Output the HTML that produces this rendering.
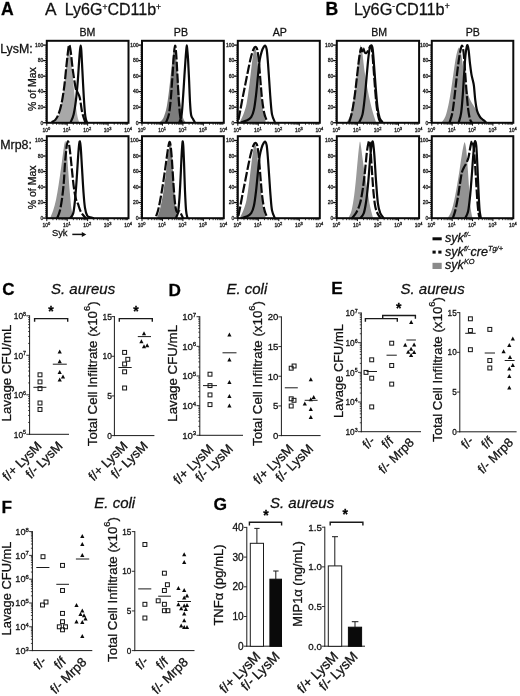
<!DOCTYPE html>
<html><head><meta charset="utf-8"><title>Figure</title>
<style>
html,body{margin:0;padding:0;background:#fff;}
body{width:520px;height:696px;overflow:hidden;font-family:"Liberation Sans",sans-serif;}
svg{display:block;font-family:"Liberation Sans",sans-serif;filter:blur(0.35px);}
svg text{font-family:"Liberation Sans",sans-serif;stroke:#111;stroke-width:0.28px;paint-order:stroke fill;}
</style></head><body>
<svg width="520" height="696" viewBox="0 0 520 696">
<rect x="0" y="0" width="520" height="696" fill="#ffffff"/>
<text x="0.90" y="15.20" font-size="17.6" text-anchor="start" font-weight="bold" fill="#000" >A</text>
<text x="45.00" y="15.20" font-size="17.3" text-anchor="start" fill="#111" >A</text>
<text x="64.70" y="15.20" font-size="16.05" text-anchor="start" fill="#111" >Ly6G<tspan font-size="8.5" dy="-5.6">+</tspan><tspan dy="5.6">CD11b</tspan><tspan font-size="8.5" dy="-5.6">+</tspan></text>
<text x="325.60" y="15.00" font-size="17.6" text-anchor="start" font-weight="bold" fill="#000" >B</text>
<text x="354.00" y="15.00" font-size="16.3" text-anchor="start" fill="#111" >Ly6G<tspan font-size="8.5" dy="-5.6">-</tspan><tspan dy="5.6">CD11b</tspan><tspan font-size="8.5" dy="-5.6">+</tspan></text>
<text x="87.40" y="35.60" font-size="10.6" text-anchor="middle" fill="#111" >BM</text>
<text x="180.90" y="35.60" font-size="10.6" text-anchor="middle" fill="#111" >PB</text>
<text x="279.80" y="35.60" font-size="10.6" text-anchor="middle" fill="#111" >AP</text>
<text x="379.20" y="35.60" font-size="10.6" text-anchor="middle" fill="#111" >BM</text>
<text x="472.70" y="35.60" font-size="10.6" text-anchor="middle" fill="#111" >PB</text>
<text x="0.20" y="52.60" font-size="12.4" text-anchor="start" fill="#111" >LysM:</text>
<text x="0.20" y="149.40" font-size="12.4" text-anchor="start" fill="#111" >Mrp8:</text>
<text x="36.00" y="89.00" font-size="10.5" text-anchor="middle" transform="rotate(-90 36.00 89.00)" fill="#111" >% of Max</text>
<text x="36.00" y="187.40" font-size="10.5" text-anchor="middle" transform="rotate(-90 36.00 187.40)" fill="#111" >% of Max</text>
<text x="51.90" y="236.10" font-size="9.4" text-anchor="start" fill="#111" >Syk</text>
<path d="M72.3,234.4 L83,234.4" stroke="#111" stroke-width="1.5" fill="none"/><path d="M81.8,231.9 L86.3,234.4 L81.8,236.9 Z" fill="#111"/>
<path d="M53.15,122.24 C53.76,121.72 55.59,121.36 56.81,119.13 C58.03,116.91 59.37,113.50 60.46,108.90 C61.56,104.31 62.47,98.25 63.38,91.55 C64.30,84.85 65.27,75.26 65.94,68.71 C66.61,62.17 66.95,56.04 67.40,52.27 C67.86,48.49 68.23,46.06 68.68,46.06 C69.14,46.06 69.50,47.58 70.14,52.27 C70.78,56.96 71.70,66.28 72.52,74.19 C73.34,82.11 74.25,92.77 75.08,99.77 C75.90,106.77 76.75,112.47 77.45,116.21 C78.15,119.96 78.97,121.24 79.28,122.24 L79.28,123.20 L53.15,123.20 Z" fill="#a8a8a8" stroke="none"/>
<path d="M51.69,122.24 C52.30,121.84 54.25,121.11 55.35,119.87 C56.44,118.62 57.26,117.34 58.27,114.75 C59.27,112.16 60.37,109.12 61.38,104.34 C62.38,99.56 63.45,92.61 64.30,86.07 C65.15,79.52 65.85,71.00 66.49,65.06 C67.13,59.12 67.68,53.79 68.13,50.44 C68.59,47.09 68.80,44.81 69.23,44.96 C69.66,45.11 70.08,47.09 70.69,51.36 C71.30,55.62 72.03,64.30 72.88,70.54 C73.74,76.78 74.99,85.09 75.81,88.81 C76.63,92.52 77.15,91.30 77.82,92.83 C78.49,94.35 79.10,94.65 79.83,97.94 C80.56,101.23 81.29,108.51 82.20,112.56 C83.12,116.61 84.79,120.63 85.31,122.24" fill="none" stroke="#0a0a0a" stroke-width="2.2" stroke-dasharray="9.5 2.2" stroke-linejoin="round"/>
<path d="M70.69,122.24 C71.18,120.93 72.73,118.13 73.62,114.38 C74.50,110.64 75.29,105.40 75.99,99.77 C76.69,94.14 77.30,86.98 77.82,80.59 C78.33,74.19 78.73,66.49 79.10,61.40 C79.46,56.32 79.75,52.70 80.01,50.08 C80.27,47.46 80.44,45.69 80.65,45.69 C80.86,45.69 81.00,45.94 81.29,50.08 C81.58,54.22 81.96,62.56 82.38,70.54 C82.81,78.52 83.36,90.33 83.85,97.94 C84.33,105.55 84.79,112.16 85.31,116.21 C85.83,120.26 86.68,121.24 86.95,122.24" fill="none" stroke="#0a0a0a" stroke-width="2.2" stroke-linejoin="round"/>
<rect x="46.80" y="40.80" width="81.70" height="82.00" fill="none" stroke="#0a0a0a" stroke-width="2.0"/>
<line x1="46.80" y1="122.70" x2="43.10" y2="122.70" stroke="#0a0a0a" stroke-width="1.3"/>
<line x1="46.80" y1="120.76" x2="45.05" y2="120.76" stroke="#0a0a0a" stroke-width="0.8"/>
<line x1="46.80" y1="118.82" x2="45.05" y2="118.82" stroke="#0a0a0a" stroke-width="0.8"/>
<line x1="46.80" y1="116.88" x2="45.05" y2="116.88" stroke="#0a0a0a" stroke-width="0.8"/>
<line x1="46.80" y1="114.94" x2="45.05" y2="114.94" stroke="#0a0a0a" stroke-width="0.8"/>
<line x1="46.80" y1="113.00" x2="45.05" y2="113.00" stroke="#0a0a0a" stroke-width="0.8"/>
<line x1="46.80" y1="111.06" x2="45.05" y2="111.06" stroke="#0a0a0a" stroke-width="0.8"/>
<line x1="46.80" y1="109.12" x2="45.05" y2="109.12" stroke="#0a0a0a" stroke-width="0.8"/>
<line x1="46.80" y1="107.18" x2="43.10" y2="107.18" stroke="#0a0a0a" stroke-width="1.3"/>
<line x1="46.80" y1="105.24" x2="45.05" y2="105.24" stroke="#0a0a0a" stroke-width="0.8"/>
<line x1="46.80" y1="103.30" x2="45.05" y2="103.30" stroke="#0a0a0a" stroke-width="0.8"/>
<line x1="46.80" y1="101.36" x2="45.05" y2="101.36" stroke="#0a0a0a" stroke-width="0.8"/>
<line x1="46.80" y1="99.42" x2="45.05" y2="99.42" stroke="#0a0a0a" stroke-width="0.8"/>
<line x1="46.80" y1="97.48" x2="45.05" y2="97.48" stroke="#0a0a0a" stroke-width="0.8"/>
<line x1="46.80" y1="95.54" x2="45.05" y2="95.54" stroke="#0a0a0a" stroke-width="0.8"/>
<line x1="46.80" y1="93.60" x2="45.05" y2="93.60" stroke="#0a0a0a" stroke-width="0.8"/>
<line x1="46.80" y1="91.66" x2="43.10" y2="91.66" stroke="#0a0a0a" stroke-width="1.3"/>
<line x1="46.80" y1="89.72" x2="45.05" y2="89.72" stroke="#0a0a0a" stroke-width="0.8"/>
<line x1="46.80" y1="87.78" x2="45.05" y2="87.78" stroke="#0a0a0a" stroke-width="0.8"/>
<line x1="46.80" y1="85.84" x2="45.05" y2="85.84" stroke="#0a0a0a" stroke-width="0.8"/>
<line x1="46.80" y1="83.90" x2="45.05" y2="83.90" stroke="#0a0a0a" stroke-width="0.8"/>
<line x1="46.80" y1="81.96" x2="45.05" y2="81.96" stroke="#0a0a0a" stroke-width="0.8"/>
<line x1="46.80" y1="80.02" x2="45.05" y2="80.02" stroke="#0a0a0a" stroke-width="0.8"/>
<line x1="46.80" y1="78.08" x2="45.05" y2="78.08" stroke="#0a0a0a" stroke-width="0.8"/>
<line x1="46.80" y1="76.14" x2="43.10" y2="76.14" stroke="#0a0a0a" stroke-width="1.3"/>
<line x1="46.80" y1="74.20" x2="45.05" y2="74.20" stroke="#0a0a0a" stroke-width="0.8"/>
<line x1="46.80" y1="72.26" x2="45.05" y2="72.26" stroke="#0a0a0a" stroke-width="0.8"/>
<line x1="46.80" y1="70.32" x2="45.05" y2="70.32" stroke="#0a0a0a" stroke-width="0.8"/>
<line x1="46.80" y1="68.38" x2="45.05" y2="68.38" stroke="#0a0a0a" stroke-width="0.8"/>
<line x1="46.80" y1="66.44" x2="45.05" y2="66.44" stroke="#0a0a0a" stroke-width="0.8"/>
<line x1="46.80" y1="64.50" x2="45.05" y2="64.50" stroke="#0a0a0a" stroke-width="0.8"/>
<line x1="46.80" y1="62.56" x2="45.05" y2="62.56" stroke="#0a0a0a" stroke-width="0.8"/>
<line x1="46.80" y1="60.62" x2="43.10" y2="60.62" stroke="#0a0a0a" stroke-width="1.3"/>
<line x1="46.80" y1="58.68" x2="45.05" y2="58.68" stroke="#0a0a0a" stroke-width="0.8"/>
<line x1="46.80" y1="56.74" x2="45.05" y2="56.74" stroke="#0a0a0a" stroke-width="0.8"/>
<line x1="46.80" y1="54.80" x2="45.05" y2="54.80" stroke="#0a0a0a" stroke-width="0.8"/>
<line x1="46.80" y1="52.86" x2="45.05" y2="52.86" stroke="#0a0a0a" stroke-width="0.8"/>
<line x1="46.80" y1="50.92" x2="45.05" y2="50.92" stroke="#0a0a0a" stroke-width="0.8"/>
<line x1="46.80" y1="48.98" x2="45.05" y2="48.98" stroke="#0a0a0a" stroke-width="0.8"/>
<line x1="46.80" y1="47.04" x2="45.05" y2="47.04" stroke="#0a0a0a" stroke-width="0.8"/>
<line x1="46.80" y1="45.10" x2="43.10" y2="45.10" stroke="#0a0a0a" stroke-width="1.3"/>
<text x="43.40" y="124.50" font-size="5" text-anchor="end" fill="#222" >0</text>
<text x="43.40" y="108.98" font-size="5" text-anchor="end" fill="#222" >20</text>
<text x="43.40" y="93.46" font-size="5" text-anchor="end" fill="#222" >40</text>
<text x="43.40" y="77.94" font-size="5" text-anchor="end" fill="#222" >60</text>
<text x="43.40" y="62.42" font-size="5" text-anchor="end" fill="#222" >80</text>
<text x="43.40" y="46.90" font-size="5" text-anchor="end" fill="#222" >100</text>
<line x1="46.80" y1="122.80" x2="46.80" y2="125.70" stroke="#0a0a0a" stroke-width="1.0"/>
<line x1="52.95" y1="122.80" x2="52.95" y2="124.80" stroke="#0a0a0a" stroke-width="0.8"/>
<line x1="56.55" y1="122.80" x2="56.55" y2="124.80" stroke="#0a0a0a" stroke-width="0.8"/>
<line x1="59.10" y1="122.80" x2="59.10" y2="124.80" stroke="#0a0a0a" stroke-width="0.8"/>
<line x1="61.08" y1="122.80" x2="61.08" y2="124.80" stroke="#0a0a0a" stroke-width="0.8"/>
<line x1="62.69" y1="122.80" x2="62.69" y2="124.80" stroke="#0a0a0a" stroke-width="0.8"/>
<line x1="64.06" y1="122.80" x2="64.06" y2="124.80" stroke="#0a0a0a" stroke-width="0.8"/>
<line x1="65.25" y1="122.80" x2="65.25" y2="124.80" stroke="#0a0a0a" stroke-width="0.8"/>
<line x1="66.29" y1="122.80" x2="66.29" y2="124.80" stroke="#0a0a0a" stroke-width="0.8"/>
<line x1="67.22" y1="122.80" x2="67.22" y2="125.70" stroke="#0a0a0a" stroke-width="1.0"/>
<line x1="73.37" y1="122.80" x2="73.37" y2="124.80" stroke="#0a0a0a" stroke-width="0.8"/>
<line x1="76.97" y1="122.80" x2="76.97" y2="124.80" stroke="#0a0a0a" stroke-width="0.8"/>
<line x1="79.52" y1="122.80" x2="79.52" y2="124.80" stroke="#0a0a0a" stroke-width="0.8"/>
<line x1="81.50" y1="122.80" x2="81.50" y2="124.80" stroke="#0a0a0a" stroke-width="0.8"/>
<line x1="83.12" y1="122.80" x2="83.12" y2="124.80" stroke="#0a0a0a" stroke-width="0.8"/>
<line x1="84.49" y1="122.80" x2="84.49" y2="124.80" stroke="#0a0a0a" stroke-width="0.8"/>
<line x1="85.67" y1="122.80" x2="85.67" y2="124.80" stroke="#0a0a0a" stroke-width="0.8"/>
<line x1="86.72" y1="122.80" x2="86.72" y2="124.80" stroke="#0a0a0a" stroke-width="0.8"/>
<line x1="87.65" y1="122.80" x2="87.65" y2="125.70" stroke="#0a0a0a" stroke-width="1.0"/>
<line x1="93.80" y1="122.80" x2="93.80" y2="124.80" stroke="#0a0a0a" stroke-width="0.8"/>
<line x1="97.40" y1="122.80" x2="97.40" y2="124.80" stroke="#0a0a0a" stroke-width="0.8"/>
<line x1="99.95" y1="122.80" x2="99.95" y2="124.80" stroke="#0a0a0a" stroke-width="0.8"/>
<line x1="101.93" y1="122.80" x2="101.93" y2="124.80" stroke="#0a0a0a" stroke-width="0.8"/>
<line x1="103.54" y1="122.80" x2="103.54" y2="124.80" stroke="#0a0a0a" stroke-width="0.8"/>
<line x1="104.91" y1="122.80" x2="104.91" y2="124.80" stroke="#0a0a0a" stroke-width="0.8"/>
<line x1="106.10" y1="122.80" x2="106.10" y2="124.80" stroke="#0a0a0a" stroke-width="0.8"/>
<line x1="107.14" y1="122.80" x2="107.14" y2="124.80" stroke="#0a0a0a" stroke-width="0.8"/>
<line x1="108.08" y1="122.80" x2="108.08" y2="125.70" stroke="#0a0a0a" stroke-width="1.0"/>
<line x1="114.22" y1="122.80" x2="114.22" y2="124.80" stroke="#0a0a0a" stroke-width="0.8"/>
<line x1="117.82" y1="122.80" x2="117.82" y2="124.80" stroke="#0a0a0a" stroke-width="0.8"/>
<line x1="120.37" y1="122.80" x2="120.37" y2="124.80" stroke="#0a0a0a" stroke-width="0.8"/>
<line x1="122.35" y1="122.80" x2="122.35" y2="124.80" stroke="#0a0a0a" stroke-width="0.8"/>
<line x1="123.97" y1="122.80" x2="123.97" y2="124.80" stroke="#0a0a0a" stroke-width="0.8"/>
<line x1="125.34" y1="122.80" x2="125.34" y2="124.80" stroke="#0a0a0a" stroke-width="0.8"/>
<line x1="126.52" y1="122.80" x2="126.52" y2="124.80" stroke="#0a0a0a" stroke-width="0.8"/>
<line x1="127.57" y1="122.80" x2="127.57" y2="124.80" stroke="#0a0a0a" stroke-width="0.8"/>
<text x="42.50" y="132.00" font-size="5" text-anchor="start" fill="#222" >10<tspan font-size="4" dy="-2.3">0</tspan></text>
<text x="62.92" y="132.00" font-size="5" text-anchor="start" fill="#222" >10<tspan font-size="4" dy="-2.3">1</tspan></text>
<text x="83.35" y="132.00" font-size="5" text-anchor="start" fill="#222" >10<tspan font-size="4" dy="-2.3">2</tspan></text>
<text x="103.78" y="132.00" font-size="5" text-anchor="start" fill="#222" >10<tspan font-size="4" dy="-2.3">3</tspan></text>
<text x="124.20" y="132.00" font-size="5" text-anchor="start" fill="#222" >10<tspan font-size="4" dy="-2.3">4</tspan></text>
<path d="M159.75,122.24 C160.36,121.54 162.25,120.57 163.40,118.04 C164.56,115.51 165.72,111.95 166.69,107.08 C167.67,102.21 168.43,95.51 169.25,88.81 C170.07,82.11 170.92,73.13 171.62,66.88 C172.33,60.64 172.96,54.64 173.45,51.36 C173.94,48.07 174.09,46.09 174.55,47.15 C175.00,48.22 175.55,52.03 176.19,57.75 C176.83,63.47 177.62,73.58 178.38,81.50 C179.15,89.42 179.97,99.16 180.76,105.25 C181.55,111.34 182.31,115.21 183.13,118.04 C183.96,120.87 185.27,121.54 185.69,122.24 L185.69,123.20 L159.75,123.20 Z" fill="#7c7c7c" stroke="none"/>
<path d="M166.14,122.24 C166.60,120.93 168.12,118.13 168.88,114.38 C169.65,110.64 170.13,105.86 170.71,99.77 C171.29,93.68 171.84,85.15 172.36,77.85 C172.87,70.54 173.36,61.28 173.82,55.92 C174.27,50.56 174.70,46.00 175.10,45.69 C175.49,45.39 175.80,49.04 176.19,54.10 C176.59,59.15 177.04,68.41 177.47,76.02 C177.90,83.63 178.29,93.07 178.75,99.77 C179.21,106.47 179.72,112.47 180.21,116.21 C180.70,119.96 181.43,121.24 181.67,122.24" fill="none" stroke="#0a0a0a" stroke-width="2.2" stroke-dasharray="9.5 2.2" stroke-linejoin="round"/>
<path d="M179.48,122.24 C179.85,120.93 181.06,118.74 181.67,114.38 C182.28,110.03 182.68,102.51 183.13,96.12 C183.59,89.72 184.02,82.11 184.41,76.02 C184.81,69.93 185.21,63.84 185.51,59.58 C185.81,55.31 186.03,52.82 186.24,50.44 C186.45,48.07 186.61,45.33 186.79,45.33 C186.97,45.33 187.12,48.07 187.34,50.44 C187.55,52.82 187.79,55.01 188.07,59.58 C188.34,64.14 188.65,70.54 188.98,77.85 C189.32,85.15 189.71,97.18 190.08,103.42 C190.44,109.67 190.69,112.71 191.17,115.30 C191.66,117.89 192.39,117.79 193.00,118.95 C193.61,120.11 194.52,121.69 194.83,122.24" fill="none" stroke="#0a0a0a" stroke-width="2.2" stroke-linejoin="round"/>
<rect x="142.00" y="40.80" width="81.80" height="82.00" fill="none" stroke="#0a0a0a" stroke-width="2.0"/>
<line x1="142.00" y1="122.70" x2="138.30" y2="122.70" stroke="#0a0a0a" stroke-width="1.3"/>
<line x1="142.00" y1="120.76" x2="140.25" y2="120.76" stroke="#0a0a0a" stroke-width="0.8"/>
<line x1="142.00" y1="118.82" x2="140.25" y2="118.82" stroke="#0a0a0a" stroke-width="0.8"/>
<line x1="142.00" y1="116.88" x2="140.25" y2="116.88" stroke="#0a0a0a" stroke-width="0.8"/>
<line x1="142.00" y1="114.94" x2="140.25" y2="114.94" stroke="#0a0a0a" stroke-width="0.8"/>
<line x1="142.00" y1="113.00" x2="140.25" y2="113.00" stroke="#0a0a0a" stroke-width="0.8"/>
<line x1="142.00" y1="111.06" x2="140.25" y2="111.06" stroke="#0a0a0a" stroke-width="0.8"/>
<line x1="142.00" y1="109.12" x2="140.25" y2="109.12" stroke="#0a0a0a" stroke-width="0.8"/>
<line x1="142.00" y1="107.18" x2="138.30" y2="107.18" stroke="#0a0a0a" stroke-width="1.3"/>
<line x1="142.00" y1="105.24" x2="140.25" y2="105.24" stroke="#0a0a0a" stroke-width="0.8"/>
<line x1="142.00" y1="103.30" x2="140.25" y2="103.30" stroke="#0a0a0a" stroke-width="0.8"/>
<line x1="142.00" y1="101.36" x2="140.25" y2="101.36" stroke="#0a0a0a" stroke-width="0.8"/>
<line x1="142.00" y1="99.42" x2="140.25" y2="99.42" stroke="#0a0a0a" stroke-width="0.8"/>
<line x1="142.00" y1="97.48" x2="140.25" y2="97.48" stroke="#0a0a0a" stroke-width="0.8"/>
<line x1="142.00" y1="95.54" x2="140.25" y2="95.54" stroke="#0a0a0a" stroke-width="0.8"/>
<line x1="142.00" y1="93.60" x2="140.25" y2="93.60" stroke="#0a0a0a" stroke-width="0.8"/>
<line x1="142.00" y1="91.66" x2="138.30" y2="91.66" stroke="#0a0a0a" stroke-width="1.3"/>
<line x1="142.00" y1="89.72" x2="140.25" y2="89.72" stroke="#0a0a0a" stroke-width="0.8"/>
<line x1="142.00" y1="87.78" x2="140.25" y2="87.78" stroke="#0a0a0a" stroke-width="0.8"/>
<line x1="142.00" y1="85.84" x2="140.25" y2="85.84" stroke="#0a0a0a" stroke-width="0.8"/>
<line x1="142.00" y1="83.90" x2="140.25" y2="83.90" stroke="#0a0a0a" stroke-width="0.8"/>
<line x1="142.00" y1="81.96" x2="140.25" y2="81.96" stroke="#0a0a0a" stroke-width="0.8"/>
<line x1="142.00" y1="80.02" x2="140.25" y2="80.02" stroke="#0a0a0a" stroke-width="0.8"/>
<line x1="142.00" y1="78.08" x2="140.25" y2="78.08" stroke="#0a0a0a" stroke-width="0.8"/>
<line x1="142.00" y1="76.14" x2="138.30" y2="76.14" stroke="#0a0a0a" stroke-width="1.3"/>
<line x1="142.00" y1="74.20" x2="140.25" y2="74.20" stroke="#0a0a0a" stroke-width="0.8"/>
<line x1="142.00" y1="72.26" x2="140.25" y2="72.26" stroke="#0a0a0a" stroke-width="0.8"/>
<line x1="142.00" y1="70.32" x2="140.25" y2="70.32" stroke="#0a0a0a" stroke-width="0.8"/>
<line x1="142.00" y1="68.38" x2="140.25" y2="68.38" stroke="#0a0a0a" stroke-width="0.8"/>
<line x1="142.00" y1="66.44" x2="140.25" y2="66.44" stroke="#0a0a0a" stroke-width="0.8"/>
<line x1="142.00" y1="64.50" x2="140.25" y2="64.50" stroke="#0a0a0a" stroke-width="0.8"/>
<line x1="142.00" y1="62.56" x2="140.25" y2="62.56" stroke="#0a0a0a" stroke-width="0.8"/>
<line x1="142.00" y1="60.62" x2="138.30" y2="60.62" stroke="#0a0a0a" stroke-width="1.3"/>
<line x1="142.00" y1="58.68" x2="140.25" y2="58.68" stroke="#0a0a0a" stroke-width="0.8"/>
<line x1="142.00" y1="56.74" x2="140.25" y2="56.74" stroke="#0a0a0a" stroke-width="0.8"/>
<line x1="142.00" y1="54.80" x2="140.25" y2="54.80" stroke="#0a0a0a" stroke-width="0.8"/>
<line x1="142.00" y1="52.86" x2="140.25" y2="52.86" stroke="#0a0a0a" stroke-width="0.8"/>
<line x1="142.00" y1="50.92" x2="140.25" y2="50.92" stroke="#0a0a0a" stroke-width="0.8"/>
<line x1="142.00" y1="48.98" x2="140.25" y2="48.98" stroke="#0a0a0a" stroke-width="0.8"/>
<line x1="142.00" y1="47.04" x2="140.25" y2="47.04" stroke="#0a0a0a" stroke-width="0.8"/>
<line x1="142.00" y1="45.10" x2="138.30" y2="45.10" stroke="#0a0a0a" stroke-width="1.3"/>
<text x="138.60" y="124.50" font-size="5" text-anchor="end" fill="#222" >0</text>
<text x="138.60" y="108.98" font-size="5" text-anchor="end" fill="#222" >20</text>
<text x="138.60" y="93.46" font-size="5" text-anchor="end" fill="#222" >40</text>
<text x="138.60" y="77.94" font-size="5" text-anchor="end" fill="#222" >60</text>
<text x="138.60" y="62.42" font-size="5" text-anchor="end" fill="#222" >80</text>
<text x="138.60" y="46.90" font-size="5" text-anchor="end" fill="#222" >100</text>
<line x1="142.00" y1="122.80" x2="142.00" y2="125.70" stroke="#0a0a0a" stroke-width="1.0"/>
<line x1="148.16" y1="122.80" x2="148.16" y2="124.80" stroke="#0a0a0a" stroke-width="0.8"/>
<line x1="151.76" y1="122.80" x2="151.76" y2="124.80" stroke="#0a0a0a" stroke-width="0.8"/>
<line x1="154.31" y1="122.80" x2="154.31" y2="124.80" stroke="#0a0a0a" stroke-width="0.8"/>
<line x1="156.29" y1="122.80" x2="156.29" y2="124.80" stroke="#0a0a0a" stroke-width="0.8"/>
<line x1="157.91" y1="122.80" x2="157.91" y2="124.80" stroke="#0a0a0a" stroke-width="0.8"/>
<line x1="159.28" y1="122.80" x2="159.28" y2="124.80" stroke="#0a0a0a" stroke-width="0.8"/>
<line x1="160.47" y1="122.80" x2="160.47" y2="124.80" stroke="#0a0a0a" stroke-width="0.8"/>
<line x1="161.51" y1="122.80" x2="161.51" y2="124.80" stroke="#0a0a0a" stroke-width="0.8"/>
<line x1="162.45" y1="122.80" x2="162.45" y2="125.70" stroke="#0a0a0a" stroke-width="1.0"/>
<line x1="168.61" y1="122.80" x2="168.61" y2="124.80" stroke="#0a0a0a" stroke-width="0.8"/>
<line x1="172.21" y1="122.80" x2="172.21" y2="124.80" stroke="#0a0a0a" stroke-width="0.8"/>
<line x1="174.76" y1="122.80" x2="174.76" y2="124.80" stroke="#0a0a0a" stroke-width="0.8"/>
<line x1="176.74" y1="122.80" x2="176.74" y2="124.80" stroke="#0a0a0a" stroke-width="0.8"/>
<line x1="178.36" y1="122.80" x2="178.36" y2="124.80" stroke="#0a0a0a" stroke-width="0.8"/>
<line x1="179.73" y1="122.80" x2="179.73" y2="124.80" stroke="#0a0a0a" stroke-width="0.8"/>
<line x1="180.92" y1="122.80" x2="180.92" y2="124.80" stroke="#0a0a0a" stroke-width="0.8"/>
<line x1="181.96" y1="122.80" x2="181.96" y2="124.80" stroke="#0a0a0a" stroke-width="0.8"/>
<line x1="182.90" y1="122.80" x2="182.90" y2="125.70" stroke="#0a0a0a" stroke-width="1.0"/>
<line x1="189.06" y1="122.80" x2="189.06" y2="124.80" stroke="#0a0a0a" stroke-width="0.8"/>
<line x1="192.66" y1="122.80" x2="192.66" y2="124.80" stroke="#0a0a0a" stroke-width="0.8"/>
<line x1="195.21" y1="122.80" x2="195.21" y2="124.80" stroke="#0a0a0a" stroke-width="0.8"/>
<line x1="197.19" y1="122.80" x2="197.19" y2="124.80" stroke="#0a0a0a" stroke-width="0.8"/>
<line x1="198.81" y1="122.80" x2="198.81" y2="124.80" stroke="#0a0a0a" stroke-width="0.8"/>
<line x1="200.18" y1="122.80" x2="200.18" y2="124.80" stroke="#0a0a0a" stroke-width="0.8"/>
<line x1="201.37" y1="122.80" x2="201.37" y2="124.80" stroke="#0a0a0a" stroke-width="0.8"/>
<line x1="202.41" y1="122.80" x2="202.41" y2="124.80" stroke="#0a0a0a" stroke-width="0.8"/>
<line x1="203.35" y1="122.80" x2="203.35" y2="125.70" stroke="#0a0a0a" stroke-width="1.0"/>
<line x1="209.51" y1="122.80" x2="209.51" y2="124.80" stroke="#0a0a0a" stroke-width="0.8"/>
<line x1="213.11" y1="122.80" x2="213.11" y2="124.80" stroke="#0a0a0a" stroke-width="0.8"/>
<line x1="215.66" y1="122.80" x2="215.66" y2="124.80" stroke="#0a0a0a" stroke-width="0.8"/>
<line x1="217.64" y1="122.80" x2="217.64" y2="124.80" stroke="#0a0a0a" stroke-width="0.8"/>
<line x1="219.26" y1="122.80" x2="219.26" y2="124.80" stroke="#0a0a0a" stroke-width="0.8"/>
<line x1="220.63" y1="122.80" x2="220.63" y2="124.80" stroke="#0a0a0a" stroke-width="0.8"/>
<line x1="221.82" y1="122.80" x2="221.82" y2="124.80" stroke="#0a0a0a" stroke-width="0.8"/>
<line x1="222.86" y1="122.80" x2="222.86" y2="124.80" stroke="#0a0a0a" stroke-width="0.8"/>
<text x="137.70" y="132.00" font-size="5" text-anchor="start" fill="#222" >10<tspan font-size="4" dy="-2.3">0</tspan></text>
<text x="158.15" y="132.00" font-size="5" text-anchor="start" fill="#222" >10<tspan font-size="4" dy="-2.3">1</tspan></text>
<text x="178.60" y="132.00" font-size="5" text-anchor="start" fill="#222" >10<tspan font-size="4" dy="-2.3">2</tspan></text>
<text x="199.05" y="132.00" font-size="5" text-anchor="start" fill="#222" >10<tspan font-size="4" dy="-2.3">3</tspan></text>
<text x="219.50" y="132.00" font-size="5" text-anchor="start" fill="#222" >10<tspan font-size="4" dy="-2.3">4</tspan></text>
<path d="M239.67,122.24 C240.28,120.93 242.17,117.52 243.33,114.38 C244.48,111.25 245.58,108.60 246.62,103.42 C247.65,98.25 248.69,89.72 249.54,83.33 C250.39,76.93 251.06,70.23 251.73,65.06 C252.40,59.88 253.01,55.13 253.56,52.27 C254.11,49.41 254.50,47.58 255.02,47.88 C255.54,48.19 256.08,50.32 256.66,54.10 C257.24,57.87 257.82,64.14 258.49,70.54 C259.16,76.93 259.92,85.76 260.68,92.46 C261.44,99.16 262.21,105.77 263.06,110.73 C263.91,115.69 265.34,120.32 265.80,122.24 L265.80,123.20 L239.67,123.20 Z" fill="#8c8c8c" stroke="none"/>
<path d="M238.39,119.87 C238.70,118.34 239.52,114.38 240.22,110.73 C240.92,107.08 241.77,102.21 242.60,97.94 C243.42,93.68 244.24,89.72 245.15,85.15 C246.07,80.59 247.13,75.11 248.08,70.54 C249.02,65.97 249.93,61.25 250.82,57.75 C251.70,54.25 252.61,51.36 253.38,49.53 C254.14,47.70 254.75,46.79 255.38,46.79 C256.02,46.79 256.63,47.09 257.21,49.53 C257.79,51.96 258.31,56.08 258.86,61.40 C259.40,66.73 259.95,75.11 260.50,81.50 C261.05,87.89 261.47,94.29 262.14,99.77 C262.81,105.25 263.61,110.64 264.52,114.38 C265.43,118.13 267.11,120.93 267.62,122.24" fill="none" stroke="#0a0a0a" stroke-width="2.2" stroke-dasharray="9.5 2.2" stroke-linejoin="round"/>
<path d="M241.13,122.24 C242.05,121.97 244.94,121.45 246.62,120.60 C248.29,119.74 249.96,118.92 251.18,117.12 C252.40,115.33 253.10,113.62 253.92,109.82 C254.75,106.01 255.45,99.92 256.12,94.29 C256.79,88.66 257.33,81.80 257.94,76.02 C258.55,70.23 259.13,63.69 259.77,59.58 C260.41,55.47 261.14,53.43 261.78,51.36 C262.42,49.29 263.03,48.10 263.61,47.15 C264.18,46.21 264.73,45.30 265.25,45.69 C265.77,46.09 266.25,46.61 266.71,49.53 C267.17,52.45 267.56,57.90 267.99,63.23 C268.42,68.56 268.84,75.41 269.27,81.50 C269.70,87.59 270.09,94.29 270.55,99.77 C271.00,105.25 271.28,110.64 272.01,114.38 C272.74,118.13 274.45,120.93 274.93,122.24" fill="none" stroke="#0a0a0a" stroke-width="2.2" stroke-linejoin="round"/>
<rect x="237.80" y="40.80" width="82.00" height="82.00" fill="none" stroke="#0a0a0a" stroke-width="2.0"/>
<line x1="237.80" y1="122.70" x2="234.10" y2="122.70" stroke="#0a0a0a" stroke-width="1.3"/>
<line x1="237.80" y1="120.76" x2="236.05" y2="120.76" stroke="#0a0a0a" stroke-width="0.8"/>
<line x1="237.80" y1="118.82" x2="236.05" y2="118.82" stroke="#0a0a0a" stroke-width="0.8"/>
<line x1="237.80" y1="116.88" x2="236.05" y2="116.88" stroke="#0a0a0a" stroke-width="0.8"/>
<line x1="237.80" y1="114.94" x2="236.05" y2="114.94" stroke="#0a0a0a" stroke-width="0.8"/>
<line x1="237.80" y1="113.00" x2="236.05" y2="113.00" stroke="#0a0a0a" stroke-width="0.8"/>
<line x1="237.80" y1="111.06" x2="236.05" y2="111.06" stroke="#0a0a0a" stroke-width="0.8"/>
<line x1="237.80" y1="109.12" x2="236.05" y2="109.12" stroke="#0a0a0a" stroke-width="0.8"/>
<line x1="237.80" y1="107.18" x2="234.10" y2="107.18" stroke="#0a0a0a" stroke-width="1.3"/>
<line x1="237.80" y1="105.24" x2="236.05" y2="105.24" stroke="#0a0a0a" stroke-width="0.8"/>
<line x1="237.80" y1="103.30" x2="236.05" y2="103.30" stroke="#0a0a0a" stroke-width="0.8"/>
<line x1="237.80" y1="101.36" x2="236.05" y2="101.36" stroke="#0a0a0a" stroke-width="0.8"/>
<line x1="237.80" y1="99.42" x2="236.05" y2="99.42" stroke="#0a0a0a" stroke-width="0.8"/>
<line x1="237.80" y1="97.48" x2="236.05" y2="97.48" stroke="#0a0a0a" stroke-width="0.8"/>
<line x1="237.80" y1="95.54" x2="236.05" y2="95.54" stroke="#0a0a0a" stroke-width="0.8"/>
<line x1="237.80" y1="93.60" x2="236.05" y2="93.60" stroke="#0a0a0a" stroke-width="0.8"/>
<line x1="237.80" y1="91.66" x2="234.10" y2="91.66" stroke="#0a0a0a" stroke-width="1.3"/>
<line x1="237.80" y1="89.72" x2="236.05" y2="89.72" stroke="#0a0a0a" stroke-width="0.8"/>
<line x1="237.80" y1="87.78" x2="236.05" y2="87.78" stroke="#0a0a0a" stroke-width="0.8"/>
<line x1="237.80" y1="85.84" x2="236.05" y2="85.84" stroke="#0a0a0a" stroke-width="0.8"/>
<line x1="237.80" y1="83.90" x2="236.05" y2="83.90" stroke="#0a0a0a" stroke-width="0.8"/>
<line x1="237.80" y1="81.96" x2="236.05" y2="81.96" stroke="#0a0a0a" stroke-width="0.8"/>
<line x1="237.80" y1="80.02" x2="236.05" y2="80.02" stroke="#0a0a0a" stroke-width="0.8"/>
<line x1="237.80" y1="78.08" x2="236.05" y2="78.08" stroke="#0a0a0a" stroke-width="0.8"/>
<line x1="237.80" y1="76.14" x2="234.10" y2="76.14" stroke="#0a0a0a" stroke-width="1.3"/>
<line x1="237.80" y1="74.20" x2="236.05" y2="74.20" stroke="#0a0a0a" stroke-width="0.8"/>
<line x1="237.80" y1="72.26" x2="236.05" y2="72.26" stroke="#0a0a0a" stroke-width="0.8"/>
<line x1="237.80" y1="70.32" x2="236.05" y2="70.32" stroke="#0a0a0a" stroke-width="0.8"/>
<line x1="237.80" y1="68.38" x2="236.05" y2="68.38" stroke="#0a0a0a" stroke-width="0.8"/>
<line x1="237.80" y1="66.44" x2="236.05" y2="66.44" stroke="#0a0a0a" stroke-width="0.8"/>
<line x1="237.80" y1="64.50" x2="236.05" y2="64.50" stroke="#0a0a0a" stroke-width="0.8"/>
<line x1="237.80" y1="62.56" x2="236.05" y2="62.56" stroke="#0a0a0a" stroke-width="0.8"/>
<line x1="237.80" y1="60.62" x2="234.10" y2="60.62" stroke="#0a0a0a" stroke-width="1.3"/>
<line x1="237.80" y1="58.68" x2="236.05" y2="58.68" stroke="#0a0a0a" stroke-width="0.8"/>
<line x1="237.80" y1="56.74" x2="236.05" y2="56.74" stroke="#0a0a0a" stroke-width="0.8"/>
<line x1="237.80" y1="54.80" x2="236.05" y2="54.80" stroke="#0a0a0a" stroke-width="0.8"/>
<line x1="237.80" y1="52.86" x2="236.05" y2="52.86" stroke="#0a0a0a" stroke-width="0.8"/>
<line x1="237.80" y1="50.92" x2="236.05" y2="50.92" stroke="#0a0a0a" stroke-width="0.8"/>
<line x1="237.80" y1="48.98" x2="236.05" y2="48.98" stroke="#0a0a0a" stroke-width="0.8"/>
<line x1="237.80" y1="47.04" x2="236.05" y2="47.04" stroke="#0a0a0a" stroke-width="0.8"/>
<line x1="237.80" y1="45.10" x2="234.10" y2="45.10" stroke="#0a0a0a" stroke-width="1.3"/>
<text x="234.40" y="124.50" font-size="5" text-anchor="end" fill="#222" >0</text>
<text x="234.40" y="108.98" font-size="5" text-anchor="end" fill="#222" >20</text>
<text x="234.40" y="93.46" font-size="5" text-anchor="end" fill="#222" >40</text>
<text x="234.40" y="77.94" font-size="5" text-anchor="end" fill="#222" >60</text>
<text x="234.40" y="62.42" font-size="5" text-anchor="end" fill="#222" >80</text>
<text x="234.40" y="46.90" font-size="5" text-anchor="end" fill="#222" >100</text>
<line x1="237.80" y1="122.80" x2="237.80" y2="125.70" stroke="#0a0a0a" stroke-width="1.0"/>
<line x1="243.97" y1="122.80" x2="243.97" y2="124.80" stroke="#0a0a0a" stroke-width="0.8"/>
<line x1="247.58" y1="122.80" x2="247.58" y2="124.80" stroke="#0a0a0a" stroke-width="0.8"/>
<line x1="250.14" y1="122.80" x2="250.14" y2="124.80" stroke="#0a0a0a" stroke-width="0.8"/>
<line x1="252.13" y1="122.80" x2="252.13" y2="124.80" stroke="#0a0a0a" stroke-width="0.8"/>
<line x1="253.75" y1="122.80" x2="253.75" y2="124.80" stroke="#0a0a0a" stroke-width="0.8"/>
<line x1="255.12" y1="122.80" x2="255.12" y2="124.80" stroke="#0a0a0a" stroke-width="0.8"/>
<line x1="256.31" y1="122.80" x2="256.31" y2="124.80" stroke="#0a0a0a" stroke-width="0.8"/>
<line x1="257.36" y1="122.80" x2="257.36" y2="124.80" stroke="#0a0a0a" stroke-width="0.8"/>
<line x1="258.30" y1="122.80" x2="258.30" y2="125.70" stroke="#0a0a0a" stroke-width="1.0"/>
<line x1="264.47" y1="122.80" x2="264.47" y2="124.80" stroke="#0a0a0a" stroke-width="0.8"/>
<line x1="268.08" y1="122.80" x2="268.08" y2="124.80" stroke="#0a0a0a" stroke-width="0.8"/>
<line x1="270.64" y1="122.80" x2="270.64" y2="124.80" stroke="#0a0a0a" stroke-width="0.8"/>
<line x1="272.63" y1="122.80" x2="272.63" y2="124.80" stroke="#0a0a0a" stroke-width="0.8"/>
<line x1="274.25" y1="122.80" x2="274.25" y2="124.80" stroke="#0a0a0a" stroke-width="0.8"/>
<line x1="275.62" y1="122.80" x2="275.62" y2="124.80" stroke="#0a0a0a" stroke-width="0.8"/>
<line x1="276.81" y1="122.80" x2="276.81" y2="124.80" stroke="#0a0a0a" stroke-width="0.8"/>
<line x1="277.86" y1="122.80" x2="277.86" y2="124.80" stroke="#0a0a0a" stroke-width="0.8"/>
<line x1="278.80" y1="122.80" x2="278.80" y2="125.70" stroke="#0a0a0a" stroke-width="1.0"/>
<line x1="284.97" y1="122.80" x2="284.97" y2="124.80" stroke="#0a0a0a" stroke-width="0.8"/>
<line x1="288.58" y1="122.80" x2="288.58" y2="124.80" stroke="#0a0a0a" stroke-width="0.8"/>
<line x1="291.14" y1="122.80" x2="291.14" y2="124.80" stroke="#0a0a0a" stroke-width="0.8"/>
<line x1="293.13" y1="122.80" x2="293.13" y2="124.80" stroke="#0a0a0a" stroke-width="0.8"/>
<line x1="294.75" y1="122.80" x2="294.75" y2="124.80" stroke="#0a0a0a" stroke-width="0.8"/>
<line x1="296.12" y1="122.80" x2="296.12" y2="124.80" stroke="#0a0a0a" stroke-width="0.8"/>
<line x1="297.31" y1="122.80" x2="297.31" y2="124.80" stroke="#0a0a0a" stroke-width="0.8"/>
<line x1="298.36" y1="122.80" x2="298.36" y2="124.80" stroke="#0a0a0a" stroke-width="0.8"/>
<line x1="299.30" y1="122.80" x2="299.30" y2="125.70" stroke="#0a0a0a" stroke-width="1.0"/>
<line x1="305.47" y1="122.80" x2="305.47" y2="124.80" stroke="#0a0a0a" stroke-width="0.8"/>
<line x1="309.08" y1="122.80" x2="309.08" y2="124.80" stroke="#0a0a0a" stroke-width="0.8"/>
<line x1="311.64" y1="122.80" x2="311.64" y2="124.80" stroke="#0a0a0a" stroke-width="0.8"/>
<line x1="313.63" y1="122.80" x2="313.63" y2="124.80" stroke="#0a0a0a" stroke-width="0.8"/>
<line x1="315.25" y1="122.80" x2="315.25" y2="124.80" stroke="#0a0a0a" stroke-width="0.8"/>
<line x1="316.62" y1="122.80" x2="316.62" y2="124.80" stroke="#0a0a0a" stroke-width="0.8"/>
<line x1="317.81" y1="122.80" x2="317.81" y2="124.80" stroke="#0a0a0a" stroke-width="0.8"/>
<line x1="318.86" y1="122.80" x2="318.86" y2="124.80" stroke="#0a0a0a" stroke-width="0.8"/>
<text x="233.50" y="132.00" font-size="5" text-anchor="start" fill="#222" >10<tspan font-size="4" dy="-2.3">0</tspan></text>
<text x="254.00" y="132.00" font-size="5" text-anchor="start" fill="#222" >10<tspan font-size="4" dy="-2.3">1</tspan></text>
<text x="274.50" y="132.00" font-size="5" text-anchor="start" fill="#222" >10<tspan font-size="4" dy="-2.3">2</tspan></text>
<text x="295.00" y="132.00" font-size="5" text-anchor="start" fill="#222" >10<tspan font-size="4" dy="-2.3">3</tspan></text>
<text x="315.50" y="132.00" font-size="5" text-anchor="start" fill="#222" >10<tspan font-size="4" dy="-2.3">4</tspan></text>
<path d="M346.81,122.24 C347.42,120.93 349.37,118.13 350.46,114.38 C351.56,110.64 352.44,105.55 353.38,99.77 C354.33,93.98 355.30,86.37 356.12,79.67 C356.95,72.97 357.65,65.00 358.32,59.58 C358.99,54.16 359.69,49.47 360.14,47.15 C360.60,44.84 360.66,44.54 361.06,45.69 C361.45,46.85 361.91,49.65 362.52,54.10 C363.13,58.54 363.89,66.58 364.71,72.37 C365.53,78.15 366.48,83.63 367.45,88.81 C368.43,93.98 369.55,99.16 370.56,103.42 C371.56,107.69 372.57,111.25 373.48,114.38 C374.39,117.52 375.61,120.93 376.04,122.24 L376.04,123.20 L346.81,123.20 Z" fill="#9a9a9a" stroke="none"/>
<path d="M349.18,122.24 C349.64,120.63 351.01,116.91 351.92,112.56 C352.84,108.20 353.81,102.21 354.66,96.12 C355.52,90.03 356.28,82.41 357.04,76.02 C357.80,69.62 358.56,62.38 359.23,57.75 C359.90,53.12 360.57,49.32 361.06,48.25 C361.54,47.18 361.79,51.36 362.15,51.36 C362.52,51.36 362.82,48.10 363.25,48.25 C363.68,48.40 364.22,51.45 364.71,52.27 C365.20,53.09 365.69,53.33 366.17,53.18 C366.66,53.03 367.15,52.12 367.63,51.36 C368.12,50.59 368.61,49.50 369.10,48.62 C369.58,47.73 370.07,45.75 370.56,46.06 C371.04,46.36 371.53,46.97 372.02,50.44 C372.51,53.91 372.99,60.79 373.48,66.88 C373.97,72.97 374.39,80.28 374.94,86.98 C375.49,93.68 376.10,101.75 376.77,107.08 C377.44,112.41 378.29,116.42 378.96,118.95 C379.63,121.48 380.48,121.69 380.79,122.24" fill="none" stroke="#0a0a0a" stroke-width="2.2" stroke-dasharray="9.5 2.2" stroke-linejoin="round"/>
<path d="M359.23,122.24 C359.78,120.93 361.61,118.43 362.52,114.38 C363.43,110.33 364.04,104.03 364.71,97.94 C365.38,91.85 365.96,84.24 366.54,77.85 C367.12,71.45 367.67,64.45 368.18,59.58 C368.70,54.71 369.10,50.99 369.64,48.62 C370.19,46.24 370.95,45.17 371.47,45.33 C371.99,45.48 372.32,46.24 372.75,49.53 C373.18,52.82 373.54,58.82 374.03,65.06 C374.52,71.30 375.09,79.98 375.67,86.98 C376.25,93.98 376.83,101.90 377.50,107.08 C378.17,112.25 378.84,115.51 379.69,118.04 C380.54,120.57 382.13,121.54 382.62,122.24" fill="none" stroke="#0a0a0a" stroke-width="2.2" stroke-linejoin="round"/>
<rect x="336.80" y="40.80" width="82.30" height="82.00" fill="none" stroke="#0a0a0a" stroke-width="2.0"/>
<line x1="336.80" y1="122.70" x2="333.10" y2="122.70" stroke="#0a0a0a" stroke-width="1.3"/>
<line x1="336.80" y1="120.76" x2="335.05" y2="120.76" stroke="#0a0a0a" stroke-width="0.8"/>
<line x1="336.80" y1="118.82" x2="335.05" y2="118.82" stroke="#0a0a0a" stroke-width="0.8"/>
<line x1="336.80" y1="116.88" x2="335.05" y2="116.88" stroke="#0a0a0a" stroke-width="0.8"/>
<line x1="336.80" y1="114.94" x2="335.05" y2="114.94" stroke="#0a0a0a" stroke-width="0.8"/>
<line x1="336.80" y1="113.00" x2="335.05" y2="113.00" stroke="#0a0a0a" stroke-width="0.8"/>
<line x1="336.80" y1="111.06" x2="335.05" y2="111.06" stroke="#0a0a0a" stroke-width="0.8"/>
<line x1="336.80" y1="109.12" x2="335.05" y2="109.12" stroke="#0a0a0a" stroke-width="0.8"/>
<line x1="336.80" y1="107.18" x2="333.10" y2="107.18" stroke="#0a0a0a" stroke-width="1.3"/>
<line x1="336.80" y1="105.24" x2="335.05" y2="105.24" stroke="#0a0a0a" stroke-width="0.8"/>
<line x1="336.80" y1="103.30" x2="335.05" y2="103.30" stroke="#0a0a0a" stroke-width="0.8"/>
<line x1="336.80" y1="101.36" x2="335.05" y2="101.36" stroke="#0a0a0a" stroke-width="0.8"/>
<line x1="336.80" y1="99.42" x2="335.05" y2="99.42" stroke="#0a0a0a" stroke-width="0.8"/>
<line x1="336.80" y1="97.48" x2="335.05" y2="97.48" stroke="#0a0a0a" stroke-width="0.8"/>
<line x1="336.80" y1="95.54" x2="335.05" y2="95.54" stroke="#0a0a0a" stroke-width="0.8"/>
<line x1="336.80" y1="93.60" x2="335.05" y2="93.60" stroke="#0a0a0a" stroke-width="0.8"/>
<line x1="336.80" y1="91.66" x2="333.10" y2="91.66" stroke="#0a0a0a" stroke-width="1.3"/>
<line x1="336.80" y1="89.72" x2="335.05" y2="89.72" stroke="#0a0a0a" stroke-width="0.8"/>
<line x1="336.80" y1="87.78" x2="335.05" y2="87.78" stroke="#0a0a0a" stroke-width="0.8"/>
<line x1="336.80" y1="85.84" x2="335.05" y2="85.84" stroke="#0a0a0a" stroke-width="0.8"/>
<line x1="336.80" y1="83.90" x2="335.05" y2="83.90" stroke="#0a0a0a" stroke-width="0.8"/>
<line x1="336.80" y1="81.96" x2="335.05" y2="81.96" stroke="#0a0a0a" stroke-width="0.8"/>
<line x1="336.80" y1="80.02" x2="335.05" y2="80.02" stroke="#0a0a0a" stroke-width="0.8"/>
<line x1="336.80" y1="78.08" x2="335.05" y2="78.08" stroke="#0a0a0a" stroke-width="0.8"/>
<line x1="336.80" y1="76.14" x2="333.10" y2="76.14" stroke="#0a0a0a" stroke-width="1.3"/>
<line x1="336.80" y1="74.20" x2="335.05" y2="74.20" stroke="#0a0a0a" stroke-width="0.8"/>
<line x1="336.80" y1="72.26" x2="335.05" y2="72.26" stroke="#0a0a0a" stroke-width="0.8"/>
<line x1="336.80" y1="70.32" x2="335.05" y2="70.32" stroke="#0a0a0a" stroke-width="0.8"/>
<line x1="336.80" y1="68.38" x2="335.05" y2="68.38" stroke="#0a0a0a" stroke-width="0.8"/>
<line x1="336.80" y1="66.44" x2="335.05" y2="66.44" stroke="#0a0a0a" stroke-width="0.8"/>
<line x1="336.80" y1="64.50" x2="335.05" y2="64.50" stroke="#0a0a0a" stroke-width="0.8"/>
<line x1="336.80" y1="62.56" x2="335.05" y2="62.56" stroke="#0a0a0a" stroke-width="0.8"/>
<line x1="336.80" y1="60.62" x2="333.10" y2="60.62" stroke="#0a0a0a" stroke-width="1.3"/>
<line x1="336.80" y1="58.68" x2="335.05" y2="58.68" stroke="#0a0a0a" stroke-width="0.8"/>
<line x1="336.80" y1="56.74" x2="335.05" y2="56.74" stroke="#0a0a0a" stroke-width="0.8"/>
<line x1="336.80" y1="54.80" x2="335.05" y2="54.80" stroke="#0a0a0a" stroke-width="0.8"/>
<line x1="336.80" y1="52.86" x2="335.05" y2="52.86" stroke="#0a0a0a" stroke-width="0.8"/>
<line x1="336.80" y1="50.92" x2="335.05" y2="50.92" stroke="#0a0a0a" stroke-width="0.8"/>
<line x1="336.80" y1="48.98" x2="335.05" y2="48.98" stroke="#0a0a0a" stroke-width="0.8"/>
<line x1="336.80" y1="47.04" x2="335.05" y2="47.04" stroke="#0a0a0a" stroke-width="0.8"/>
<line x1="336.80" y1="45.10" x2="333.10" y2="45.10" stroke="#0a0a0a" stroke-width="1.3"/>
<text x="333.40" y="124.50" font-size="5" text-anchor="end" fill="#222" >0</text>
<text x="333.40" y="108.98" font-size="5" text-anchor="end" fill="#222" >20</text>
<text x="333.40" y="93.46" font-size="5" text-anchor="end" fill="#222" >40</text>
<text x="333.40" y="77.94" font-size="5" text-anchor="end" fill="#222" >60</text>
<text x="333.40" y="62.42" font-size="5" text-anchor="end" fill="#222" >80</text>
<text x="333.40" y="46.90" font-size="5" text-anchor="end" fill="#222" >100</text>
<line x1="336.80" y1="122.80" x2="336.80" y2="125.70" stroke="#0a0a0a" stroke-width="1.0"/>
<line x1="342.99" y1="122.80" x2="342.99" y2="124.80" stroke="#0a0a0a" stroke-width="0.8"/>
<line x1="346.62" y1="122.80" x2="346.62" y2="124.80" stroke="#0a0a0a" stroke-width="0.8"/>
<line x1="349.19" y1="122.80" x2="349.19" y2="124.80" stroke="#0a0a0a" stroke-width="0.8"/>
<line x1="351.18" y1="122.80" x2="351.18" y2="124.80" stroke="#0a0a0a" stroke-width="0.8"/>
<line x1="352.81" y1="122.80" x2="352.81" y2="124.80" stroke="#0a0a0a" stroke-width="0.8"/>
<line x1="354.19" y1="122.80" x2="354.19" y2="124.80" stroke="#0a0a0a" stroke-width="0.8"/>
<line x1="355.38" y1="122.80" x2="355.38" y2="124.80" stroke="#0a0a0a" stroke-width="0.8"/>
<line x1="356.43" y1="122.80" x2="356.43" y2="124.80" stroke="#0a0a0a" stroke-width="0.8"/>
<line x1="357.38" y1="122.80" x2="357.38" y2="125.70" stroke="#0a0a0a" stroke-width="1.0"/>
<line x1="363.57" y1="122.80" x2="363.57" y2="124.80" stroke="#0a0a0a" stroke-width="0.8"/>
<line x1="367.19" y1="122.80" x2="367.19" y2="124.80" stroke="#0a0a0a" stroke-width="0.8"/>
<line x1="369.76" y1="122.80" x2="369.76" y2="124.80" stroke="#0a0a0a" stroke-width="0.8"/>
<line x1="371.76" y1="122.80" x2="371.76" y2="124.80" stroke="#0a0a0a" stroke-width="0.8"/>
<line x1="373.39" y1="122.80" x2="373.39" y2="124.80" stroke="#0a0a0a" stroke-width="0.8"/>
<line x1="374.76" y1="122.80" x2="374.76" y2="124.80" stroke="#0a0a0a" stroke-width="0.8"/>
<line x1="375.96" y1="122.80" x2="375.96" y2="124.80" stroke="#0a0a0a" stroke-width="0.8"/>
<line x1="377.01" y1="122.80" x2="377.01" y2="124.80" stroke="#0a0a0a" stroke-width="0.8"/>
<line x1="377.95" y1="122.80" x2="377.95" y2="125.70" stroke="#0a0a0a" stroke-width="1.0"/>
<line x1="384.14" y1="122.80" x2="384.14" y2="124.80" stroke="#0a0a0a" stroke-width="0.8"/>
<line x1="387.77" y1="122.80" x2="387.77" y2="124.80" stroke="#0a0a0a" stroke-width="0.8"/>
<line x1="390.34" y1="122.80" x2="390.34" y2="124.80" stroke="#0a0a0a" stroke-width="0.8"/>
<line x1="392.33" y1="122.80" x2="392.33" y2="124.80" stroke="#0a0a0a" stroke-width="0.8"/>
<line x1="393.96" y1="122.80" x2="393.96" y2="124.80" stroke="#0a0a0a" stroke-width="0.8"/>
<line x1="395.34" y1="122.80" x2="395.34" y2="124.80" stroke="#0a0a0a" stroke-width="0.8"/>
<line x1="396.53" y1="122.80" x2="396.53" y2="124.80" stroke="#0a0a0a" stroke-width="0.8"/>
<line x1="397.58" y1="122.80" x2="397.58" y2="124.80" stroke="#0a0a0a" stroke-width="0.8"/>
<line x1="398.53" y1="122.80" x2="398.53" y2="125.70" stroke="#0a0a0a" stroke-width="1.0"/>
<line x1="404.72" y1="122.80" x2="404.72" y2="124.80" stroke="#0a0a0a" stroke-width="0.8"/>
<line x1="408.34" y1="122.80" x2="408.34" y2="124.80" stroke="#0a0a0a" stroke-width="0.8"/>
<line x1="410.91" y1="122.80" x2="410.91" y2="124.80" stroke="#0a0a0a" stroke-width="0.8"/>
<line x1="412.91" y1="122.80" x2="412.91" y2="124.80" stroke="#0a0a0a" stroke-width="0.8"/>
<line x1="414.54" y1="122.80" x2="414.54" y2="124.80" stroke="#0a0a0a" stroke-width="0.8"/>
<line x1="415.91" y1="122.80" x2="415.91" y2="124.80" stroke="#0a0a0a" stroke-width="0.8"/>
<line x1="417.11" y1="122.80" x2="417.11" y2="124.80" stroke="#0a0a0a" stroke-width="0.8"/>
<line x1="418.16" y1="122.80" x2="418.16" y2="124.80" stroke="#0a0a0a" stroke-width="0.8"/>
<text x="332.50" y="132.00" font-size="5" text-anchor="start" fill="#222" >10<tspan font-size="4" dy="-2.3">0</tspan></text>
<text x="353.07" y="132.00" font-size="5" text-anchor="start" fill="#222" >10<tspan font-size="4" dy="-2.3">1</tspan></text>
<text x="373.65" y="132.00" font-size="5" text-anchor="start" fill="#222" >10<tspan font-size="4" dy="-2.3">2</tspan></text>
<text x="394.23" y="132.00" font-size="5" text-anchor="start" fill="#222" >10<tspan font-size="4" dy="-2.3">3</tspan></text>
<text x="414.80" y="132.00" font-size="5" text-anchor="start" fill="#222" >10<tspan font-size="4" dy="-2.3">4</tspan></text>
<path d="M441.81,122.24 C442.42,121.24 444.37,119.04 445.46,116.21 C446.56,113.38 447.47,109.51 448.38,105.25 C449.30,100.99 450.12,95.81 450.94,90.63 C451.76,85.46 452.56,79.37 453.32,74.19 C454.08,69.02 454.81,63.54 455.51,59.58 C456.21,55.62 456.88,52.45 457.52,50.44 C458.16,48.43 458.74,46.91 459.35,47.52 C459.96,48.13 460.50,50.56 461.17,54.10 C461.84,57.63 462.63,63.84 463.37,68.71 C464.10,73.58 464.77,79.06 465.56,83.33 C466.35,87.59 467.20,91.24 468.12,94.29 C469.03,97.33 470.06,99.62 471.04,101.60 C472.01,103.58 472.96,104.49 473.96,106.16 C474.97,107.84 475.94,109.60 477.07,111.64 C478.19,113.68 479.05,116.64 480.72,118.40 C482.40,120.17 486.05,121.60 487.12,122.24 L487.12,123.20 L441.81,123.20 Z" fill="#939393" stroke="none"/>
<path d="M449.66,122.24 C450.12,120.63 451.58,116.91 452.40,112.56 C453.23,108.20 453.90,101.90 454.60,96.12 C455.30,90.33 455.94,83.63 456.61,77.85 C457.28,72.06 457.98,65.97 458.62,61.40 C459.25,56.84 459.86,53.06 460.44,50.44 C461.02,47.82 461.57,45.39 462.09,45.69 C462.60,46.00 463.06,48.13 463.55,52.27 C464.04,56.41 464.52,64.14 465.01,70.54 C465.50,76.93 465.95,84.24 466.47,90.63 C466.99,97.03 467.54,104.18 468.12,108.90 C468.69,113.62 469.36,116.73 469.94,118.95 C470.52,121.17 471.31,121.69 471.59,122.24" fill="none" stroke="#0a0a0a" stroke-width="2.2" stroke-dasharray="9.5 2.2" stroke-linejoin="round"/>
<path d="M458.80,122.24 C459.19,120.63 460.50,117.22 461.17,112.56 C461.84,107.90 462.33,100.68 462.82,94.29 C463.30,87.89 463.67,80.59 464.10,74.19 C464.52,67.80 464.95,60.43 465.38,55.92 C465.80,51.42 466.29,48.92 466.65,47.15 C467.02,45.39 467.23,44.78 467.57,45.33 C467.90,45.88 468.27,47.46 468.66,50.44 C469.06,53.43 469.49,59.27 469.94,63.23 C470.40,67.19 470.92,71.30 471.40,74.19 C471.89,77.08 472.44,78.61 472.87,80.59 C473.29,82.57 473.57,82.87 473.96,86.07 C474.36,89.26 474.72,95.66 475.24,99.77 C475.76,103.88 476.31,107.93 477.07,110.73 C477.83,113.53 478.80,115.05 479.81,116.58 C480.81,118.10 482.03,118.92 483.10,119.87 C484.16,120.81 485.68,121.84 486.20,122.24" fill="none" stroke="#0a0a0a" stroke-width="2.2" stroke-linejoin="round"/>
<rect x="431.80" y="40.80" width="81.50" height="82.00" fill="none" stroke="#0a0a0a" stroke-width="2.0"/>
<line x1="431.80" y1="122.70" x2="428.10" y2="122.70" stroke="#0a0a0a" stroke-width="1.3"/>
<line x1="431.80" y1="120.76" x2="430.05" y2="120.76" stroke="#0a0a0a" stroke-width="0.8"/>
<line x1="431.80" y1="118.82" x2="430.05" y2="118.82" stroke="#0a0a0a" stroke-width="0.8"/>
<line x1="431.80" y1="116.88" x2="430.05" y2="116.88" stroke="#0a0a0a" stroke-width="0.8"/>
<line x1="431.80" y1="114.94" x2="430.05" y2="114.94" stroke="#0a0a0a" stroke-width="0.8"/>
<line x1="431.80" y1="113.00" x2="430.05" y2="113.00" stroke="#0a0a0a" stroke-width="0.8"/>
<line x1="431.80" y1="111.06" x2="430.05" y2="111.06" stroke="#0a0a0a" stroke-width="0.8"/>
<line x1="431.80" y1="109.12" x2="430.05" y2="109.12" stroke="#0a0a0a" stroke-width="0.8"/>
<line x1="431.80" y1="107.18" x2="428.10" y2="107.18" stroke="#0a0a0a" stroke-width="1.3"/>
<line x1="431.80" y1="105.24" x2="430.05" y2="105.24" stroke="#0a0a0a" stroke-width="0.8"/>
<line x1="431.80" y1="103.30" x2="430.05" y2="103.30" stroke="#0a0a0a" stroke-width="0.8"/>
<line x1="431.80" y1="101.36" x2="430.05" y2="101.36" stroke="#0a0a0a" stroke-width="0.8"/>
<line x1="431.80" y1="99.42" x2="430.05" y2="99.42" stroke="#0a0a0a" stroke-width="0.8"/>
<line x1="431.80" y1="97.48" x2="430.05" y2="97.48" stroke="#0a0a0a" stroke-width="0.8"/>
<line x1="431.80" y1="95.54" x2="430.05" y2="95.54" stroke="#0a0a0a" stroke-width="0.8"/>
<line x1="431.80" y1="93.60" x2="430.05" y2="93.60" stroke="#0a0a0a" stroke-width="0.8"/>
<line x1="431.80" y1="91.66" x2="428.10" y2="91.66" stroke="#0a0a0a" stroke-width="1.3"/>
<line x1="431.80" y1="89.72" x2="430.05" y2="89.72" stroke="#0a0a0a" stroke-width="0.8"/>
<line x1="431.80" y1="87.78" x2="430.05" y2="87.78" stroke="#0a0a0a" stroke-width="0.8"/>
<line x1="431.80" y1="85.84" x2="430.05" y2="85.84" stroke="#0a0a0a" stroke-width="0.8"/>
<line x1="431.80" y1="83.90" x2="430.05" y2="83.90" stroke="#0a0a0a" stroke-width="0.8"/>
<line x1="431.80" y1="81.96" x2="430.05" y2="81.96" stroke="#0a0a0a" stroke-width="0.8"/>
<line x1="431.80" y1="80.02" x2="430.05" y2="80.02" stroke="#0a0a0a" stroke-width="0.8"/>
<line x1="431.80" y1="78.08" x2="430.05" y2="78.08" stroke="#0a0a0a" stroke-width="0.8"/>
<line x1="431.80" y1="76.14" x2="428.10" y2="76.14" stroke="#0a0a0a" stroke-width="1.3"/>
<line x1="431.80" y1="74.20" x2="430.05" y2="74.20" stroke="#0a0a0a" stroke-width="0.8"/>
<line x1="431.80" y1="72.26" x2="430.05" y2="72.26" stroke="#0a0a0a" stroke-width="0.8"/>
<line x1="431.80" y1="70.32" x2="430.05" y2="70.32" stroke="#0a0a0a" stroke-width="0.8"/>
<line x1="431.80" y1="68.38" x2="430.05" y2="68.38" stroke="#0a0a0a" stroke-width="0.8"/>
<line x1="431.80" y1="66.44" x2="430.05" y2="66.44" stroke="#0a0a0a" stroke-width="0.8"/>
<line x1="431.80" y1="64.50" x2="430.05" y2="64.50" stroke="#0a0a0a" stroke-width="0.8"/>
<line x1="431.80" y1="62.56" x2="430.05" y2="62.56" stroke="#0a0a0a" stroke-width="0.8"/>
<line x1="431.80" y1="60.62" x2="428.10" y2="60.62" stroke="#0a0a0a" stroke-width="1.3"/>
<line x1="431.80" y1="58.68" x2="430.05" y2="58.68" stroke="#0a0a0a" stroke-width="0.8"/>
<line x1="431.80" y1="56.74" x2="430.05" y2="56.74" stroke="#0a0a0a" stroke-width="0.8"/>
<line x1="431.80" y1="54.80" x2="430.05" y2="54.80" stroke="#0a0a0a" stroke-width="0.8"/>
<line x1="431.80" y1="52.86" x2="430.05" y2="52.86" stroke="#0a0a0a" stroke-width="0.8"/>
<line x1="431.80" y1="50.92" x2="430.05" y2="50.92" stroke="#0a0a0a" stroke-width="0.8"/>
<line x1="431.80" y1="48.98" x2="430.05" y2="48.98" stroke="#0a0a0a" stroke-width="0.8"/>
<line x1="431.80" y1="47.04" x2="430.05" y2="47.04" stroke="#0a0a0a" stroke-width="0.8"/>
<line x1="431.80" y1="45.10" x2="428.10" y2="45.10" stroke="#0a0a0a" stroke-width="1.3"/>
<text x="428.40" y="124.50" font-size="5" text-anchor="end" fill="#222" >0</text>
<text x="428.40" y="108.98" font-size="5" text-anchor="end" fill="#222" >20</text>
<text x="428.40" y="93.46" font-size="5" text-anchor="end" fill="#222" >40</text>
<text x="428.40" y="77.94" font-size="5" text-anchor="end" fill="#222" >60</text>
<text x="428.40" y="62.42" font-size="5" text-anchor="end" fill="#222" >80</text>
<text x="428.40" y="46.90" font-size="5" text-anchor="end" fill="#222" >100</text>
<line x1="431.80" y1="122.80" x2="431.80" y2="125.70" stroke="#0a0a0a" stroke-width="1.0"/>
<line x1="437.93" y1="122.80" x2="437.93" y2="124.80" stroke="#0a0a0a" stroke-width="0.8"/>
<line x1="441.52" y1="122.80" x2="441.52" y2="124.80" stroke="#0a0a0a" stroke-width="0.8"/>
<line x1="444.07" y1="122.80" x2="444.07" y2="124.80" stroke="#0a0a0a" stroke-width="0.8"/>
<line x1="446.04" y1="122.80" x2="446.04" y2="124.80" stroke="#0a0a0a" stroke-width="0.8"/>
<line x1="447.65" y1="122.80" x2="447.65" y2="124.80" stroke="#0a0a0a" stroke-width="0.8"/>
<line x1="449.02" y1="122.80" x2="449.02" y2="124.80" stroke="#0a0a0a" stroke-width="0.8"/>
<line x1="450.20" y1="122.80" x2="450.20" y2="124.80" stroke="#0a0a0a" stroke-width="0.8"/>
<line x1="451.24" y1="122.80" x2="451.24" y2="124.80" stroke="#0a0a0a" stroke-width="0.8"/>
<line x1="452.18" y1="122.80" x2="452.18" y2="125.70" stroke="#0a0a0a" stroke-width="1.0"/>
<line x1="458.31" y1="122.80" x2="458.31" y2="124.80" stroke="#0a0a0a" stroke-width="0.8"/>
<line x1="461.90" y1="122.80" x2="461.90" y2="124.80" stroke="#0a0a0a" stroke-width="0.8"/>
<line x1="464.44" y1="122.80" x2="464.44" y2="124.80" stroke="#0a0a0a" stroke-width="0.8"/>
<line x1="466.42" y1="122.80" x2="466.42" y2="124.80" stroke="#0a0a0a" stroke-width="0.8"/>
<line x1="468.03" y1="122.80" x2="468.03" y2="124.80" stroke="#0a0a0a" stroke-width="0.8"/>
<line x1="469.39" y1="122.80" x2="469.39" y2="124.80" stroke="#0a0a0a" stroke-width="0.8"/>
<line x1="470.58" y1="122.80" x2="470.58" y2="124.80" stroke="#0a0a0a" stroke-width="0.8"/>
<line x1="471.62" y1="122.80" x2="471.62" y2="124.80" stroke="#0a0a0a" stroke-width="0.8"/>
<line x1="472.55" y1="122.80" x2="472.55" y2="125.70" stroke="#0a0a0a" stroke-width="1.0"/>
<line x1="478.68" y1="122.80" x2="478.68" y2="124.80" stroke="#0a0a0a" stroke-width="0.8"/>
<line x1="482.27" y1="122.80" x2="482.27" y2="124.80" stroke="#0a0a0a" stroke-width="0.8"/>
<line x1="484.82" y1="122.80" x2="484.82" y2="124.80" stroke="#0a0a0a" stroke-width="0.8"/>
<line x1="486.79" y1="122.80" x2="486.79" y2="124.80" stroke="#0a0a0a" stroke-width="0.8"/>
<line x1="488.40" y1="122.80" x2="488.40" y2="124.80" stroke="#0a0a0a" stroke-width="0.8"/>
<line x1="489.77" y1="122.80" x2="489.77" y2="124.80" stroke="#0a0a0a" stroke-width="0.8"/>
<line x1="490.95" y1="122.80" x2="490.95" y2="124.80" stroke="#0a0a0a" stroke-width="0.8"/>
<line x1="491.99" y1="122.80" x2="491.99" y2="124.80" stroke="#0a0a0a" stroke-width="0.8"/>
<line x1="492.92" y1="122.80" x2="492.92" y2="125.70" stroke="#0a0a0a" stroke-width="1.0"/>
<line x1="499.06" y1="122.80" x2="499.06" y2="124.80" stroke="#0a0a0a" stroke-width="0.8"/>
<line x1="502.65" y1="122.80" x2="502.65" y2="124.80" stroke="#0a0a0a" stroke-width="0.8"/>
<line x1="505.19" y1="122.80" x2="505.19" y2="124.80" stroke="#0a0a0a" stroke-width="0.8"/>
<line x1="507.17" y1="122.80" x2="507.17" y2="124.80" stroke="#0a0a0a" stroke-width="0.8"/>
<line x1="508.78" y1="122.80" x2="508.78" y2="124.80" stroke="#0a0a0a" stroke-width="0.8"/>
<line x1="510.14" y1="122.80" x2="510.14" y2="124.80" stroke="#0a0a0a" stroke-width="0.8"/>
<line x1="511.33" y1="122.80" x2="511.33" y2="124.80" stroke="#0a0a0a" stroke-width="0.8"/>
<line x1="512.37" y1="122.80" x2="512.37" y2="124.80" stroke="#0a0a0a" stroke-width="0.8"/>
<text x="427.50" y="132.00" font-size="5" text-anchor="start" fill="#222" >10<tspan font-size="4" dy="-2.3">0</tspan></text>
<text x="447.88" y="132.00" font-size="5" text-anchor="start" fill="#222" >10<tspan font-size="4" dy="-2.3">1</tspan></text>
<text x="468.25" y="132.00" font-size="5" text-anchor="start" fill="#222" >10<tspan font-size="4" dy="-2.3">2</tspan></text>
<text x="488.62" y="132.00" font-size="5" text-anchor="start" fill="#222" >10<tspan font-size="4" dy="-2.3">3</tspan></text>
<text x="509.00" y="132.00" font-size="5" text-anchor="start" fill="#222" >10<tspan font-size="4" dy="-2.3">4</tspan></text>
<path d="M50.05,218.24 C50.57,216.93 52.15,213.52 53.15,210.38 C54.16,207.25 55.16,203.69 56.08,199.42 C56.99,195.16 57.81,189.98 58.63,184.81 C59.46,179.63 60.25,173.85 61.01,168.37 C61.77,162.88 62.59,156.19 63.20,151.92 C63.81,147.66 64.27,144.49 64.66,142.79 C65.06,141.08 65.21,140.17 65.58,141.69 C65.94,143.21 66.40,146.87 66.86,151.92 C67.31,156.98 67.83,165.32 68.32,172.02 C68.80,178.72 69.26,186.03 69.78,192.12 C70.30,198.21 70.84,204.20 71.42,208.56 C72.00,212.91 72.95,216.63 73.25,218.24 L73.25,218.60 L50.05,218.60 Z" fill="#969696" stroke="none"/>
<path d="M57.17,218.24 C57.60,217.08 58.94,214.43 59.73,211.30 C60.52,208.16 61.25,204.14 61.92,199.42 C62.59,194.70 63.23,189.07 63.75,182.98 C64.27,176.89 64.54,168.97 65.03,162.88 C65.52,156.79 66.19,150.04 66.67,146.44 C67.16,142.85 67.53,141.48 67.95,141.33 C68.38,141.17 68.77,142.85 69.23,145.53 C69.69,148.21 70.17,152.68 70.69,157.40 C71.21,162.12 71.79,168.67 72.34,173.85 C72.88,179.02 73.40,184.35 73.98,188.46 C74.56,192.57 75.14,195.92 75.81,198.51 C76.48,201.10 77.21,201.86 78.00,203.99 C78.79,206.12 79.64,209.38 80.56,211.30 C81.47,213.22 82.57,214.34 83.48,215.50 C84.39,216.66 85.61,217.78 86.04,218.24" fill="none" stroke="#0a0a0a" stroke-width="2.2" stroke-dasharray="9.5 2.2" stroke-linejoin="round"/>
<path d="M70.14,218.24 C70.66,217.39 72.43,216.26 73.25,213.12 C74.07,209.99 74.53,204.75 75.08,199.42 C75.62,194.09 76.08,187.55 76.54,181.15 C77.00,174.76 77.42,166.84 77.82,161.06 C78.21,155.27 78.58,149.73 78.91,146.44 C79.25,143.15 79.52,141.17 79.83,141.33 C80.13,141.48 80.38,142.85 80.74,147.36 C81.11,151.86 81.56,160.91 82.02,168.37 C82.48,175.83 82.99,185.57 83.48,192.12 C83.97,198.66 84.33,203.75 84.94,207.64 C85.55,211.54 86.25,213.89 87.13,215.50 C88.02,217.11 89.11,216.87 90.24,217.33 C91.37,217.78 93.29,218.09 93.89,218.24" fill="none" stroke="#0a0a0a" stroke-width="2.2" stroke-linejoin="round"/>
<rect x="46.80" y="136.20" width="81.70" height="82.00" fill="none" stroke="#0a0a0a" stroke-width="2.0"/>
<line x1="46.80" y1="218.10" x2="43.10" y2="218.10" stroke="#0a0a0a" stroke-width="1.3"/>
<line x1="46.80" y1="216.16" x2="45.05" y2="216.16" stroke="#0a0a0a" stroke-width="0.8"/>
<line x1="46.80" y1="214.22" x2="45.05" y2="214.22" stroke="#0a0a0a" stroke-width="0.8"/>
<line x1="46.80" y1="212.28" x2="45.05" y2="212.28" stroke="#0a0a0a" stroke-width="0.8"/>
<line x1="46.80" y1="210.34" x2="45.05" y2="210.34" stroke="#0a0a0a" stroke-width="0.8"/>
<line x1="46.80" y1="208.40" x2="45.05" y2="208.40" stroke="#0a0a0a" stroke-width="0.8"/>
<line x1="46.80" y1="206.46" x2="45.05" y2="206.46" stroke="#0a0a0a" stroke-width="0.8"/>
<line x1="46.80" y1="204.52" x2="45.05" y2="204.52" stroke="#0a0a0a" stroke-width="0.8"/>
<line x1="46.80" y1="202.58" x2="43.10" y2="202.58" stroke="#0a0a0a" stroke-width="1.3"/>
<line x1="46.80" y1="200.64" x2="45.05" y2="200.64" stroke="#0a0a0a" stroke-width="0.8"/>
<line x1="46.80" y1="198.70" x2="45.05" y2="198.70" stroke="#0a0a0a" stroke-width="0.8"/>
<line x1="46.80" y1="196.76" x2="45.05" y2="196.76" stroke="#0a0a0a" stroke-width="0.8"/>
<line x1="46.80" y1="194.82" x2="45.05" y2="194.82" stroke="#0a0a0a" stroke-width="0.8"/>
<line x1="46.80" y1="192.88" x2="45.05" y2="192.88" stroke="#0a0a0a" stroke-width="0.8"/>
<line x1="46.80" y1="190.94" x2="45.05" y2="190.94" stroke="#0a0a0a" stroke-width="0.8"/>
<line x1="46.80" y1="189.00" x2="45.05" y2="189.00" stroke="#0a0a0a" stroke-width="0.8"/>
<line x1="46.80" y1="187.06" x2="43.10" y2="187.06" stroke="#0a0a0a" stroke-width="1.3"/>
<line x1="46.80" y1="185.12" x2="45.05" y2="185.12" stroke="#0a0a0a" stroke-width="0.8"/>
<line x1="46.80" y1="183.18" x2="45.05" y2="183.18" stroke="#0a0a0a" stroke-width="0.8"/>
<line x1="46.80" y1="181.24" x2="45.05" y2="181.24" stroke="#0a0a0a" stroke-width="0.8"/>
<line x1="46.80" y1="179.30" x2="45.05" y2="179.30" stroke="#0a0a0a" stroke-width="0.8"/>
<line x1="46.80" y1="177.36" x2="45.05" y2="177.36" stroke="#0a0a0a" stroke-width="0.8"/>
<line x1="46.80" y1="175.42" x2="45.05" y2="175.42" stroke="#0a0a0a" stroke-width="0.8"/>
<line x1="46.80" y1="173.48" x2="45.05" y2="173.48" stroke="#0a0a0a" stroke-width="0.8"/>
<line x1="46.80" y1="171.54" x2="43.10" y2="171.54" stroke="#0a0a0a" stroke-width="1.3"/>
<line x1="46.80" y1="169.60" x2="45.05" y2="169.60" stroke="#0a0a0a" stroke-width="0.8"/>
<line x1="46.80" y1="167.66" x2="45.05" y2="167.66" stroke="#0a0a0a" stroke-width="0.8"/>
<line x1="46.80" y1="165.72" x2="45.05" y2="165.72" stroke="#0a0a0a" stroke-width="0.8"/>
<line x1="46.80" y1="163.78" x2="45.05" y2="163.78" stroke="#0a0a0a" stroke-width="0.8"/>
<line x1="46.80" y1="161.84" x2="45.05" y2="161.84" stroke="#0a0a0a" stroke-width="0.8"/>
<line x1="46.80" y1="159.90" x2="45.05" y2="159.90" stroke="#0a0a0a" stroke-width="0.8"/>
<line x1="46.80" y1="157.96" x2="45.05" y2="157.96" stroke="#0a0a0a" stroke-width="0.8"/>
<line x1="46.80" y1="156.02" x2="43.10" y2="156.02" stroke="#0a0a0a" stroke-width="1.3"/>
<line x1="46.80" y1="154.08" x2="45.05" y2="154.08" stroke="#0a0a0a" stroke-width="0.8"/>
<line x1="46.80" y1="152.14" x2="45.05" y2="152.14" stroke="#0a0a0a" stroke-width="0.8"/>
<line x1="46.80" y1="150.20" x2="45.05" y2="150.20" stroke="#0a0a0a" stroke-width="0.8"/>
<line x1="46.80" y1="148.26" x2="45.05" y2="148.26" stroke="#0a0a0a" stroke-width="0.8"/>
<line x1="46.80" y1="146.32" x2="45.05" y2="146.32" stroke="#0a0a0a" stroke-width="0.8"/>
<line x1="46.80" y1="144.38" x2="45.05" y2="144.38" stroke="#0a0a0a" stroke-width="0.8"/>
<line x1="46.80" y1="142.44" x2="45.05" y2="142.44" stroke="#0a0a0a" stroke-width="0.8"/>
<line x1="46.80" y1="140.50" x2="43.10" y2="140.50" stroke="#0a0a0a" stroke-width="1.3"/>
<text x="43.40" y="219.90" font-size="5" text-anchor="end" fill="#222" >0</text>
<text x="43.40" y="204.38" font-size="5" text-anchor="end" fill="#222" >20</text>
<text x="43.40" y="188.86" font-size="5" text-anchor="end" fill="#222" >40</text>
<text x="43.40" y="173.34" font-size="5" text-anchor="end" fill="#222" >60</text>
<text x="43.40" y="157.82" font-size="5" text-anchor="end" fill="#222" >80</text>
<text x="43.40" y="142.30" font-size="5" text-anchor="end" fill="#222" >100</text>
<line x1="46.80" y1="218.20" x2="46.80" y2="221.10" stroke="#0a0a0a" stroke-width="1.0"/>
<line x1="52.95" y1="218.20" x2="52.95" y2="220.20" stroke="#0a0a0a" stroke-width="0.8"/>
<line x1="56.55" y1="218.20" x2="56.55" y2="220.20" stroke="#0a0a0a" stroke-width="0.8"/>
<line x1="59.10" y1="218.20" x2="59.10" y2="220.20" stroke="#0a0a0a" stroke-width="0.8"/>
<line x1="61.08" y1="218.20" x2="61.08" y2="220.20" stroke="#0a0a0a" stroke-width="0.8"/>
<line x1="62.69" y1="218.20" x2="62.69" y2="220.20" stroke="#0a0a0a" stroke-width="0.8"/>
<line x1="64.06" y1="218.20" x2="64.06" y2="220.20" stroke="#0a0a0a" stroke-width="0.8"/>
<line x1="65.25" y1="218.20" x2="65.25" y2="220.20" stroke="#0a0a0a" stroke-width="0.8"/>
<line x1="66.29" y1="218.20" x2="66.29" y2="220.20" stroke="#0a0a0a" stroke-width="0.8"/>
<line x1="67.22" y1="218.20" x2="67.22" y2="221.10" stroke="#0a0a0a" stroke-width="1.0"/>
<line x1="73.37" y1="218.20" x2="73.37" y2="220.20" stroke="#0a0a0a" stroke-width="0.8"/>
<line x1="76.97" y1="218.20" x2="76.97" y2="220.20" stroke="#0a0a0a" stroke-width="0.8"/>
<line x1="79.52" y1="218.20" x2="79.52" y2="220.20" stroke="#0a0a0a" stroke-width="0.8"/>
<line x1="81.50" y1="218.20" x2="81.50" y2="220.20" stroke="#0a0a0a" stroke-width="0.8"/>
<line x1="83.12" y1="218.20" x2="83.12" y2="220.20" stroke="#0a0a0a" stroke-width="0.8"/>
<line x1="84.49" y1="218.20" x2="84.49" y2="220.20" stroke="#0a0a0a" stroke-width="0.8"/>
<line x1="85.67" y1="218.20" x2="85.67" y2="220.20" stroke="#0a0a0a" stroke-width="0.8"/>
<line x1="86.72" y1="218.20" x2="86.72" y2="220.20" stroke="#0a0a0a" stroke-width="0.8"/>
<line x1="87.65" y1="218.20" x2="87.65" y2="221.10" stroke="#0a0a0a" stroke-width="1.0"/>
<line x1="93.80" y1="218.20" x2="93.80" y2="220.20" stroke="#0a0a0a" stroke-width="0.8"/>
<line x1="97.40" y1="218.20" x2="97.40" y2="220.20" stroke="#0a0a0a" stroke-width="0.8"/>
<line x1="99.95" y1="218.20" x2="99.95" y2="220.20" stroke="#0a0a0a" stroke-width="0.8"/>
<line x1="101.93" y1="218.20" x2="101.93" y2="220.20" stroke="#0a0a0a" stroke-width="0.8"/>
<line x1="103.54" y1="218.20" x2="103.54" y2="220.20" stroke="#0a0a0a" stroke-width="0.8"/>
<line x1="104.91" y1="218.20" x2="104.91" y2="220.20" stroke="#0a0a0a" stroke-width="0.8"/>
<line x1="106.10" y1="218.20" x2="106.10" y2="220.20" stroke="#0a0a0a" stroke-width="0.8"/>
<line x1="107.14" y1="218.20" x2="107.14" y2="220.20" stroke="#0a0a0a" stroke-width="0.8"/>
<line x1="108.08" y1="218.20" x2="108.08" y2="221.10" stroke="#0a0a0a" stroke-width="1.0"/>
<line x1="114.22" y1="218.20" x2="114.22" y2="220.20" stroke="#0a0a0a" stroke-width="0.8"/>
<line x1="117.82" y1="218.20" x2="117.82" y2="220.20" stroke="#0a0a0a" stroke-width="0.8"/>
<line x1="120.37" y1="218.20" x2="120.37" y2="220.20" stroke="#0a0a0a" stroke-width="0.8"/>
<line x1="122.35" y1="218.20" x2="122.35" y2="220.20" stroke="#0a0a0a" stroke-width="0.8"/>
<line x1="123.97" y1="218.20" x2="123.97" y2="220.20" stroke="#0a0a0a" stroke-width="0.8"/>
<line x1="125.34" y1="218.20" x2="125.34" y2="220.20" stroke="#0a0a0a" stroke-width="0.8"/>
<line x1="126.52" y1="218.20" x2="126.52" y2="220.20" stroke="#0a0a0a" stroke-width="0.8"/>
<line x1="127.57" y1="218.20" x2="127.57" y2="220.20" stroke="#0a0a0a" stroke-width="0.8"/>
<text x="42.50" y="227.40" font-size="5" text-anchor="start" fill="#222" >10<tspan font-size="4" dy="-2.3">0</tspan></text>
<text x="62.92" y="227.40" font-size="5" text-anchor="start" fill="#222" >10<tspan font-size="4" dy="-2.3">1</tspan></text>
<text x="83.35" y="227.40" font-size="5" text-anchor="start" fill="#222" >10<tspan font-size="4" dy="-2.3">2</tspan></text>
<text x="103.78" y="227.40" font-size="5" text-anchor="start" fill="#222" >10<tspan font-size="4" dy="-2.3">3</tspan></text>
<text x="124.20" y="227.40" font-size="5" text-anchor="start" fill="#222" >10<tspan font-size="4" dy="-2.3">4</tspan></text>
<path d="M157.01,218.24 C157.53,216.63 159.11,212.61 160.12,208.56 C161.12,204.51 162.12,199.42 163.04,193.94 C163.95,188.46 164.80,181.76 165.60,175.67 C166.39,169.58 167.12,162.64 167.79,157.40 C168.46,152.17 169.16,146.81 169.62,144.25 C170.07,141.69 170.16,140.78 170.53,142.06 C170.89,143.34 171.38,146.93 171.81,151.92 C172.23,156.92 172.66,165.32 173.09,172.02 C173.51,178.72 173.94,186.03 174.37,192.12 C174.79,198.21 175.16,204.20 175.64,208.56 C176.13,212.91 177.01,216.63 177.29,218.24 L177.29,218.60 L157.01,218.60 Z" fill="#7c7c7c" stroke="none"/>
<path d="M156.10,216.23 C156.46,215.10 157.47,212.88 158.29,209.47 C159.11,206.06 160.18,200.49 161.03,195.77 C161.88,191.05 162.61,186.33 163.40,181.15 C164.20,175.98 165.05,169.89 165.78,164.71 C166.51,159.54 167.18,153.87 167.79,150.10 C168.40,146.32 168.95,142.67 169.43,142.06 C169.92,141.45 170.29,143.28 170.71,146.44 C171.14,149.61 171.56,155.27 171.99,161.06 C172.42,166.84 172.81,174.61 173.27,181.15 C173.73,187.70 174.24,195.46 174.73,200.34 C175.22,205.21 175.64,208.34 176.19,210.38 C176.74,212.42 177.47,212.42 178.02,212.58 C178.57,212.73 178.93,210.99 179.48,211.30 C180.03,211.60 180.70,213.25 181.31,214.40 C181.92,215.56 182.83,217.60 183.13,218.24" fill="none" stroke="#0a0a0a" stroke-width="2.2" stroke-dasharray="9.5 2.2" stroke-linejoin="round"/>
<path d="M175.83,218.24 C176.19,217.24 177.41,215.65 178.02,212.21 C178.63,208.77 179.05,203.38 179.48,197.60 C179.91,191.81 180.24,184.20 180.58,177.50 C180.91,170.80 181.22,162.73 181.49,157.40 C181.76,152.08 182.01,148.21 182.22,145.53 C182.43,142.85 182.59,141.17 182.77,141.33 C182.95,141.48 183.10,142.85 183.32,146.44 C183.53,150.04 183.77,155.58 184.05,162.88 C184.32,170.19 184.63,182.37 184.96,190.29 C185.30,198.21 185.63,205.73 186.06,210.38 C186.48,215.04 187.28,216.93 187.52,218.24" fill="none" stroke="#0a0a0a" stroke-width="2.2" stroke-linejoin="round"/>
<rect x="142.00" y="136.20" width="81.80" height="82.00" fill="none" stroke="#0a0a0a" stroke-width="2.0"/>
<line x1="142.00" y1="218.10" x2="138.30" y2="218.10" stroke="#0a0a0a" stroke-width="1.3"/>
<line x1="142.00" y1="216.16" x2="140.25" y2="216.16" stroke="#0a0a0a" stroke-width="0.8"/>
<line x1="142.00" y1="214.22" x2="140.25" y2="214.22" stroke="#0a0a0a" stroke-width="0.8"/>
<line x1="142.00" y1="212.28" x2="140.25" y2="212.28" stroke="#0a0a0a" stroke-width="0.8"/>
<line x1="142.00" y1="210.34" x2="140.25" y2="210.34" stroke="#0a0a0a" stroke-width="0.8"/>
<line x1="142.00" y1="208.40" x2="140.25" y2="208.40" stroke="#0a0a0a" stroke-width="0.8"/>
<line x1="142.00" y1="206.46" x2="140.25" y2="206.46" stroke="#0a0a0a" stroke-width="0.8"/>
<line x1="142.00" y1="204.52" x2="140.25" y2="204.52" stroke="#0a0a0a" stroke-width="0.8"/>
<line x1="142.00" y1="202.58" x2="138.30" y2="202.58" stroke="#0a0a0a" stroke-width="1.3"/>
<line x1="142.00" y1="200.64" x2="140.25" y2="200.64" stroke="#0a0a0a" stroke-width="0.8"/>
<line x1="142.00" y1="198.70" x2="140.25" y2="198.70" stroke="#0a0a0a" stroke-width="0.8"/>
<line x1="142.00" y1="196.76" x2="140.25" y2="196.76" stroke="#0a0a0a" stroke-width="0.8"/>
<line x1="142.00" y1="194.82" x2="140.25" y2="194.82" stroke="#0a0a0a" stroke-width="0.8"/>
<line x1="142.00" y1="192.88" x2="140.25" y2="192.88" stroke="#0a0a0a" stroke-width="0.8"/>
<line x1="142.00" y1="190.94" x2="140.25" y2="190.94" stroke="#0a0a0a" stroke-width="0.8"/>
<line x1="142.00" y1="189.00" x2="140.25" y2="189.00" stroke="#0a0a0a" stroke-width="0.8"/>
<line x1="142.00" y1="187.06" x2="138.30" y2="187.06" stroke="#0a0a0a" stroke-width="1.3"/>
<line x1="142.00" y1="185.12" x2="140.25" y2="185.12" stroke="#0a0a0a" stroke-width="0.8"/>
<line x1="142.00" y1="183.18" x2="140.25" y2="183.18" stroke="#0a0a0a" stroke-width="0.8"/>
<line x1="142.00" y1="181.24" x2="140.25" y2="181.24" stroke="#0a0a0a" stroke-width="0.8"/>
<line x1="142.00" y1="179.30" x2="140.25" y2="179.30" stroke="#0a0a0a" stroke-width="0.8"/>
<line x1="142.00" y1="177.36" x2="140.25" y2="177.36" stroke="#0a0a0a" stroke-width="0.8"/>
<line x1="142.00" y1="175.42" x2="140.25" y2="175.42" stroke="#0a0a0a" stroke-width="0.8"/>
<line x1="142.00" y1="173.48" x2="140.25" y2="173.48" stroke="#0a0a0a" stroke-width="0.8"/>
<line x1="142.00" y1="171.54" x2="138.30" y2="171.54" stroke="#0a0a0a" stroke-width="1.3"/>
<line x1="142.00" y1="169.60" x2="140.25" y2="169.60" stroke="#0a0a0a" stroke-width="0.8"/>
<line x1="142.00" y1="167.66" x2="140.25" y2="167.66" stroke="#0a0a0a" stroke-width="0.8"/>
<line x1="142.00" y1="165.72" x2="140.25" y2="165.72" stroke="#0a0a0a" stroke-width="0.8"/>
<line x1="142.00" y1="163.78" x2="140.25" y2="163.78" stroke="#0a0a0a" stroke-width="0.8"/>
<line x1="142.00" y1="161.84" x2="140.25" y2="161.84" stroke="#0a0a0a" stroke-width="0.8"/>
<line x1="142.00" y1="159.90" x2="140.25" y2="159.90" stroke="#0a0a0a" stroke-width="0.8"/>
<line x1="142.00" y1="157.96" x2="140.25" y2="157.96" stroke="#0a0a0a" stroke-width="0.8"/>
<line x1="142.00" y1="156.02" x2="138.30" y2="156.02" stroke="#0a0a0a" stroke-width="1.3"/>
<line x1="142.00" y1="154.08" x2="140.25" y2="154.08" stroke="#0a0a0a" stroke-width="0.8"/>
<line x1="142.00" y1="152.14" x2="140.25" y2="152.14" stroke="#0a0a0a" stroke-width="0.8"/>
<line x1="142.00" y1="150.20" x2="140.25" y2="150.20" stroke="#0a0a0a" stroke-width="0.8"/>
<line x1="142.00" y1="148.26" x2="140.25" y2="148.26" stroke="#0a0a0a" stroke-width="0.8"/>
<line x1="142.00" y1="146.32" x2="140.25" y2="146.32" stroke="#0a0a0a" stroke-width="0.8"/>
<line x1="142.00" y1="144.38" x2="140.25" y2="144.38" stroke="#0a0a0a" stroke-width="0.8"/>
<line x1="142.00" y1="142.44" x2="140.25" y2="142.44" stroke="#0a0a0a" stroke-width="0.8"/>
<line x1="142.00" y1="140.50" x2="138.30" y2="140.50" stroke="#0a0a0a" stroke-width="1.3"/>
<text x="138.60" y="219.90" font-size="5" text-anchor="end" fill="#222" >0</text>
<text x="138.60" y="204.38" font-size="5" text-anchor="end" fill="#222" >20</text>
<text x="138.60" y="188.86" font-size="5" text-anchor="end" fill="#222" >40</text>
<text x="138.60" y="173.34" font-size="5" text-anchor="end" fill="#222" >60</text>
<text x="138.60" y="157.82" font-size="5" text-anchor="end" fill="#222" >80</text>
<text x="138.60" y="142.30" font-size="5" text-anchor="end" fill="#222" >100</text>
<line x1="142.00" y1="218.20" x2="142.00" y2="221.10" stroke="#0a0a0a" stroke-width="1.0"/>
<line x1="148.16" y1="218.20" x2="148.16" y2="220.20" stroke="#0a0a0a" stroke-width="0.8"/>
<line x1="151.76" y1="218.20" x2="151.76" y2="220.20" stroke="#0a0a0a" stroke-width="0.8"/>
<line x1="154.31" y1="218.20" x2="154.31" y2="220.20" stroke="#0a0a0a" stroke-width="0.8"/>
<line x1="156.29" y1="218.20" x2="156.29" y2="220.20" stroke="#0a0a0a" stroke-width="0.8"/>
<line x1="157.91" y1="218.20" x2="157.91" y2="220.20" stroke="#0a0a0a" stroke-width="0.8"/>
<line x1="159.28" y1="218.20" x2="159.28" y2="220.20" stroke="#0a0a0a" stroke-width="0.8"/>
<line x1="160.47" y1="218.20" x2="160.47" y2="220.20" stroke="#0a0a0a" stroke-width="0.8"/>
<line x1="161.51" y1="218.20" x2="161.51" y2="220.20" stroke="#0a0a0a" stroke-width="0.8"/>
<line x1="162.45" y1="218.20" x2="162.45" y2="221.10" stroke="#0a0a0a" stroke-width="1.0"/>
<line x1="168.61" y1="218.20" x2="168.61" y2="220.20" stroke="#0a0a0a" stroke-width="0.8"/>
<line x1="172.21" y1="218.20" x2="172.21" y2="220.20" stroke="#0a0a0a" stroke-width="0.8"/>
<line x1="174.76" y1="218.20" x2="174.76" y2="220.20" stroke="#0a0a0a" stroke-width="0.8"/>
<line x1="176.74" y1="218.20" x2="176.74" y2="220.20" stroke="#0a0a0a" stroke-width="0.8"/>
<line x1="178.36" y1="218.20" x2="178.36" y2="220.20" stroke="#0a0a0a" stroke-width="0.8"/>
<line x1="179.73" y1="218.20" x2="179.73" y2="220.20" stroke="#0a0a0a" stroke-width="0.8"/>
<line x1="180.92" y1="218.20" x2="180.92" y2="220.20" stroke="#0a0a0a" stroke-width="0.8"/>
<line x1="181.96" y1="218.20" x2="181.96" y2="220.20" stroke="#0a0a0a" stroke-width="0.8"/>
<line x1="182.90" y1="218.20" x2="182.90" y2="221.10" stroke="#0a0a0a" stroke-width="1.0"/>
<line x1="189.06" y1="218.20" x2="189.06" y2="220.20" stroke="#0a0a0a" stroke-width="0.8"/>
<line x1="192.66" y1="218.20" x2="192.66" y2="220.20" stroke="#0a0a0a" stroke-width="0.8"/>
<line x1="195.21" y1="218.20" x2="195.21" y2="220.20" stroke="#0a0a0a" stroke-width="0.8"/>
<line x1="197.19" y1="218.20" x2="197.19" y2="220.20" stroke="#0a0a0a" stroke-width="0.8"/>
<line x1="198.81" y1="218.20" x2="198.81" y2="220.20" stroke="#0a0a0a" stroke-width="0.8"/>
<line x1="200.18" y1="218.20" x2="200.18" y2="220.20" stroke="#0a0a0a" stroke-width="0.8"/>
<line x1="201.37" y1="218.20" x2="201.37" y2="220.20" stroke="#0a0a0a" stroke-width="0.8"/>
<line x1="202.41" y1="218.20" x2="202.41" y2="220.20" stroke="#0a0a0a" stroke-width="0.8"/>
<line x1="203.35" y1="218.20" x2="203.35" y2="221.10" stroke="#0a0a0a" stroke-width="1.0"/>
<line x1="209.51" y1="218.20" x2="209.51" y2="220.20" stroke="#0a0a0a" stroke-width="0.8"/>
<line x1="213.11" y1="218.20" x2="213.11" y2="220.20" stroke="#0a0a0a" stroke-width="0.8"/>
<line x1="215.66" y1="218.20" x2="215.66" y2="220.20" stroke="#0a0a0a" stroke-width="0.8"/>
<line x1="217.64" y1="218.20" x2="217.64" y2="220.20" stroke="#0a0a0a" stroke-width="0.8"/>
<line x1="219.26" y1="218.20" x2="219.26" y2="220.20" stroke="#0a0a0a" stroke-width="0.8"/>
<line x1="220.63" y1="218.20" x2="220.63" y2="220.20" stroke="#0a0a0a" stroke-width="0.8"/>
<line x1="221.82" y1="218.20" x2="221.82" y2="220.20" stroke="#0a0a0a" stroke-width="0.8"/>
<line x1="222.86" y1="218.20" x2="222.86" y2="220.20" stroke="#0a0a0a" stroke-width="0.8"/>
<text x="137.70" y="227.40" font-size="5" text-anchor="start" fill="#222" >10<tspan font-size="4" dy="-2.3">0</tspan></text>
<text x="158.15" y="227.40" font-size="5" text-anchor="start" fill="#222" >10<tspan font-size="4" dy="-2.3">1</tspan></text>
<text x="178.60" y="227.40" font-size="5" text-anchor="start" fill="#222" >10<tspan font-size="4" dy="-2.3">2</tspan></text>
<text x="199.05" y="227.40" font-size="5" text-anchor="start" fill="#222" >10<tspan font-size="4" dy="-2.3">3</tspan></text>
<text x="219.50" y="227.40" font-size="5" text-anchor="start" fill="#222" >10<tspan font-size="4" dy="-2.3">4</tspan></text>
<path d="M239.67,218.24 C240.28,216.93 242.17,213.52 243.33,210.38 C244.48,207.25 245.58,204.60 246.62,199.42 C247.65,194.25 248.69,185.72 249.54,179.33 C250.39,172.93 251.06,166.23 251.73,161.06 C252.40,155.88 253.01,151.13 253.56,148.27 C254.11,145.41 254.50,143.58 255.02,143.88 C255.54,144.19 256.08,146.32 256.66,150.10 C257.24,153.87 257.82,160.14 258.49,166.54 C259.16,172.93 259.92,181.76 260.68,188.46 C261.44,195.16 262.21,201.77 263.06,206.73 C263.91,211.69 265.34,216.32 265.80,218.24 L265.80,218.60 L239.67,218.60 Z" fill="#8c8c8c" stroke="none"/>
<path d="M238.39,215.87 C238.70,214.34 239.52,210.38 240.22,206.73 C240.92,203.08 241.77,198.21 242.60,193.94 C243.42,189.68 244.24,185.72 245.15,181.15 C246.07,176.59 247.13,171.11 248.08,166.54 C249.02,161.97 249.93,157.25 250.82,153.75 C251.70,150.25 252.61,147.36 253.38,145.53 C254.14,143.70 254.75,142.79 255.38,142.79 C256.02,142.79 256.63,143.09 257.21,145.53 C257.79,147.96 258.31,152.08 258.86,157.40 C259.40,162.73 259.95,171.11 260.50,177.50 C261.05,183.89 261.47,190.29 262.14,195.77 C262.81,201.25 263.61,206.64 264.52,210.38 C265.43,214.13 267.11,216.93 267.62,218.24" fill="none" stroke="#0a0a0a" stroke-width="2.2" stroke-dasharray="9.5 2.2" stroke-linejoin="round"/>
<path d="M241.13,218.24 C242.05,217.97 244.94,217.45 246.62,216.60 C248.29,215.74 249.96,214.92 251.18,213.12 C252.40,211.33 253.10,209.62 253.92,205.82 C254.75,202.01 255.45,195.92 256.12,190.29 C256.79,184.66 257.33,177.80 257.94,172.02 C258.55,166.23 259.13,159.69 259.77,155.58 C260.41,151.47 261.14,149.43 261.78,147.36 C262.42,145.29 263.03,144.10 263.61,143.15 C264.18,142.21 264.73,141.30 265.25,141.69 C265.77,142.09 266.25,142.61 266.71,145.53 C267.17,148.45 267.56,153.90 267.99,159.23 C268.42,164.56 268.84,171.41 269.27,177.50 C269.70,183.59 270.09,190.29 270.55,195.77 C271.00,201.25 271.28,206.64 272.01,210.38 C272.74,214.13 274.45,216.93 274.93,218.24" fill="none" stroke="#0a0a0a" stroke-width="2.2" stroke-linejoin="round"/>
<rect x="237.80" y="136.20" width="82.00" height="82.00" fill="none" stroke="#0a0a0a" stroke-width="2.0"/>
<line x1="237.80" y1="218.10" x2="234.10" y2="218.10" stroke="#0a0a0a" stroke-width="1.3"/>
<line x1="237.80" y1="216.16" x2="236.05" y2="216.16" stroke="#0a0a0a" stroke-width="0.8"/>
<line x1="237.80" y1="214.22" x2="236.05" y2="214.22" stroke="#0a0a0a" stroke-width="0.8"/>
<line x1="237.80" y1="212.28" x2="236.05" y2="212.28" stroke="#0a0a0a" stroke-width="0.8"/>
<line x1="237.80" y1="210.34" x2="236.05" y2="210.34" stroke="#0a0a0a" stroke-width="0.8"/>
<line x1="237.80" y1="208.40" x2="236.05" y2="208.40" stroke="#0a0a0a" stroke-width="0.8"/>
<line x1="237.80" y1="206.46" x2="236.05" y2="206.46" stroke="#0a0a0a" stroke-width="0.8"/>
<line x1="237.80" y1="204.52" x2="236.05" y2="204.52" stroke="#0a0a0a" stroke-width="0.8"/>
<line x1="237.80" y1="202.58" x2="234.10" y2="202.58" stroke="#0a0a0a" stroke-width="1.3"/>
<line x1="237.80" y1="200.64" x2="236.05" y2="200.64" stroke="#0a0a0a" stroke-width="0.8"/>
<line x1="237.80" y1="198.70" x2="236.05" y2="198.70" stroke="#0a0a0a" stroke-width="0.8"/>
<line x1="237.80" y1="196.76" x2="236.05" y2="196.76" stroke="#0a0a0a" stroke-width="0.8"/>
<line x1="237.80" y1="194.82" x2="236.05" y2="194.82" stroke="#0a0a0a" stroke-width="0.8"/>
<line x1="237.80" y1="192.88" x2="236.05" y2="192.88" stroke="#0a0a0a" stroke-width="0.8"/>
<line x1="237.80" y1="190.94" x2="236.05" y2="190.94" stroke="#0a0a0a" stroke-width="0.8"/>
<line x1="237.80" y1="189.00" x2="236.05" y2="189.00" stroke="#0a0a0a" stroke-width="0.8"/>
<line x1="237.80" y1="187.06" x2="234.10" y2="187.06" stroke="#0a0a0a" stroke-width="1.3"/>
<line x1="237.80" y1="185.12" x2="236.05" y2="185.12" stroke="#0a0a0a" stroke-width="0.8"/>
<line x1="237.80" y1="183.18" x2="236.05" y2="183.18" stroke="#0a0a0a" stroke-width="0.8"/>
<line x1="237.80" y1="181.24" x2="236.05" y2="181.24" stroke="#0a0a0a" stroke-width="0.8"/>
<line x1="237.80" y1="179.30" x2="236.05" y2="179.30" stroke="#0a0a0a" stroke-width="0.8"/>
<line x1="237.80" y1="177.36" x2="236.05" y2="177.36" stroke="#0a0a0a" stroke-width="0.8"/>
<line x1="237.80" y1="175.42" x2="236.05" y2="175.42" stroke="#0a0a0a" stroke-width="0.8"/>
<line x1="237.80" y1="173.48" x2="236.05" y2="173.48" stroke="#0a0a0a" stroke-width="0.8"/>
<line x1="237.80" y1="171.54" x2="234.10" y2="171.54" stroke="#0a0a0a" stroke-width="1.3"/>
<line x1="237.80" y1="169.60" x2="236.05" y2="169.60" stroke="#0a0a0a" stroke-width="0.8"/>
<line x1="237.80" y1="167.66" x2="236.05" y2="167.66" stroke="#0a0a0a" stroke-width="0.8"/>
<line x1="237.80" y1="165.72" x2="236.05" y2="165.72" stroke="#0a0a0a" stroke-width="0.8"/>
<line x1="237.80" y1="163.78" x2="236.05" y2="163.78" stroke="#0a0a0a" stroke-width="0.8"/>
<line x1="237.80" y1="161.84" x2="236.05" y2="161.84" stroke="#0a0a0a" stroke-width="0.8"/>
<line x1="237.80" y1="159.90" x2="236.05" y2="159.90" stroke="#0a0a0a" stroke-width="0.8"/>
<line x1="237.80" y1="157.96" x2="236.05" y2="157.96" stroke="#0a0a0a" stroke-width="0.8"/>
<line x1="237.80" y1="156.02" x2="234.10" y2="156.02" stroke="#0a0a0a" stroke-width="1.3"/>
<line x1="237.80" y1="154.08" x2="236.05" y2="154.08" stroke="#0a0a0a" stroke-width="0.8"/>
<line x1="237.80" y1="152.14" x2="236.05" y2="152.14" stroke="#0a0a0a" stroke-width="0.8"/>
<line x1="237.80" y1="150.20" x2="236.05" y2="150.20" stroke="#0a0a0a" stroke-width="0.8"/>
<line x1="237.80" y1="148.26" x2="236.05" y2="148.26" stroke="#0a0a0a" stroke-width="0.8"/>
<line x1="237.80" y1="146.32" x2="236.05" y2="146.32" stroke="#0a0a0a" stroke-width="0.8"/>
<line x1="237.80" y1="144.38" x2="236.05" y2="144.38" stroke="#0a0a0a" stroke-width="0.8"/>
<line x1="237.80" y1="142.44" x2="236.05" y2="142.44" stroke="#0a0a0a" stroke-width="0.8"/>
<line x1="237.80" y1="140.50" x2="234.10" y2="140.50" stroke="#0a0a0a" stroke-width="1.3"/>
<text x="234.40" y="219.90" font-size="5" text-anchor="end" fill="#222" >0</text>
<text x="234.40" y="204.38" font-size="5" text-anchor="end" fill="#222" >20</text>
<text x="234.40" y="188.86" font-size="5" text-anchor="end" fill="#222" >40</text>
<text x="234.40" y="173.34" font-size="5" text-anchor="end" fill="#222" >60</text>
<text x="234.40" y="157.82" font-size="5" text-anchor="end" fill="#222" >80</text>
<text x="234.40" y="142.30" font-size="5" text-anchor="end" fill="#222" >100</text>
<line x1="237.80" y1="218.20" x2="237.80" y2="221.10" stroke="#0a0a0a" stroke-width="1.0"/>
<line x1="243.97" y1="218.20" x2="243.97" y2="220.20" stroke="#0a0a0a" stroke-width="0.8"/>
<line x1="247.58" y1="218.20" x2="247.58" y2="220.20" stroke="#0a0a0a" stroke-width="0.8"/>
<line x1="250.14" y1="218.20" x2="250.14" y2="220.20" stroke="#0a0a0a" stroke-width="0.8"/>
<line x1="252.13" y1="218.20" x2="252.13" y2="220.20" stroke="#0a0a0a" stroke-width="0.8"/>
<line x1="253.75" y1="218.20" x2="253.75" y2="220.20" stroke="#0a0a0a" stroke-width="0.8"/>
<line x1="255.12" y1="218.20" x2="255.12" y2="220.20" stroke="#0a0a0a" stroke-width="0.8"/>
<line x1="256.31" y1="218.20" x2="256.31" y2="220.20" stroke="#0a0a0a" stroke-width="0.8"/>
<line x1="257.36" y1="218.20" x2="257.36" y2="220.20" stroke="#0a0a0a" stroke-width="0.8"/>
<line x1="258.30" y1="218.20" x2="258.30" y2="221.10" stroke="#0a0a0a" stroke-width="1.0"/>
<line x1="264.47" y1="218.20" x2="264.47" y2="220.20" stroke="#0a0a0a" stroke-width="0.8"/>
<line x1="268.08" y1="218.20" x2="268.08" y2="220.20" stroke="#0a0a0a" stroke-width="0.8"/>
<line x1="270.64" y1="218.20" x2="270.64" y2="220.20" stroke="#0a0a0a" stroke-width="0.8"/>
<line x1="272.63" y1="218.20" x2="272.63" y2="220.20" stroke="#0a0a0a" stroke-width="0.8"/>
<line x1="274.25" y1="218.20" x2="274.25" y2="220.20" stroke="#0a0a0a" stroke-width="0.8"/>
<line x1="275.62" y1="218.20" x2="275.62" y2="220.20" stroke="#0a0a0a" stroke-width="0.8"/>
<line x1="276.81" y1="218.20" x2="276.81" y2="220.20" stroke="#0a0a0a" stroke-width="0.8"/>
<line x1="277.86" y1="218.20" x2="277.86" y2="220.20" stroke="#0a0a0a" stroke-width="0.8"/>
<line x1="278.80" y1="218.20" x2="278.80" y2="221.10" stroke="#0a0a0a" stroke-width="1.0"/>
<line x1="284.97" y1="218.20" x2="284.97" y2="220.20" stroke="#0a0a0a" stroke-width="0.8"/>
<line x1="288.58" y1="218.20" x2="288.58" y2="220.20" stroke="#0a0a0a" stroke-width="0.8"/>
<line x1="291.14" y1="218.20" x2="291.14" y2="220.20" stroke="#0a0a0a" stroke-width="0.8"/>
<line x1="293.13" y1="218.20" x2="293.13" y2="220.20" stroke="#0a0a0a" stroke-width="0.8"/>
<line x1="294.75" y1="218.20" x2="294.75" y2="220.20" stroke="#0a0a0a" stroke-width="0.8"/>
<line x1="296.12" y1="218.20" x2="296.12" y2="220.20" stroke="#0a0a0a" stroke-width="0.8"/>
<line x1="297.31" y1="218.20" x2="297.31" y2="220.20" stroke="#0a0a0a" stroke-width="0.8"/>
<line x1="298.36" y1="218.20" x2="298.36" y2="220.20" stroke="#0a0a0a" stroke-width="0.8"/>
<line x1="299.30" y1="218.20" x2="299.30" y2="221.10" stroke="#0a0a0a" stroke-width="1.0"/>
<line x1="305.47" y1="218.20" x2="305.47" y2="220.20" stroke="#0a0a0a" stroke-width="0.8"/>
<line x1="309.08" y1="218.20" x2="309.08" y2="220.20" stroke="#0a0a0a" stroke-width="0.8"/>
<line x1="311.64" y1="218.20" x2="311.64" y2="220.20" stroke="#0a0a0a" stroke-width="0.8"/>
<line x1="313.63" y1="218.20" x2="313.63" y2="220.20" stroke="#0a0a0a" stroke-width="0.8"/>
<line x1="315.25" y1="218.20" x2="315.25" y2="220.20" stroke="#0a0a0a" stroke-width="0.8"/>
<line x1="316.62" y1="218.20" x2="316.62" y2="220.20" stroke="#0a0a0a" stroke-width="0.8"/>
<line x1="317.81" y1="218.20" x2="317.81" y2="220.20" stroke="#0a0a0a" stroke-width="0.8"/>
<line x1="318.86" y1="218.20" x2="318.86" y2="220.20" stroke="#0a0a0a" stroke-width="0.8"/>
<text x="233.50" y="227.40" font-size="5" text-anchor="start" fill="#222" >10<tspan font-size="4" dy="-2.3">0</tspan></text>
<text x="254.00" y="227.40" font-size="5" text-anchor="start" fill="#222" >10<tspan font-size="4" dy="-2.3">1</tspan></text>
<text x="274.50" y="227.40" font-size="5" text-anchor="start" fill="#222" >10<tspan font-size="4" dy="-2.3">2</tspan></text>
<text x="295.00" y="227.40" font-size="5" text-anchor="start" fill="#222" >10<tspan font-size="4" dy="-2.3">3</tspan></text>
<text x="315.50" y="227.40" font-size="5" text-anchor="start" fill="#222" >10<tspan font-size="4" dy="-2.3">4</tspan></text>
<path d="M348.27,218.24 C348.82,216.93 350.58,214.13 351.56,210.38 C352.53,206.64 353.35,201.25 354.12,195.77 C354.88,190.29 355.52,183.59 356.12,177.50 C356.73,171.41 357.25,164.56 357.77,159.23 C358.29,153.90 358.83,148.45 359.23,145.53 C359.63,142.61 359.81,141.24 360.14,141.69 C360.48,142.15 360.78,145.04 361.24,148.27 C361.70,151.50 362.25,156.49 362.88,161.06 C363.52,165.62 364.32,170.80 365.08,175.67 C365.84,180.54 366.60,185.11 367.45,190.29 C368.30,195.46 369.25,202.07 370.19,206.73 C371.14,211.39 372.63,216.32 373.12,218.24 L373.12,218.60 L348.27,218.60 Z" fill="#9a9a9a" stroke="none"/>
<path d="M351.92,218.24 C352.68,217.24 355.12,214.74 356.49,212.21 C357.86,209.68 359.08,207.04 360.14,203.08 C361.21,199.12 362.06,193.94 362.88,188.46 C363.71,182.98 364.41,176.28 365.08,170.19 C365.75,164.10 366.36,156.43 366.90,151.92 C367.45,147.42 367.94,144.92 368.37,143.15 C368.79,141.39 369.10,140.17 369.46,141.33 C369.83,142.48 370.13,144.98 370.56,150.10 C370.98,155.21 371.53,165.02 372.02,172.02 C372.51,179.02 372.93,186.33 373.48,192.12 C374.03,197.90 374.58,203.08 375.31,206.73 C376.04,210.38 376.95,212.12 377.87,214.04 C378.78,215.96 380.30,217.54 380.79,218.24" fill="none" stroke="#0a0a0a" stroke-width="2.2" stroke-dasharray="9.5 2.2" stroke-linejoin="round"/>
<path d="M360.14,218.24 C360.75,217.39 362.79,215.96 363.80,213.12 C364.80,210.29 365.47,205.97 366.17,201.25 C366.87,196.53 367.42,190.90 368.00,184.81 C368.58,178.72 369.13,170.80 369.64,164.71 C370.16,158.62 370.68,152.04 371.11,148.27 C371.53,144.49 371.87,142.91 372.20,142.06 C372.54,141.21 372.75,140.90 373.12,143.15 C373.48,145.41 373.91,149.24 374.39,155.58 C374.88,161.91 375.46,173.24 376.04,181.15 C376.62,189.07 377.17,197.75 377.87,203.08 C378.57,208.41 379.24,210.60 380.24,213.12 C381.25,215.65 383.29,217.39 383.89,218.24" fill="none" stroke="#0a0a0a" stroke-width="2.2" stroke-linejoin="round"/>
<rect x="336.80" y="136.20" width="82.30" height="82.00" fill="none" stroke="#0a0a0a" stroke-width="2.0"/>
<line x1="336.80" y1="218.10" x2="333.10" y2="218.10" stroke="#0a0a0a" stroke-width="1.3"/>
<line x1="336.80" y1="216.16" x2="335.05" y2="216.16" stroke="#0a0a0a" stroke-width="0.8"/>
<line x1="336.80" y1="214.22" x2="335.05" y2="214.22" stroke="#0a0a0a" stroke-width="0.8"/>
<line x1="336.80" y1="212.28" x2="335.05" y2="212.28" stroke="#0a0a0a" stroke-width="0.8"/>
<line x1="336.80" y1="210.34" x2="335.05" y2="210.34" stroke="#0a0a0a" stroke-width="0.8"/>
<line x1="336.80" y1="208.40" x2="335.05" y2="208.40" stroke="#0a0a0a" stroke-width="0.8"/>
<line x1="336.80" y1="206.46" x2="335.05" y2="206.46" stroke="#0a0a0a" stroke-width="0.8"/>
<line x1="336.80" y1="204.52" x2="335.05" y2="204.52" stroke="#0a0a0a" stroke-width="0.8"/>
<line x1="336.80" y1="202.58" x2="333.10" y2="202.58" stroke="#0a0a0a" stroke-width="1.3"/>
<line x1="336.80" y1="200.64" x2="335.05" y2="200.64" stroke="#0a0a0a" stroke-width="0.8"/>
<line x1="336.80" y1="198.70" x2="335.05" y2="198.70" stroke="#0a0a0a" stroke-width="0.8"/>
<line x1="336.80" y1="196.76" x2="335.05" y2="196.76" stroke="#0a0a0a" stroke-width="0.8"/>
<line x1="336.80" y1="194.82" x2="335.05" y2="194.82" stroke="#0a0a0a" stroke-width="0.8"/>
<line x1="336.80" y1="192.88" x2="335.05" y2="192.88" stroke="#0a0a0a" stroke-width="0.8"/>
<line x1="336.80" y1="190.94" x2="335.05" y2="190.94" stroke="#0a0a0a" stroke-width="0.8"/>
<line x1="336.80" y1="189.00" x2="335.05" y2="189.00" stroke="#0a0a0a" stroke-width="0.8"/>
<line x1="336.80" y1="187.06" x2="333.10" y2="187.06" stroke="#0a0a0a" stroke-width="1.3"/>
<line x1="336.80" y1="185.12" x2="335.05" y2="185.12" stroke="#0a0a0a" stroke-width="0.8"/>
<line x1="336.80" y1="183.18" x2="335.05" y2="183.18" stroke="#0a0a0a" stroke-width="0.8"/>
<line x1="336.80" y1="181.24" x2="335.05" y2="181.24" stroke="#0a0a0a" stroke-width="0.8"/>
<line x1="336.80" y1="179.30" x2="335.05" y2="179.30" stroke="#0a0a0a" stroke-width="0.8"/>
<line x1="336.80" y1="177.36" x2="335.05" y2="177.36" stroke="#0a0a0a" stroke-width="0.8"/>
<line x1="336.80" y1="175.42" x2="335.05" y2="175.42" stroke="#0a0a0a" stroke-width="0.8"/>
<line x1="336.80" y1="173.48" x2="335.05" y2="173.48" stroke="#0a0a0a" stroke-width="0.8"/>
<line x1="336.80" y1="171.54" x2="333.10" y2="171.54" stroke="#0a0a0a" stroke-width="1.3"/>
<line x1="336.80" y1="169.60" x2="335.05" y2="169.60" stroke="#0a0a0a" stroke-width="0.8"/>
<line x1="336.80" y1="167.66" x2="335.05" y2="167.66" stroke="#0a0a0a" stroke-width="0.8"/>
<line x1="336.80" y1="165.72" x2="335.05" y2="165.72" stroke="#0a0a0a" stroke-width="0.8"/>
<line x1="336.80" y1="163.78" x2="335.05" y2="163.78" stroke="#0a0a0a" stroke-width="0.8"/>
<line x1="336.80" y1="161.84" x2="335.05" y2="161.84" stroke="#0a0a0a" stroke-width="0.8"/>
<line x1="336.80" y1="159.90" x2="335.05" y2="159.90" stroke="#0a0a0a" stroke-width="0.8"/>
<line x1="336.80" y1="157.96" x2="335.05" y2="157.96" stroke="#0a0a0a" stroke-width="0.8"/>
<line x1="336.80" y1="156.02" x2="333.10" y2="156.02" stroke="#0a0a0a" stroke-width="1.3"/>
<line x1="336.80" y1="154.08" x2="335.05" y2="154.08" stroke="#0a0a0a" stroke-width="0.8"/>
<line x1="336.80" y1="152.14" x2="335.05" y2="152.14" stroke="#0a0a0a" stroke-width="0.8"/>
<line x1="336.80" y1="150.20" x2="335.05" y2="150.20" stroke="#0a0a0a" stroke-width="0.8"/>
<line x1="336.80" y1="148.26" x2="335.05" y2="148.26" stroke="#0a0a0a" stroke-width="0.8"/>
<line x1="336.80" y1="146.32" x2="335.05" y2="146.32" stroke="#0a0a0a" stroke-width="0.8"/>
<line x1="336.80" y1="144.38" x2="335.05" y2="144.38" stroke="#0a0a0a" stroke-width="0.8"/>
<line x1="336.80" y1="142.44" x2="335.05" y2="142.44" stroke="#0a0a0a" stroke-width="0.8"/>
<line x1="336.80" y1="140.50" x2="333.10" y2="140.50" stroke="#0a0a0a" stroke-width="1.3"/>
<text x="333.40" y="219.90" font-size="5" text-anchor="end" fill="#222" >0</text>
<text x="333.40" y="204.38" font-size="5" text-anchor="end" fill="#222" >20</text>
<text x="333.40" y="188.86" font-size="5" text-anchor="end" fill="#222" >40</text>
<text x="333.40" y="173.34" font-size="5" text-anchor="end" fill="#222" >60</text>
<text x="333.40" y="157.82" font-size="5" text-anchor="end" fill="#222" >80</text>
<text x="333.40" y="142.30" font-size="5" text-anchor="end" fill="#222" >100</text>
<line x1="336.80" y1="218.20" x2="336.80" y2="221.10" stroke="#0a0a0a" stroke-width="1.0"/>
<line x1="342.99" y1="218.20" x2="342.99" y2="220.20" stroke="#0a0a0a" stroke-width="0.8"/>
<line x1="346.62" y1="218.20" x2="346.62" y2="220.20" stroke="#0a0a0a" stroke-width="0.8"/>
<line x1="349.19" y1="218.20" x2="349.19" y2="220.20" stroke="#0a0a0a" stroke-width="0.8"/>
<line x1="351.18" y1="218.20" x2="351.18" y2="220.20" stroke="#0a0a0a" stroke-width="0.8"/>
<line x1="352.81" y1="218.20" x2="352.81" y2="220.20" stroke="#0a0a0a" stroke-width="0.8"/>
<line x1="354.19" y1="218.20" x2="354.19" y2="220.20" stroke="#0a0a0a" stroke-width="0.8"/>
<line x1="355.38" y1="218.20" x2="355.38" y2="220.20" stroke="#0a0a0a" stroke-width="0.8"/>
<line x1="356.43" y1="218.20" x2="356.43" y2="220.20" stroke="#0a0a0a" stroke-width="0.8"/>
<line x1="357.38" y1="218.20" x2="357.38" y2="221.10" stroke="#0a0a0a" stroke-width="1.0"/>
<line x1="363.57" y1="218.20" x2="363.57" y2="220.20" stroke="#0a0a0a" stroke-width="0.8"/>
<line x1="367.19" y1="218.20" x2="367.19" y2="220.20" stroke="#0a0a0a" stroke-width="0.8"/>
<line x1="369.76" y1="218.20" x2="369.76" y2="220.20" stroke="#0a0a0a" stroke-width="0.8"/>
<line x1="371.76" y1="218.20" x2="371.76" y2="220.20" stroke="#0a0a0a" stroke-width="0.8"/>
<line x1="373.39" y1="218.20" x2="373.39" y2="220.20" stroke="#0a0a0a" stroke-width="0.8"/>
<line x1="374.76" y1="218.20" x2="374.76" y2="220.20" stroke="#0a0a0a" stroke-width="0.8"/>
<line x1="375.96" y1="218.20" x2="375.96" y2="220.20" stroke="#0a0a0a" stroke-width="0.8"/>
<line x1="377.01" y1="218.20" x2="377.01" y2="220.20" stroke="#0a0a0a" stroke-width="0.8"/>
<line x1="377.95" y1="218.20" x2="377.95" y2="221.10" stroke="#0a0a0a" stroke-width="1.0"/>
<line x1="384.14" y1="218.20" x2="384.14" y2="220.20" stroke="#0a0a0a" stroke-width="0.8"/>
<line x1="387.77" y1="218.20" x2="387.77" y2="220.20" stroke="#0a0a0a" stroke-width="0.8"/>
<line x1="390.34" y1="218.20" x2="390.34" y2="220.20" stroke="#0a0a0a" stroke-width="0.8"/>
<line x1="392.33" y1="218.20" x2="392.33" y2="220.20" stroke="#0a0a0a" stroke-width="0.8"/>
<line x1="393.96" y1="218.20" x2="393.96" y2="220.20" stroke="#0a0a0a" stroke-width="0.8"/>
<line x1="395.34" y1="218.20" x2="395.34" y2="220.20" stroke="#0a0a0a" stroke-width="0.8"/>
<line x1="396.53" y1="218.20" x2="396.53" y2="220.20" stroke="#0a0a0a" stroke-width="0.8"/>
<line x1="397.58" y1="218.20" x2="397.58" y2="220.20" stroke="#0a0a0a" stroke-width="0.8"/>
<line x1="398.53" y1="218.20" x2="398.53" y2="221.10" stroke="#0a0a0a" stroke-width="1.0"/>
<line x1="404.72" y1="218.20" x2="404.72" y2="220.20" stroke="#0a0a0a" stroke-width="0.8"/>
<line x1="408.34" y1="218.20" x2="408.34" y2="220.20" stroke="#0a0a0a" stroke-width="0.8"/>
<line x1="410.91" y1="218.20" x2="410.91" y2="220.20" stroke="#0a0a0a" stroke-width="0.8"/>
<line x1="412.91" y1="218.20" x2="412.91" y2="220.20" stroke="#0a0a0a" stroke-width="0.8"/>
<line x1="414.54" y1="218.20" x2="414.54" y2="220.20" stroke="#0a0a0a" stroke-width="0.8"/>
<line x1="415.91" y1="218.20" x2="415.91" y2="220.20" stroke="#0a0a0a" stroke-width="0.8"/>
<line x1="417.11" y1="218.20" x2="417.11" y2="220.20" stroke="#0a0a0a" stroke-width="0.8"/>
<line x1="418.16" y1="218.20" x2="418.16" y2="220.20" stroke="#0a0a0a" stroke-width="0.8"/>
<text x="332.50" y="227.40" font-size="5" text-anchor="start" fill="#222" >10<tspan font-size="4" dy="-2.3">0</tspan></text>
<text x="353.07" y="227.40" font-size="5" text-anchor="start" fill="#222" >10<tspan font-size="4" dy="-2.3">1</tspan></text>
<text x="373.65" y="227.40" font-size="5" text-anchor="start" fill="#222" >10<tspan font-size="4" dy="-2.3">2</tspan></text>
<text x="394.23" y="227.40" font-size="5" text-anchor="start" fill="#222" >10<tspan font-size="4" dy="-2.3">3</tspan></text>
<text x="414.80" y="227.40" font-size="5" text-anchor="start" fill="#222" >10<tspan font-size="4" dy="-2.3">4</tspan></text>
<path d="M447.65,218.24 C448.26,217.08 450.18,214.43 451.31,211.30 C452.43,208.16 453.44,203.84 454.41,199.42 C455.39,195.01 456.30,189.68 457.15,184.81 C458.01,179.94 458.77,175.06 459.53,170.19 C460.29,165.32 461.05,159.69 461.72,155.58 C462.39,151.47 463.03,147.72 463.55,145.53 C464.07,143.34 464.37,141.66 464.83,142.42 C465.28,143.18 465.80,145.77 466.29,150.10 C466.78,154.42 467.26,161.67 467.75,168.37 C468.24,175.06 468.72,183.59 469.21,190.29 C469.70,196.99 470.12,203.90 470.67,208.56 C471.22,213.22 472.20,216.63 472.50,218.24 L472.50,218.60 L447.65,218.60 Z" fill="#939393" stroke="none"/>
<path d="M452.77,218.24 C453.20,216.93 454.47,213.83 455.33,210.38 C456.18,206.94 457.09,202.16 457.88,197.60 C458.68,193.03 459.41,187.18 460.08,182.98 C460.75,178.78 461.26,174.97 461.90,172.38 C462.54,169.80 463.18,168.97 463.91,167.45 C464.64,165.93 465.53,164.92 466.29,163.25 C467.05,161.58 467.84,159.90 468.48,157.40 C469.12,154.91 469.61,150.89 470.12,148.27 C470.64,145.65 471.13,142.61 471.59,141.69 C472.04,140.78 472.41,140.78 472.87,142.79 C473.32,144.80 473.84,148.27 474.33,153.75 C474.81,159.23 475.30,168.06 475.79,175.67 C476.28,183.29 476.79,193.18 477.25,199.42 C477.71,205.67 478.10,209.99 478.53,213.12 C478.96,216.26 479.59,217.39 479.81,218.24" fill="none" stroke="#0a0a0a" stroke-width="2.2" stroke-dasharray="9.5 2.2" stroke-linejoin="round"/>
<path d="M465.19,218.24 C465.68,217.08 467.29,215.04 468.12,211.30 C468.94,207.55 469.52,201.71 470.12,195.77 C470.73,189.83 471.25,182.37 471.77,175.67 C472.29,168.97 472.77,160.91 473.23,155.58 C473.69,150.25 474.14,146.08 474.51,143.70 C474.88,141.33 475.12,140.87 475.42,141.33 C475.73,141.78 476.00,142.24 476.34,146.44 C476.67,150.64 477.07,158.93 477.43,166.54 C477.80,174.15 478.16,184.81 478.53,192.12 C478.89,199.42 479.23,206.03 479.62,210.38 C480.02,214.74 480.69,216.93 480.90,218.24" fill="none" stroke="#0a0a0a" stroke-width="2.2" stroke-linejoin="round"/>
<rect x="431.80" y="136.20" width="81.50" height="82.00" fill="none" stroke="#0a0a0a" stroke-width="2.0"/>
<line x1="431.80" y1="218.10" x2="428.10" y2="218.10" stroke="#0a0a0a" stroke-width="1.3"/>
<line x1="431.80" y1="216.16" x2="430.05" y2="216.16" stroke="#0a0a0a" stroke-width="0.8"/>
<line x1="431.80" y1="214.22" x2="430.05" y2="214.22" stroke="#0a0a0a" stroke-width="0.8"/>
<line x1="431.80" y1="212.28" x2="430.05" y2="212.28" stroke="#0a0a0a" stroke-width="0.8"/>
<line x1="431.80" y1="210.34" x2="430.05" y2="210.34" stroke="#0a0a0a" stroke-width="0.8"/>
<line x1="431.80" y1="208.40" x2="430.05" y2="208.40" stroke="#0a0a0a" stroke-width="0.8"/>
<line x1="431.80" y1="206.46" x2="430.05" y2="206.46" stroke="#0a0a0a" stroke-width="0.8"/>
<line x1="431.80" y1="204.52" x2="430.05" y2="204.52" stroke="#0a0a0a" stroke-width="0.8"/>
<line x1="431.80" y1="202.58" x2="428.10" y2="202.58" stroke="#0a0a0a" stroke-width="1.3"/>
<line x1="431.80" y1="200.64" x2="430.05" y2="200.64" stroke="#0a0a0a" stroke-width="0.8"/>
<line x1="431.80" y1="198.70" x2="430.05" y2="198.70" stroke="#0a0a0a" stroke-width="0.8"/>
<line x1="431.80" y1="196.76" x2="430.05" y2="196.76" stroke="#0a0a0a" stroke-width="0.8"/>
<line x1="431.80" y1="194.82" x2="430.05" y2="194.82" stroke="#0a0a0a" stroke-width="0.8"/>
<line x1="431.80" y1="192.88" x2="430.05" y2="192.88" stroke="#0a0a0a" stroke-width="0.8"/>
<line x1="431.80" y1="190.94" x2="430.05" y2="190.94" stroke="#0a0a0a" stroke-width="0.8"/>
<line x1="431.80" y1="189.00" x2="430.05" y2="189.00" stroke="#0a0a0a" stroke-width="0.8"/>
<line x1="431.80" y1="187.06" x2="428.10" y2="187.06" stroke="#0a0a0a" stroke-width="1.3"/>
<line x1="431.80" y1="185.12" x2="430.05" y2="185.12" stroke="#0a0a0a" stroke-width="0.8"/>
<line x1="431.80" y1="183.18" x2="430.05" y2="183.18" stroke="#0a0a0a" stroke-width="0.8"/>
<line x1="431.80" y1="181.24" x2="430.05" y2="181.24" stroke="#0a0a0a" stroke-width="0.8"/>
<line x1="431.80" y1="179.30" x2="430.05" y2="179.30" stroke="#0a0a0a" stroke-width="0.8"/>
<line x1="431.80" y1="177.36" x2="430.05" y2="177.36" stroke="#0a0a0a" stroke-width="0.8"/>
<line x1="431.80" y1="175.42" x2="430.05" y2="175.42" stroke="#0a0a0a" stroke-width="0.8"/>
<line x1="431.80" y1="173.48" x2="430.05" y2="173.48" stroke="#0a0a0a" stroke-width="0.8"/>
<line x1="431.80" y1="171.54" x2="428.10" y2="171.54" stroke="#0a0a0a" stroke-width="1.3"/>
<line x1="431.80" y1="169.60" x2="430.05" y2="169.60" stroke="#0a0a0a" stroke-width="0.8"/>
<line x1="431.80" y1="167.66" x2="430.05" y2="167.66" stroke="#0a0a0a" stroke-width="0.8"/>
<line x1="431.80" y1="165.72" x2="430.05" y2="165.72" stroke="#0a0a0a" stroke-width="0.8"/>
<line x1="431.80" y1="163.78" x2="430.05" y2="163.78" stroke="#0a0a0a" stroke-width="0.8"/>
<line x1="431.80" y1="161.84" x2="430.05" y2="161.84" stroke="#0a0a0a" stroke-width="0.8"/>
<line x1="431.80" y1="159.90" x2="430.05" y2="159.90" stroke="#0a0a0a" stroke-width="0.8"/>
<line x1="431.80" y1="157.96" x2="430.05" y2="157.96" stroke="#0a0a0a" stroke-width="0.8"/>
<line x1="431.80" y1="156.02" x2="428.10" y2="156.02" stroke="#0a0a0a" stroke-width="1.3"/>
<line x1="431.80" y1="154.08" x2="430.05" y2="154.08" stroke="#0a0a0a" stroke-width="0.8"/>
<line x1="431.80" y1="152.14" x2="430.05" y2="152.14" stroke="#0a0a0a" stroke-width="0.8"/>
<line x1="431.80" y1="150.20" x2="430.05" y2="150.20" stroke="#0a0a0a" stroke-width="0.8"/>
<line x1="431.80" y1="148.26" x2="430.05" y2="148.26" stroke="#0a0a0a" stroke-width="0.8"/>
<line x1="431.80" y1="146.32" x2="430.05" y2="146.32" stroke="#0a0a0a" stroke-width="0.8"/>
<line x1="431.80" y1="144.38" x2="430.05" y2="144.38" stroke="#0a0a0a" stroke-width="0.8"/>
<line x1="431.80" y1="142.44" x2="430.05" y2="142.44" stroke="#0a0a0a" stroke-width="0.8"/>
<line x1="431.80" y1="140.50" x2="428.10" y2="140.50" stroke="#0a0a0a" stroke-width="1.3"/>
<text x="428.40" y="219.90" font-size="5" text-anchor="end" fill="#222" >0</text>
<text x="428.40" y="204.38" font-size="5" text-anchor="end" fill="#222" >20</text>
<text x="428.40" y="188.86" font-size="5" text-anchor="end" fill="#222" >40</text>
<text x="428.40" y="173.34" font-size="5" text-anchor="end" fill="#222" >60</text>
<text x="428.40" y="157.82" font-size="5" text-anchor="end" fill="#222" >80</text>
<text x="428.40" y="142.30" font-size="5" text-anchor="end" fill="#222" >100</text>
<line x1="431.80" y1="218.20" x2="431.80" y2="221.10" stroke="#0a0a0a" stroke-width="1.0"/>
<line x1="437.93" y1="218.20" x2="437.93" y2="220.20" stroke="#0a0a0a" stroke-width="0.8"/>
<line x1="441.52" y1="218.20" x2="441.52" y2="220.20" stroke="#0a0a0a" stroke-width="0.8"/>
<line x1="444.07" y1="218.20" x2="444.07" y2="220.20" stroke="#0a0a0a" stroke-width="0.8"/>
<line x1="446.04" y1="218.20" x2="446.04" y2="220.20" stroke="#0a0a0a" stroke-width="0.8"/>
<line x1="447.65" y1="218.20" x2="447.65" y2="220.20" stroke="#0a0a0a" stroke-width="0.8"/>
<line x1="449.02" y1="218.20" x2="449.02" y2="220.20" stroke="#0a0a0a" stroke-width="0.8"/>
<line x1="450.20" y1="218.20" x2="450.20" y2="220.20" stroke="#0a0a0a" stroke-width="0.8"/>
<line x1="451.24" y1="218.20" x2="451.24" y2="220.20" stroke="#0a0a0a" stroke-width="0.8"/>
<line x1="452.18" y1="218.20" x2="452.18" y2="221.10" stroke="#0a0a0a" stroke-width="1.0"/>
<line x1="458.31" y1="218.20" x2="458.31" y2="220.20" stroke="#0a0a0a" stroke-width="0.8"/>
<line x1="461.90" y1="218.20" x2="461.90" y2="220.20" stroke="#0a0a0a" stroke-width="0.8"/>
<line x1="464.44" y1="218.20" x2="464.44" y2="220.20" stroke="#0a0a0a" stroke-width="0.8"/>
<line x1="466.42" y1="218.20" x2="466.42" y2="220.20" stroke="#0a0a0a" stroke-width="0.8"/>
<line x1="468.03" y1="218.20" x2="468.03" y2="220.20" stroke="#0a0a0a" stroke-width="0.8"/>
<line x1="469.39" y1="218.20" x2="469.39" y2="220.20" stroke="#0a0a0a" stroke-width="0.8"/>
<line x1="470.58" y1="218.20" x2="470.58" y2="220.20" stroke="#0a0a0a" stroke-width="0.8"/>
<line x1="471.62" y1="218.20" x2="471.62" y2="220.20" stroke="#0a0a0a" stroke-width="0.8"/>
<line x1="472.55" y1="218.20" x2="472.55" y2="221.10" stroke="#0a0a0a" stroke-width="1.0"/>
<line x1="478.68" y1="218.20" x2="478.68" y2="220.20" stroke="#0a0a0a" stroke-width="0.8"/>
<line x1="482.27" y1="218.20" x2="482.27" y2="220.20" stroke="#0a0a0a" stroke-width="0.8"/>
<line x1="484.82" y1="218.20" x2="484.82" y2="220.20" stroke="#0a0a0a" stroke-width="0.8"/>
<line x1="486.79" y1="218.20" x2="486.79" y2="220.20" stroke="#0a0a0a" stroke-width="0.8"/>
<line x1="488.40" y1="218.20" x2="488.40" y2="220.20" stroke="#0a0a0a" stroke-width="0.8"/>
<line x1="489.77" y1="218.20" x2="489.77" y2="220.20" stroke="#0a0a0a" stroke-width="0.8"/>
<line x1="490.95" y1="218.20" x2="490.95" y2="220.20" stroke="#0a0a0a" stroke-width="0.8"/>
<line x1="491.99" y1="218.20" x2="491.99" y2="220.20" stroke="#0a0a0a" stroke-width="0.8"/>
<line x1="492.92" y1="218.20" x2="492.92" y2="221.10" stroke="#0a0a0a" stroke-width="1.0"/>
<line x1="499.06" y1="218.20" x2="499.06" y2="220.20" stroke="#0a0a0a" stroke-width="0.8"/>
<line x1="502.65" y1="218.20" x2="502.65" y2="220.20" stroke="#0a0a0a" stroke-width="0.8"/>
<line x1="505.19" y1="218.20" x2="505.19" y2="220.20" stroke="#0a0a0a" stroke-width="0.8"/>
<line x1="507.17" y1="218.20" x2="507.17" y2="220.20" stroke="#0a0a0a" stroke-width="0.8"/>
<line x1="508.78" y1="218.20" x2="508.78" y2="220.20" stroke="#0a0a0a" stroke-width="0.8"/>
<line x1="510.14" y1="218.20" x2="510.14" y2="220.20" stroke="#0a0a0a" stroke-width="0.8"/>
<line x1="511.33" y1="218.20" x2="511.33" y2="220.20" stroke="#0a0a0a" stroke-width="0.8"/>
<line x1="512.37" y1="218.20" x2="512.37" y2="220.20" stroke="#0a0a0a" stroke-width="0.8"/>
<text x="427.50" y="227.40" font-size="5" text-anchor="start" fill="#222" >10<tspan font-size="4" dy="-2.3">0</tspan></text>
<text x="447.88" y="227.40" font-size="5" text-anchor="start" fill="#222" >10<tspan font-size="4" dy="-2.3">1</tspan></text>
<text x="468.25" y="227.40" font-size="5" text-anchor="start" fill="#222" >10<tspan font-size="4" dy="-2.3">2</tspan></text>
<text x="488.62" y="227.40" font-size="5" text-anchor="start" fill="#222" >10<tspan font-size="4" dy="-2.3">3</tspan></text>
<text x="509.00" y="227.40" font-size="5" text-anchor="start" fill="#222" >10<tspan font-size="4" dy="-2.3">4</tspan></text>
<rect x="432.5" y="237.3" width="9.2" height="3" fill="#0a0a0a"/>
<rect x="432.5" y="250.6" width="3.2" height="3" fill="#0a0a0a"/><rect x="438.3" y="250.6" width="3.2" height="3" fill="#0a0a0a"/>
<rect x="432.5" y="262.8" width="9.2" height="6.2" fill="#8a8a8a"/>
<text x="445.00" y="242.20" font-size="12.6" text-anchor="start" font-style="italic" fill="#111" >syk<tspan font-size="7.4" dy="-4.9">f/-</tspan></text>
<text x="445.00" y="255.60" font-size="12.6" text-anchor="start" font-style="italic" fill="#111" >syk<tspan font-size="7.4" dy="-4.9">f/-</tspan><tspan dy="4.9">cre</tspan><tspan font-size="7.4" dy="-4.9">Tg/+</tspan></text>
<text x="445.00" y="269.00" font-size="12.6" text-anchor="start" font-style="italic" fill="#111" >syk<tspan font-size="7.4" dy="-4.9">KO</tspan></text>
<text x="2.30" y="294.60" font-size="17" text-anchor="start" font-weight="bold" fill="#000" >C</text>
<text x="51.00" y="294.30" font-size="15" text-anchor="start" font-style="italic" fill="#111" >S. aureus</text>
<line x1="29.60" y1="315.30" x2="29.60" y2="434.80" stroke="#1a1a1a" stroke-width="1"/>
<line x1="29.10" y1="434.30" x2="69.00" y2="434.30" stroke="#1a1a1a" stroke-width="1"/>
<line x1="26.30" y1="315.80" x2="29.60" y2="315.80" stroke="#1a1a1a" stroke-width="0.9"/>
<text x="26.00" y="319.00" font-size="8.3" text-anchor="end" fill="#111" >10<tspan font-size="5.3" dy="-3.3">8</tspan></text>
<line x1="28.10" y1="343.41" x2="29.60" y2="343.41" stroke="#1a1a1a" stroke-width="0.8"/>
<line x1="28.10" y1="336.45" x2="29.60" y2="336.45" stroke="#1a1a1a" stroke-width="0.8"/>
<line x1="28.10" y1="331.52" x2="29.60" y2="331.52" stroke="#1a1a1a" stroke-width="0.8"/>
<line x1="28.10" y1="327.69" x2="29.60" y2="327.69" stroke="#1a1a1a" stroke-width="0.8"/>
<line x1="28.10" y1="324.56" x2="29.60" y2="324.56" stroke="#1a1a1a" stroke-width="0.8"/>
<line x1="28.10" y1="321.92" x2="29.60" y2="321.92" stroke="#1a1a1a" stroke-width="0.8"/>
<line x1="28.10" y1="319.63" x2="29.60" y2="319.63" stroke="#1a1a1a" stroke-width="0.8"/>
<line x1="28.10" y1="317.61" x2="29.60" y2="317.61" stroke="#1a1a1a" stroke-width="0.8"/>
<line x1="26.30" y1="355.30" x2="29.60" y2="355.30" stroke="#1a1a1a" stroke-width="0.9"/>
<text x="26.00" y="358.50" font-size="8.3" text-anchor="end" fill="#111" >10<tspan font-size="5.3" dy="-3.3">7</tspan></text>
<line x1="28.10" y1="382.91" x2="29.60" y2="382.91" stroke="#1a1a1a" stroke-width="0.8"/>
<line x1="28.10" y1="375.95" x2="29.60" y2="375.95" stroke="#1a1a1a" stroke-width="0.8"/>
<line x1="28.10" y1="371.02" x2="29.60" y2="371.02" stroke="#1a1a1a" stroke-width="0.8"/>
<line x1="28.10" y1="367.19" x2="29.60" y2="367.19" stroke="#1a1a1a" stroke-width="0.8"/>
<line x1="28.10" y1="364.06" x2="29.60" y2="364.06" stroke="#1a1a1a" stroke-width="0.8"/>
<line x1="28.10" y1="361.42" x2="29.60" y2="361.42" stroke="#1a1a1a" stroke-width="0.8"/>
<line x1="28.10" y1="359.13" x2="29.60" y2="359.13" stroke="#1a1a1a" stroke-width="0.8"/>
<line x1="28.10" y1="357.11" x2="29.60" y2="357.11" stroke="#1a1a1a" stroke-width="0.8"/>
<line x1="26.30" y1="394.80" x2="29.60" y2="394.80" stroke="#1a1a1a" stroke-width="0.9"/>
<text x="26.00" y="398.00" font-size="8.3" text-anchor="end" fill="#111" >10<tspan font-size="5.3" dy="-3.3">6</tspan></text>
<line x1="28.10" y1="422.41" x2="29.60" y2="422.41" stroke="#1a1a1a" stroke-width="0.8"/>
<line x1="28.10" y1="415.45" x2="29.60" y2="415.45" stroke="#1a1a1a" stroke-width="0.8"/>
<line x1="28.10" y1="410.52" x2="29.60" y2="410.52" stroke="#1a1a1a" stroke-width="0.8"/>
<line x1="28.10" y1="406.69" x2="29.60" y2="406.69" stroke="#1a1a1a" stroke-width="0.8"/>
<line x1="28.10" y1="403.56" x2="29.60" y2="403.56" stroke="#1a1a1a" stroke-width="0.8"/>
<line x1="28.10" y1="400.92" x2="29.60" y2="400.92" stroke="#1a1a1a" stroke-width="0.8"/>
<line x1="28.10" y1="398.63" x2="29.60" y2="398.63" stroke="#1a1a1a" stroke-width="0.8"/>
<line x1="28.10" y1="396.61" x2="29.60" y2="396.61" stroke="#1a1a1a" stroke-width="0.8"/>
<line x1="26.30" y1="434.30" x2="29.60" y2="434.30" stroke="#1a1a1a" stroke-width="0.9"/>
<text x="26.00" y="437.50" font-size="8.3" text-anchor="end" fill="#111" >10<tspan font-size="5.3" dy="-3.3">5</tspan></text>
<text x="11.40" y="373.00" font-size="13.3" text-anchor="middle" transform="rotate(-90 11.40 373.00)" fill="#111" >Lavage CFU/mL</text>
<rect x="38.05" y="372.85" width="3.90" height="3.90" fill="#fff" fill-opacity="0" stroke="#1a1a1a" stroke-width="1.05"/>
<rect x="38.05" y="379.95" width="3.90" height="3.90" fill="#fff" fill-opacity="0" stroke="#1a1a1a" stroke-width="1.05"/>
<rect x="38.05" y="386.65" width="3.90" height="3.90" fill="#fff" fill-opacity="0" stroke="#1a1a1a" stroke-width="1.05"/>
<rect x="38.05" y="401.05" width="3.90" height="3.90" fill="#fff" fill-opacity="0" stroke="#1a1a1a" stroke-width="1.05"/>
<rect x="38.05" y="407.55" width="3.90" height="3.90" fill="#fff" fill-opacity="0" stroke="#1a1a1a" stroke-width="1.05"/>
<line x1="33.40" y1="387.30" x2="46.40" y2="387.30" stroke="#1a1a1a" stroke-width="1"/>
<path d="M59.70,349.61 L61.80,353.59 L57.60,353.59 Z" fill="#0a0a0a"/>
<path d="M59.70,359.31 L61.80,363.29 L57.60,363.29 Z" fill="#0a0a0a"/>
<path d="M59.70,370.11 L61.80,374.09 L57.60,374.09 Z" fill="#0a0a0a"/>
<path d="M63.00,374.41 L65.10,378.39 L60.90,378.39 Z" fill="#0a0a0a"/>
<path d="M59.70,377.61 L61.80,381.59 L57.60,381.59 Z" fill="#0a0a0a"/>
<line x1="52.80" y1="364.20" x2="66.80" y2="364.20" stroke="#1a1a1a" stroke-width="1"/>
<path d="M34.60,321.80 L34.60,318.60 L67.70,318.60 L67.70,321.80" fill="none" stroke="#1a1a1a" stroke-width="1.4"/>
<text x="51.00" y="315.88" font-size="14" text-anchor="middle" font-weight="bold" fill="#000" >*</text>
<text x="42.50" y="446.80" font-size="13" text-anchor="end" transform="rotate(-45 42.50 446.80)" fill="#111" >f/+ LysM</text>
<text x="63.30" y="446.80" font-size="13" text-anchor="end" transform="rotate(-45 63.30 446.80)" fill="#111" >f/- LysM</text>
<line x1="114.40" y1="316.10" x2="114.40" y2="436.10" stroke="#1a1a1a" stroke-width="1"/>
<line x1="113.90" y1="435.60" x2="154.40" y2="435.60" stroke="#1a1a1a" stroke-width="1"/>
<line x1="111.40" y1="316.60" x2="114.40" y2="316.60" stroke="#1a1a1a" stroke-width="0.9"/>
<text x="111.80" y="319.62" font-size="8.4" text-anchor="end" fill="#111" >15</text>
<line x1="111.40" y1="356.27" x2="114.40" y2="356.27" stroke="#1a1a1a" stroke-width="0.9"/>
<text x="111.80" y="359.29" font-size="8.4" text-anchor="end" fill="#111" >10</text>
<line x1="111.40" y1="395.93" x2="114.40" y2="395.93" stroke="#1a1a1a" stroke-width="0.9"/>
<text x="111.80" y="398.96" font-size="8.4" text-anchor="end" fill="#111" >5</text>
<line x1="111.40" y1="435.60" x2="114.40" y2="435.60" stroke="#1a1a1a" stroke-width="0.9"/>
<text x="111.80" y="438.62" font-size="8.4" text-anchor="end" fill="#111" >0</text>
<text x="96.60" y="373.80" font-size="13.3" text-anchor="middle" transform="rotate(-90 96.60 373.80)" fill="#111" >Total Cell Infiltrate (x10<tspan font-size="9.3" dy="-7.0">6</tspan><tspan dy="7.0">)</tspan></text>
<rect x="122.65" y="350.45" width="3.90" height="3.90" fill="#fff" fill-opacity="0" stroke="#1a1a1a" stroke-width="1.05"/>
<rect x="125.85" y="357.35" width="3.90" height="3.90" fill="#fff" fill-opacity="0" stroke="#1a1a1a" stroke-width="1.05"/>
<rect x="122.65" y="362.05" width="3.90" height="3.90" fill="#fff" fill-opacity="0" stroke="#1a1a1a" stroke-width="1.05"/>
<rect x="122.65" y="369.85" width="3.90" height="3.90" fill="#fff" fill-opacity="0" stroke="#1a1a1a" stroke-width="1.05"/>
<rect x="122.65" y="386.05" width="3.90" height="3.90" fill="#fff" fill-opacity="0" stroke="#1a1a1a" stroke-width="1.05"/>
<line x1="118.40" y1="367.50" x2="131.70" y2="367.50" stroke="#1a1a1a" stroke-width="1"/>
<path d="M144.00,331.31 L146.10,335.29 L141.90,335.29 Z" fill="#0a0a0a"/>
<path d="M141.40,339.31 L143.50,343.29 L139.30,343.29 Z" fill="#0a0a0a"/>
<path d="M147.20,343.21 L149.30,347.19 L145.10,347.19 Z" fill="#0a0a0a"/>
<path d="M144.00,344.21 L146.10,348.19 L141.90,348.19 Z" fill="#0a0a0a"/>
<line x1="137.80" y1="336.60" x2="151.00" y2="336.60" stroke="#1a1a1a" stroke-width="1"/>
<path d="M119.30,321.80 L119.30,318.60 L152.30,318.60 L152.30,321.80" fill="none" stroke="#1a1a1a" stroke-width="1.4"/>
<text x="136.00" y="315.88" font-size="14" text-anchor="middle" font-weight="bold" fill="#000" >*</text>
<text x="128.30" y="446.80" font-size="13" text-anchor="end" transform="rotate(-45 128.30 446.80)" fill="#111" >f/+ LysM</text>
<text x="148.60" y="446.80" font-size="13" text-anchor="end" transform="rotate(-45 148.60 446.80)" fill="#111" >f/- LysM</text>
<text x="168.40" y="295.80" font-size="17.2" text-anchor="start" font-weight="bold" fill="#000" >D</text>
<text x="226.40" y="294.30" font-size="15" text-anchor="start" font-style="italic" fill="#111" >E. coli</text>
<line x1="199.80" y1="316.20" x2="199.80" y2="435.80" stroke="#1a1a1a" stroke-width="1"/>
<line x1="199.30" y1="435.30" x2="243.00" y2="435.30" stroke="#1a1a1a" stroke-width="1"/>
<line x1="196.50" y1="316.70" x2="199.80" y2="316.70" stroke="#1a1a1a" stroke-width="0.9"/>
<text x="196.20" y="319.90" font-size="9.6" text-anchor="end" fill="#111" >10<tspan font-size="6.1" dy="-3.3">7</tspan></text>
<line x1="198.30" y1="337.42" x2="199.80" y2="337.42" stroke="#1a1a1a" stroke-width="0.8"/>
<line x1="198.30" y1="332.20" x2="199.80" y2="332.20" stroke="#1a1a1a" stroke-width="0.8"/>
<line x1="198.30" y1="328.50" x2="199.80" y2="328.50" stroke="#1a1a1a" stroke-width="0.8"/>
<line x1="198.30" y1="325.63" x2="199.80" y2="325.63" stroke="#1a1a1a" stroke-width="0.8"/>
<line x1="198.30" y1="323.28" x2="199.80" y2="323.28" stroke="#1a1a1a" stroke-width="0.8"/>
<line x1="198.30" y1="321.29" x2="199.80" y2="321.29" stroke="#1a1a1a" stroke-width="0.8"/>
<line x1="198.30" y1="319.57" x2="199.80" y2="319.57" stroke="#1a1a1a" stroke-width="0.8"/>
<line x1="198.30" y1="318.06" x2="199.80" y2="318.06" stroke="#1a1a1a" stroke-width="0.8"/>
<line x1="196.50" y1="346.35" x2="199.80" y2="346.35" stroke="#1a1a1a" stroke-width="0.9"/>
<text x="196.20" y="349.55" font-size="9.6" text-anchor="end" fill="#111" >10<tspan font-size="6.1" dy="-3.3">6</tspan></text>
<line x1="198.30" y1="367.07" x2="199.80" y2="367.07" stroke="#1a1a1a" stroke-width="0.8"/>
<line x1="198.30" y1="361.85" x2="199.80" y2="361.85" stroke="#1a1a1a" stroke-width="0.8"/>
<line x1="198.30" y1="358.15" x2="199.80" y2="358.15" stroke="#1a1a1a" stroke-width="0.8"/>
<line x1="198.30" y1="355.28" x2="199.80" y2="355.28" stroke="#1a1a1a" stroke-width="0.8"/>
<line x1="198.30" y1="352.93" x2="199.80" y2="352.93" stroke="#1a1a1a" stroke-width="0.8"/>
<line x1="198.30" y1="350.94" x2="199.80" y2="350.94" stroke="#1a1a1a" stroke-width="0.8"/>
<line x1="198.30" y1="349.22" x2="199.80" y2="349.22" stroke="#1a1a1a" stroke-width="0.8"/>
<line x1="198.30" y1="347.71" x2="199.80" y2="347.71" stroke="#1a1a1a" stroke-width="0.8"/>
<line x1="196.50" y1="376.00" x2="199.80" y2="376.00" stroke="#1a1a1a" stroke-width="0.9"/>
<text x="196.20" y="379.20" font-size="9.6" text-anchor="end" fill="#111" >10<tspan font-size="6.1" dy="-3.3">5</tspan></text>
<line x1="198.30" y1="396.72" x2="199.80" y2="396.72" stroke="#1a1a1a" stroke-width="0.8"/>
<line x1="198.30" y1="391.50" x2="199.80" y2="391.50" stroke="#1a1a1a" stroke-width="0.8"/>
<line x1="198.30" y1="387.80" x2="199.80" y2="387.80" stroke="#1a1a1a" stroke-width="0.8"/>
<line x1="198.30" y1="384.93" x2="199.80" y2="384.93" stroke="#1a1a1a" stroke-width="0.8"/>
<line x1="198.30" y1="382.58" x2="199.80" y2="382.58" stroke="#1a1a1a" stroke-width="0.8"/>
<line x1="198.30" y1="380.59" x2="199.80" y2="380.59" stroke="#1a1a1a" stroke-width="0.8"/>
<line x1="198.30" y1="378.87" x2="199.80" y2="378.87" stroke="#1a1a1a" stroke-width="0.8"/>
<line x1="198.30" y1="377.36" x2="199.80" y2="377.36" stroke="#1a1a1a" stroke-width="0.8"/>
<line x1="196.50" y1="405.65" x2="199.80" y2="405.65" stroke="#1a1a1a" stroke-width="0.9"/>
<text x="196.20" y="408.85" font-size="9.6" text-anchor="end" fill="#111" >10<tspan font-size="6.1" dy="-3.3">4</tspan></text>
<line x1="198.30" y1="426.37" x2="199.80" y2="426.37" stroke="#1a1a1a" stroke-width="0.8"/>
<line x1="198.30" y1="421.15" x2="199.80" y2="421.15" stroke="#1a1a1a" stroke-width="0.8"/>
<line x1="198.30" y1="417.45" x2="199.80" y2="417.45" stroke="#1a1a1a" stroke-width="0.8"/>
<line x1="198.30" y1="414.58" x2="199.80" y2="414.58" stroke="#1a1a1a" stroke-width="0.8"/>
<line x1="198.30" y1="412.23" x2="199.80" y2="412.23" stroke="#1a1a1a" stroke-width="0.8"/>
<line x1="198.30" y1="410.24" x2="199.80" y2="410.24" stroke="#1a1a1a" stroke-width="0.8"/>
<line x1="198.30" y1="408.52" x2="199.80" y2="408.52" stroke="#1a1a1a" stroke-width="0.8"/>
<line x1="198.30" y1="407.01" x2="199.80" y2="407.01" stroke="#1a1a1a" stroke-width="0.8"/>
<line x1="196.50" y1="435.30" x2="199.80" y2="435.30" stroke="#1a1a1a" stroke-width="0.9"/>
<text x="196.20" y="438.50" font-size="9.6" text-anchor="end" fill="#111" >10<tspan font-size="6.1" dy="-3.3">3</tspan></text>
<text x="177.20" y="373.30" font-size="13.3" text-anchor="middle" transform="rotate(-90 177.20 373.30)" fill="#111" >Lavage CFU/mL</text>
<rect x="208.05" y="372.25" width="3.90" height="3.90" fill="#fff" fill-opacity="0" stroke="#1a1a1a" stroke-width="1.05"/>
<rect x="208.05" y="383.65" width="3.90" height="3.90" fill="#fff" fill-opacity="0" stroke="#1a1a1a" stroke-width="1.05"/>
<rect x="208.05" y="392.95" width="3.90" height="3.90" fill="#fff" fill-opacity="0" stroke="#1a1a1a" stroke-width="1.05"/>
<rect x="208.05" y="402.65" width="3.90" height="3.90" fill="#fff" fill-opacity="0" stroke="#1a1a1a" stroke-width="1.05"/>
<line x1="203.00" y1="385.60" x2="217.00" y2="385.60" stroke="#1a1a1a" stroke-width="1"/>
<path d="M229.40,332.41 L231.50,336.39 L227.30,336.39 Z" fill="#0a0a0a"/>
<path d="M229.40,357.61 L231.50,361.59 L227.30,361.59 Z" fill="#0a0a0a"/>
<path d="M229.40,379.91 L231.50,383.89 L227.30,383.89 Z" fill="#0a0a0a"/>
<path d="M229.40,393.91 L231.50,397.89 L227.30,397.89 Z" fill="#0a0a0a"/>
<path d="M229.40,403.51 L231.50,407.49 L227.30,407.49 Z" fill="#0a0a0a"/>
<line x1="222.50" y1="352.80" x2="236.50" y2="352.80" stroke="#1a1a1a" stroke-width="1"/>
<text x="214.30" y="449.60" font-size="13.3" text-anchor="end" transform="rotate(-45 214.30 449.60)" fill="#111" >f/+ LysM</text>
<text x="233.80" y="449.60" font-size="13.3" text-anchor="end" transform="rotate(-45 233.80 449.60)" fill="#111" >f/- LysM</text>
<line x1="281.40" y1="316.40" x2="281.40" y2="436.10" stroke="#1a1a1a" stroke-width="1"/>
<line x1="280.90" y1="435.60" x2="320.60" y2="435.60" stroke="#1a1a1a" stroke-width="1"/>
<line x1="278.40" y1="316.90" x2="281.40" y2="316.90" stroke="#1a1a1a" stroke-width="0.9"/>
<text x="278.40" y="320.36" font-size="9.6" text-anchor="end" fill="#111" >20</text>
<line x1="278.40" y1="346.57" x2="281.40" y2="346.57" stroke="#1a1a1a" stroke-width="0.9"/>
<text x="278.40" y="350.03" font-size="9.6" text-anchor="end" fill="#111" >15</text>
<line x1="278.40" y1="376.25" x2="281.40" y2="376.25" stroke="#1a1a1a" stroke-width="0.9"/>
<text x="278.40" y="379.71" font-size="9.6" text-anchor="end" fill="#111" >10</text>
<line x1="278.40" y1="405.93" x2="281.40" y2="405.93" stroke="#1a1a1a" stroke-width="0.9"/>
<text x="278.40" y="409.38" font-size="9.6" text-anchor="end" fill="#111" >5</text>
<line x1="278.40" y1="435.60" x2="281.40" y2="435.60" stroke="#1a1a1a" stroke-width="0.9"/>
<text x="278.40" y="439.06" font-size="9.6" text-anchor="end" fill="#111" >0</text>
<text x="262.20" y="373.50" font-size="13.3" text-anchor="middle" transform="rotate(-90 262.20 373.50)" fill="#111" >Total Cell Infiltrate (x10<tspan font-size="9.3" dy="-7.0">6</tspan><tspan dy="7.0">)</tspan></text>
<rect x="292.15" y="364.05" width="3.90" height="3.90" fill="#fff" fill-opacity="0" stroke="#1a1a1a" stroke-width="1.05"/>
<rect x="289.25" y="366.25" width="3.90" height="3.90" fill="#fff" fill-opacity="0" stroke="#1a1a1a" stroke-width="1.05"/>
<rect x="289.25" y="396.85" width="3.90" height="3.90" fill="#fff" fill-opacity="0" stroke="#1a1a1a" stroke-width="1.05"/>
<rect x="292.05" y="398.35" width="3.90" height="3.90" fill="#fff" fill-opacity="0" stroke="#1a1a1a" stroke-width="1.05"/>
<rect x="289.25" y="404.05" width="3.90" height="3.90" fill="#fff" fill-opacity="0" stroke="#1a1a1a" stroke-width="1.05"/>
<line x1="284.80" y1="387.80" x2="297.80" y2="387.80" stroke="#1a1a1a" stroke-width="1"/>
<path d="M310.80,377.21 L312.90,381.19 L308.70,381.19 Z" fill="#0a0a0a"/>
<path d="M313.70,395.01 L315.80,398.99 L311.60,398.99 Z" fill="#0a0a0a"/>
<path d="M310.80,397.31 L312.90,401.29 L308.70,401.29 Z" fill="#0a0a0a"/>
<path d="M304.80,401.51 L306.90,405.49 L302.70,405.49 Z" fill="#0a0a0a"/>
<path d="M310.80,407.01 L312.90,410.99 L308.70,410.99 Z" fill="#0a0a0a"/>
<path d="M310.80,415.01 L312.90,418.99 L308.70,418.99 Z" fill="#0a0a0a"/>
<line x1="304.70" y1="400.30" x2="317.60" y2="400.30" stroke="#1a1a1a" stroke-width="1"/>
<text x="294.30" y="449.60" font-size="13.3" text-anchor="end" transform="rotate(-45 294.30 449.60)" fill="#111" >f/+ LysM</text>
<text x="314.00" y="449.60" font-size="13.3" text-anchor="end" transform="rotate(-45 314.00 449.60)" fill="#111" >f/- LysM</text>
<text x="331.20" y="294.10" font-size="17.2" text-anchor="start" font-weight="bold" fill="#000" >E</text>
<text x="400.50" y="294.30" font-size="15" text-anchor="start" font-style="italic" fill="#111" >S. aureus</text>
<line x1="361.30" y1="312.50" x2="361.30" y2="432.20" stroke="#1a1a1a" stroke-width="1"/>
<line x1="360.80" y1="431.70" x2="421.00" y2="431.70" stroke="#1a1a1a" stroke-width="1"/>
<line x1="358.00" y1="313.00" x2="361.30" y2="313.00" stroke="#1a1a1a" stroke-width="0.9"/>
<text x="357.70" y="316.20" font-size="8.3" text-anchor="end" fill="#111" >10<tspan font-size="5.3" dy="-3.3">7</tspan></text>
<line x1="359.80" y1="333.74" x2="361.30" y2="333.74" stroke="#1a1a1a" stroke-width="0.8"/>
<line x1="359.80" y1="328.52" x2="361.30" y2="328.52" stroke="#1a1a1a" stroke-width="0.8"/>
<line x1="359.80" y1="324.81" x2="361.30" y2="324.81" stroke="#1a1a1a" stroke-width="0.8"/>
<line x1="359.80" y1="321.93" x2="361.30" y2="321.93" stroke="#1a1a1a" stroke-width="0.8"/>
<line x1="359.80" y1="319.58" x2="361.30" y2="319.58" stroke="#1a1a1a" stroke-width="0.8"/>
<line x1="359.80" y1="317.60" x2="361.30" y2="317.60" stroke="#1a1a1a" stroke-width="0.8"/>
<line x1="359.80" y1="315.88" x2="361.30" y2="315.88" stroke="#1a1a1a" stroke-width="0.8"/>
<line x1="359.80" y1="314.36" x2="361.30" y2="314.36" stroke="#1a1a1a" stroke-width="0.8"/>
<line x1="358.00" y1="342.68" x2="361.30" y2="342.68" stroke="#1a1a1a" stroke-width="0.9"/>
<text x="357.70" y="345.88" font-size="8.3" text-anchor="end" fill="#111" >10<tspan font-size="5.3" dy="-3.3">6</tspan></text>
<line x1="359.80" y1="363.42" x2="361.30" y2="363.42" stroke="#1a1a1a" stroke-width="0.8"/>
<line x1="359.80" y1="358.19" x2="361.30" y2="358.19" stroke="#1a1a1a" stroke-width="0.8"/>
<line x1="359.80" y1="354.48" x2="361.30" y2="354.48" stroke="#1a1a1a" stroke-width="0.8"/>
<line x1="359.80" y1="351.61" x2="361.30" y2="351.61" stroke="#1a1a1a" stroke-width="0.8"/>
<line x1="359.80" y1="349.26" x2="361.30" y2="349.26" stroke="#1a1a1a" stroke-width="0.8"/>
<line x1="359.80" y1="347.27" x2="361.30" y2="347.27" stroke="#1a1a1a" stroke-width="0.8"/>
<line x1="359.80" y1="345.55" x2="361.30" y2="345.55" stroke="#1a1a1a" stroke-width="0.8"/>
<line x1="359.80" y1="344.03" x2="361.30" y2="344.03" stroke="#1a1a1a" stroke-width="0.8"/>
<line x1="358.00" y1="372.35" x2="361.30" y2="372.35" stroke="#1a1a1a" stroke-width="0.9"/>
<text x="357.70" y="375.55" font-size="8.3" text-anchor="end" fill="#111" >10<tspan font-size="5.3" dy="-3.3">5</tspan></text>
<line x1="359.80" y1="393.09" x2="361.30" y2="393.09" stroke="#1a1a1a" stroke-width="0.8"/>
<line x1="359.80" y1="387.87" x2="361.30" y2="387.87" stroke="#1a1a1a" stroke-width="0.8"/>
<line x1="359.80" y1="384.16" x2="361.30" y2="384.16" stroke="#1a1a1a" stroke-width="0.8"/>
<line x1="359.80" y1="381.28" x2="361.30" y2="381.28" stroke="#1a1a1a" stroke-width="0.8"/>
<line x1="359.80" y1="378.93" x2="361.30" y2="378.93" stroke="#1a1a1a" stroke-width="0.8"/>
<line x1="359.80" y1="376.95" x2="361.30" y2="376.95" stroke="#1a1a1a" stroke-width="0.8"/>
<line x1="359.80" y1="375.23" x2="361.30" y2="375.23" stroke="#1a1a1a" stroke-width="0.8"/>
<line x1="359.80" y1="373.71" x2="361.30" y2="373.71" stroke="#1a1a1a" stroke-width="0.8"/>
<line x1="358.00" y1="402.02" x2="361.30" y2="402.02" stroke="#1a1a1a" stroke-width="0.9"/>
<text x="357.70" y="405.22" font-size="8.3" text-anchor="end" fill="#111" >10<tspan font-size="5.3" dy="-3.3">4</tspan></text>
<line x1="359.80" y1="422.77" x2="361.30" y2="422.77" stroke="#1a1a1a" stroke-width="0.8"/>
<line x1="359.80" y1="417.54" x2="361.30" y2="417.54" stroke="#1a1a1a" stroke-width="0.8"/>
<line x1="359.80" y1="413.83" x2="361.30" y2="413.83" stroke="#1a1a1a" stroke-width="0.8"/>
<line x1="359.80" y1="410.96" x2="361.30" y2="410.96" stroke="#1a1a1a" stroke-width="0.8"/>
<line x1="359.80" y1="408.61" x2="361.30" y2="408.61" stroke="#1a1a1a" stroke-width="0.8"/>
<line x1="359.80" y1="406.62" x2="361.30" y2="406.62" stroke="#1a1a1a" stroke-width="0.8"/>
<line x1="359.80" y1="404.90" x2="361.30" y2="404.90" stroke="#1a1a1a" stroke-width="0.8"/>
<line x1="359.80" y1="403.38" x2="361.30" y2="403.38" stroke="#1a1a1a" stroke-width="0.8"/>
<line x1="358.00" y1="431.70" x2="361.30" y2="431.70" stroke="#1a1a1a" stroke-width="0.9"/>
<text x="357.70" y="434.90" font-size="8.3" text-anchor="end" fill="#111" >10<tspan font-size="5.3" dy="-3.3">3</tspan></text>
<text x="342.80" y="371.00" font-size="12.9" text-anchor="middle" transform="rotate(-90 342.80 371.00)" fill="#111" >Lavage CFU/mL</text>
<rect x="369.75" y="357.85" width="3.90" height="3.90" fill="#fff" fill-opacity="0" stroke="#1a1a1a" stroke-width="1.05"/>
<rect x="364.05" y="370.45" width="3.90" height="3.90" fill="#fff" fill-opacity="0" stroke="#1a1a1a" stroke-width="1.05"/>
<rect x="369.75" y="376.25" width="3.90" height="3.90" fill="#fff" fill-opacity="0" stroke="#1a1a1a" stroke-width="1.05"/>
<rect x="369.75" y="404.95" width="3.90" height="3.90" fill="#fff" fill-opacity="0" stroke="#1a1a1a" stroke-width="1.05"/>
<line x1="366.50" y1="371.50" x2="377.00" y2="371.50" stroke="#1a1a1a" stroke-width="1"/>
<rect x="389.75" y="341.25" width="3.90" height="3.90" fill="#fff" fill-opacity="0" stroke="#1a1a1a" stroke-width="1.05"/>
<rect x="389.75" y="363.55" width="3.90" height="3.90" fill="#fff" fill-opacity="0" stroke="#1a1a1a" stroke-width="1.05"/>
<rect x="389.75" y="382.15" width="3.90" height="3.90" fill="#fff" fill-opacity="0" stroke="#1a1a1a" stroke-width="1.05"/>
<line x1="386.50" y1="355.20" x2="396.80" y2="355.20" stroke="#1a1a1a" stroke-width="1"/>
<path d="M411.20,320.01 L413.30,323.99 L409.10,323.99 Z" fill="#0a0a0a"/>
<path d="M405.20,342.71 L407.30,346.69 L403.10,346.69 Z" fill="#0a0a0a"/>
<path d="M414.10,342.41 L416.20,346.39 L412.00,346.39 Z" fill="#0a0a0a"/>
<path d="M411.10,346.71 L413.20,350.69 L409.00,350.69 Z" fill="#0a0a0a"/>
<path d="M408.20,349.71 L410.30,353.69 L406.10,353.69 Z" fill="#0a0a0a"/>
<path d="M414.10,350.11 L416.20,354.09 L412.00,354.09 Z" fill="#0a0a0a"/>
<path d="M411.10,353.11 L413.20,357.09 L409.00,357.09 Z" fill="#0a0a0a"/>
<line x1="406.40" y1="340.00" x2="415.90" y2="340.00" stroke="#1a1a1a" stroke-width="1"/>
<path d="M365.40,321.80 L365.40,318.60 L397.30,318.60 L397.30,321.80" fill="none" stroke="#1a1a1a" stroke-width="1.4"/>
<path d="M382.7,318.6 L382.7,315.5 L415.4,315.5 L415.4,318.8" fill="none" stroke="#1a1a1a" stroke-width="1.4"/>
<text x="398.80" y="312.78" font-size="14" text-anchor="middle" font-weight="bold" fill="#000" >*</text>
<text x="375.70" y="441.60" font-size="12.7" text-anchor="end" transform="rotate(-45 375.70 441.60)" fill="#111" >f/-</text>
<text x="394.30" y="441.80" font-size="12.7" text-anchor="end" transform="rotate(-45 394.30 441.80)" fill="#111" >f/f</text>
<text x="414.70" y="443.30" font-size="12.7" text-anchor="end" transform="rotate(-45 414.70 443.30)" fill="#111" >f/- Mrp8</text>
<line x1="459.80" y1="312.10" x2="459.80" y2="432.30" stroke="#1a1a1a" stroke-width="1"/>
<line x1="459.30" y1="431.80" x2="516.60" y2="431.80" stroke="#1a1a1a" stroke-width="1"/>
<line x1="456.80" y1="312.60" x2="459.80" y2="312.60" stroke="#1a1a1a" stroke-width="0.9"/>
<text x="456.70" y="315.55" font-size="8.2" text-anchor="end" fill="#111" >15</text>
<line x1="456.80" y1="352.33" x2="459.80" y2="352.33" stroke="#1a1a1a" stroke-width="0.9"/>
<text x="456.70" y="355.29" font-size="8.2" text-anchor="end" fill="#111" >10</text>
<line x1="456.80" y1="392.07" x2="459.80" y2="392.07" stroke="#1a1a1a" stroke-width="0.9"/>
<text x="456.70" y="395.02" font-size="8.2" text-anchor="end" fill="#111" >5</text>
<line x1="456.80" y1="431.80" x2="459.80" y2="431.80" stroke="#1a1a1a" stroke-width="0.9"/>
<text x="456.70" y="434.75" font-size="8.2" text-anchor="end" fill="#111" >0</text>
<text x="441.90" y="369.50" font-size="13.3" text-anchor="middle" transform="rotate(-90 441.90 369.50)" fill="#111" >Total Cell Infiltrate (x10<tspan font-size="9.3" dy="-7.0">6</tspan><tspan dy="7.0">)</tspan></text>
<rect x="468.45" y="316.85" width="3.90" height="3.90" fill="#fff" fill-opacity="0" stroke="#1a1a1a" stroke-width="1.05"/>
<rect x="468.45" y="328.55" width="3.90" height="3.90" fill="#fff" fill-opacity="0" stroke="#1a1a1a" stroke-width="1.05"/>
<rect x="468.45" y="347.75" width="3.90" height="3.90" fill="#fff" fill-opacity="0" stroke="#1a1a1a" stroke-width="1.05"/>
<line x1="465.20" y1="333.30" x2="475.70" y2="333.30" stroke="#1a1a1a" stroke-width="1"/>
<rect x="487.85" y="327.45" width="3.90" height="3.90" fill="#fff" fill-opacity="0" stroke="#1a1a1a" stroke-width="1.05"/>
<rect x="487.85" y="358.55" width="3.90" height="3.90" fill="#fff" fill-opacity="0" stroke="#1a1a1a" stroke-width="1.05"/>
<rect x="487.85" y="366.05" width="3.90" height="3.90" fill="#fff" fill-opacity="0" stroke="#1a1a1a" stroke-width="1.05"/>
<line x1="484.70" y1="353.00" x2="495.00" y2="353.00" stroke="#1a1a1a" stroke-width="1"/>
<path d="M512.80,336.51 L514.90,340.49 L510.70,340.49 Z" fill="#0a0a0a"/>
<path d="M509.30,342.91 L511.40,346.89 L507.20,346.89 Z" fill="#0a0a0a"/>
<path d="M503.60,349.21 L505.70,353.19 L501.50,353.19 Z" fill="#0a0a0a"/>
<path d="M510.00,354.91 L512.10,358.89 L507.90,358.89 Z" fill="#0a0a0a"/>
<path d="M512.80,362.91 L514.90,366.89 L510.70,366.89 Z" fill="#0a0a0a"/>
<path d="M509.30,366.41 L511.40,370.39 L507.20,370.39 Z" fill="#0a0a0a"/>
<path d="M509.30,373.91 L511.40,377.89 L507.20,377.89 Z" fill="#0a0a0a"/>
<path d="M509.30,385.51 L511.40,389.49 L507.20,389.49 Z" fill="#0a0a0a"/>
<line x1="504.70" y1="360.50" x2="514.60" y2="360.50" stroke="#1a1a1a" stroke-width="1"/>
<text x="474.30" y="441.50" font-size="12.7" text-anchor="end" transform="rotate(-45 474.30 441.50)" fill="#111" >f/-</text>
<text x="494.00" y="442.00" font-size="12.7" text-anchor="end" transform="rotate(-45 494.00 442.00)" fill="#111" >f/f</text>
<text x="514.00" y="443.30" font-size="12.7" text-anchor="end" transform="rotate(-45 514.00 443.30)" fill="#111" >f/- Mrp8</text>
<text x="1.50" y="512.50" font-size="17.2" text-anchor="start" font-weight="bold" fill="#000" >F</text>
<text x="94.30" y="508.00" font-size="15" text-anchor="start" font-style="italic" fill="#111" >E. coli</text>
<line x1="32.40" y1="531.10" x2="32.40" y2="651.10" stroke="#1a1a1a" stroke-width="1"/>
<line x1="31.90" y1="650.60" x2="92.30" y2="650.60" stroke="#1a1a1a" stroke-width="1"/>
<line x1="29.10" y1="531.60" x2="32.40" y2="531.60" stroke="#1a1a1a" stroke-width="0.9"/>
<text x="28.80" y="534.80" font-size="9.2" text-anchor="end" fill="#111" >10<tspan font-size="5.9" dy="-3.3">8</tspan></text>
<line x1="30.90" y1="548.24" x2="32.40" y2="548.24" stroke="#1a1a1a" stroke-width="0.8"/>
<line x1="30.90" y1="544.04" x2="32.40" y2="544.04" stroke="#1a1a1a" stroke-width="0.8"/>
<line x1="30.90" y1="541.07" x2="32.40" y2="541.07" stroke="#1a1a1a" stroke-width="0.8"/>
<line x1="30.90" y1="538.76" x2="32.40" y2="538.76" stroke="#1a1a1a" stroke-width="0.8"/>
<line x1="30.90" y1="536.88" x2="32.40" y2="536.88" stroke="#1a1a1a" stroke-width="0.8"/>
<line x1="30.90" y1="535.29" x2="32.40" y2="535.29" stroke="#1a1a1a" stroke-width="0.8"/>
<line x1="30.90" y1="533.91" x2="32.40" y2="533.91" stroke="#1a1a1a" stroke-width="0.8"/>
<line x1="30.90" y1="532.69" x2="32.40" y2="532.69" stroke="#1a1a1a" stroke-width="0.8"/>
<line x1="29.10" y1="555.40" x2="32.40" y2="555.40" stroke="#1a1a1a" stroke-width="0.9"/>
<text x="28.80" y="558.60" font-size="9.2" text-anchor="end" fill="#111" >10<tspan font-size="5.9" dy="-3.3">7</tspan></text>
<line x1="30.90" y1="572.04" x2="32.40" y2="572.04" stroke="#1a1a1a" stroke-width="0.8"/>
<line x1="30.90" y1="567.84" x2="32.40" y2="567.84" stroke="#1a1a1a" stroke-width="0.8"/>
<line x1="30.90" y1="564.87" x2="32.40" y2="564.87" stroke="#1a1a1a" stroke-width="0.8"/>
<line x1="30.90" y1="562.56" x2="32.40" y2="562.56" stroke="#1a1a1a" stroke-width="0.8"/>
<line x1="30.90" y1="560.68" x2="32.40" y2="560.68" stroke="#1a1a1a" stroke-width="0.8"/>
<line x1="30.90" y1="559.09" x2="32.40" y2="559.09" stroke="#1a1a1a" stroke-width="0.8"/>
<line x1="30.90" y1="557.71" x2="32.40" y2="557.71" stroke="#1a1a1a" stroke-width="0.8"/>
<line x1="30.90" y1="556.49" x2="32.40" y2="556.49" stroke="#1a1a1a" stroke-width="0.8"/>
<line x1="29.10" y1="579.20" x2="32.40" y2="579.20" stroke="#1a1a1a" stroke-width="0.9"/>
<text x="28.80" y="582.40" font-size="9.2" text-anchor="end" fill="#111" >10<tspan font-size="5.9" dy="-3.3">6</tspan></text>
<line x1="30.90" y1="595.84" x2="32.40" y2="595.84" stroke="#1a1a1a" stroke-width="0.8"/>
<line x1="30.90" y1="591.64" x2="32.40" y2="591.64" stroke="#1a1a1a" stroke-width="0.8"/>
<line x1="30.90" y1="588.67" x2="32.40" y2="588.67" stroke="#1a1a1a" stroke-width="0.8"/>
<line x1="30.90" y1="586.36" x2="32.40" y2="586.36" stroke="#1a1a1a" stroke-width="0.8"/>
<line x1="30.90" y1="584.48" x2="32.40" y2="584.48" stroke="#1a1a1a" stroke-width="0.8"/>
<line x1="30.90" y1="582.89" x2="32.40" y2="582.89" stroke="#1a1a1a" stroke-width="0.8"/>
<line x1="30.90" y1="581.51" x2="32.40" y2="581.51" stroke="#1a1a1a" stroke-width="0.8"/>
<line x1="30.90" y1="580.29" x2="32.40" y2="580.29" stroke="#1a1a1a" stroke-width="0.8"/>
<line x1="29.10" y1="603.00" x2="32.40" y2="603.00" stroke="#1a1a1a" stroke-width="0.9"/>
<text x="28.80" y="606.20" font-size="9.2" text-anchor="end" fill="#111" >10<tspan font-size="5.9" dy="-3.3">5</tspan></text>
<line x1="30.90" y1="619.64" x2="32.40" y2="619.64" stroke="#1a1a1a" stroke-width="0.8"/>
<line x1="30.90" y1="615.44" x2="32.40" y2="615.44" stroke="#1a1a1a" stroke-width="0.8"/>
<line x1="30.90" y1="612.47" x2="32.40" y2="612.47" stroke="#1a1a1a" stroke-width="0.8"/>
<line x1="30.90" y1="610.16" x2="32.40" y2="610.16" stroke="#1a1a1a" stroke-width="0.8"/>
<line x1="30.90" y1="608.28" x2="32.40" y2="608.28" stroke="#1a1a1a" stroke-width="0.8"/>
<line x1="30.90" y1="606.69" x2="32.40" y2="606.69" stroke="#1a1a1a" stroke-width="0.8"/>
<line x1="30.90" y1="605.31" x2="32.40" y2="605.31" stroke="#1a1a1a" stroke-width="0.8"/>
<line x1="30.90" y1="604.09" x2="32.40" y2="604.09" stroke="#1a1a1a" stroke-width="0.8"/>
<line x1="29.10" y1="626.80" x2="32.40" y2="626.80" stroke="#1a1a1a" stroke-width="0.9"/>
<text x="28.80" y="630.00" font-size="9.2" text-anchor="end" fill="#111" >10<tspan font-size="5.9" dy="-3.3">4</tspan></text>
<line x1="30.90" y1="643.44" x2="32.40" y2="643.44" stroke="#1a1a1a" stroke-width="0.8"/>
<line x1="30.90" y1="639.24" x2="32.40" y2="639.24" stroke="#1a1a1a" stroke-width="0.8"/>
<line x1="30.90" y1="636.27" x2="32.40" y2="636.27" stroke="#1a1a1a" stroke-width="0.8"/>
<line x1="30.90" y1="633.96" x2="32.40" y2="633.96" stroke="#1a1a1a" stroke-width="0.8"/>
<line x1="30.90" y1="632.08" x2="32.40" y2="632.08" stroke="#1a1a1a" stroke-width="0.8"/>
<line x1="30.90" y1="630.49" x2="32.40" y2="630.49" stroke="#1a1a1a" stroke-width="0.8"/>
<line x1="30.90" y1="629.11" x2="32.40" y2="629.11" stroke="#1a1a1a" stroke-width="0.8"/>
<line x1="30.90" y1="627.89" x2="32.40" y2="627.89" stroke="#1a1a1a" stroke-width="0.8"/>
<line x1="29.10" y1="650.60" x2="32.40" y2="650.60" stroke="#1a1a1a" stroke-width="0.9"/>
<text x="28.80" y="653.80" font-size="9.2" text-anchor="end" fill="#111" >10<tspan font-size="5.9" dy="-3.3">3</tspan></text>
<text x="10.50" y="588.50" font-size="12.9" text-anchor="middle" transform="rotate(-90 10.50 588.50)" fill="#111" >Lavage CFU/mL</text>
<rect x="41.05" y="554.75" width="3.90" height="3.90" fill="#fff" fill-opacity="0" stroke="#1a1a1a" stroke-width="1.05"/>
<rect x="44.05" y="600.05" width="3.90" height="3.90" fill="#fff" fill-opacity="0" stroke="#1a1a1a" stroke-width="1.05"/>
<rect x="40.55" y="603.05" width="3.90" height="3.90" fill="#fff" fill-opacity="0" stroke="#1a1a1a" stroke-width="1.05"/>
<line x1="36.30" y1="567.50" x2="49.40" y2="567.50" stroke="#1a1a1a" stroke-width="1"/>
<rect x="60.55" y="563.45" width="3.90" height="3.90" fill="#fff" fill-opacity="0" stroke="#1a1a1a" stroke-width="1.05"/>
<rect x="60.55" y="588.55" width="3.90" height="3.90" fill="#fff" fill-opacity="0" stroke="#1a1a1a" stroke-width="1.05"/>
<rect x="60.55" y="611.45" width="3.90" height="3.90" fill="#fff" fill-opacity="0" stroke="#1a1a1a" stroke-width="1.05"/>
<rect x="60.55" y="619.75" width="3.90" height="3.90" fill="#fff" fill-opacity="0" stroke="#1a1a1a" stroke-width="1.05"/>
<rect x="57.35" y="624.85" width="3.90" height="3.90" fill="#fff" fill-opacity="0" stroke="#1a1a1a" stroke-width="1.05"/>
<rect x="63.55" y="624.85" width="3.90" height="3.90" fill="#fff" fill-opacity="0" stroke="#1a1a1a" stroke-width="1.05"/>
<rect x="60.55" y="627.85" width="3.90" height="3.90" fill="#fff" fill-opacity="0" stroke="#1a1a1a" stroke-width="1.05"/>
<line x1="56.30" y1="584.30" x2="69.00" y2="584.30" stroke="#1a1a1a" stroke-width="1"/>
<path d="M82.30,533.91 L84.40,537.89 L80.20,537.89 Z" fill="#0a0a0a"/>
<path d="M82.30,541.91 L84.40,545.89 L80.20,545.89 Z" fill="#0a0a0a"/>
<path d="M82.30,552.91 L84.40,556.89 L80.20,556.89 Z" fill="#0a0a0a"/>
<path d="M76.50,602.91 L78.60,606.89 L74.40,606.89 Z" fill="#0a0a0a"/>
<path d="M82.30,608.61 L84.40,612.59 L80.20,612.59 Z" fill="#0a0a0a"/>
<path d="M80.50,611.91 L82.60,615.89 L78.40,615.89 Z" fill="#0a0a0a"/>
<path d="M84.00,613.21 L86.10,617.19 L81.90,617.19 Z" fill="#0a0a0a"/>
<path d="M85.50,616.61 L87.60,620.59 L83.40,620.59 Z" fill="#0a0a0a"/>
<path d="M76.50,619.61 L78.60,623.59 L74.40,623.59 Z" fill="#0a0a0a"/>
<path d="M82.30,619.91 L84.40,623.89 L80.20,623.89 Z" fill="#0a0a0a"/>
<path d="M82.30,633.91 L84.40,637.89 L80.20,637.89 Z" fill="#0a0a0a"/>
<line x1="75.90" y1="559.00" x2="89.20" y2="559.00" stroke="#1a1a1a" stroke-width="1"/>
<text x="47.00" y="662.00" font-size="13" text-anchor="end" transform="rotate(-45 47.00 662.00)" fill="#111" >f/-</text>
<text x="66.80" y="662.30" font-size="13" text-anchor="end" transform="rotate(-45 66.80 662.30)" fill="#111" >f/f</text>
<text x="87.30" y="662.90" font-size="13" text-anchor="end" transform="rotate(-45 87.30 662.90)" fill="#111" >f/- Mrp8</text>
<line x1="134.80" y1="531.10" x2="134.80" y2="651.10" stroke="#1a1a1a" stroke-width="1"/>
<line x1="134.30" y1="650.60" x2="194.50" y2="650.60" stroke="#1a1a1a" stroke-width="1"/>
<line x1="131.80" y1="531.60" x2="134.80" y2="531.60" stroke="#1a1a1a" stroke-width="0.9"/>
<text x="131.30" y="534.55" font-size="8.2" text-anchor="end" fill="#111" >15</text>
<line x1="131.80" y1="571.27" x2="134.80" y2="571.27" stroke="#1a1a1a" stroke-width="0.9"/>
<text x="131.30" y="574.22" font-size="8.2" text-anchor="end" fill="#111" >10</text>
<line x1="131.80" y1="610.93" x2="134.80" y2="610.93" stroke="#1a1a1a" stroke-width="0.9"/>
<text x="131.30" y="613.89" font-size="8.2" text-anchor="end" fill="#111" >5</text>
<line x1="131.80" y1="650.60" x2="134.80" y2="650.60" stroke="#1a1a1a" stroke-width="0.9"/>
<text x="131.30" y="653.55" font-size="8.2" text-anchor="end" fill="#111" >0</text>
<text x="117.30" y="589.50" font-size="13.3" text-anchor="middle" transform="rotate(-90 117.30 589.50)" fill="#111" >Total Cell Infiltrate (x10<tspan font-size="9.3" dy="-7.0">6</tspan><tspan dy="7.0">)</tspan></text>
<rect x="142.95" y="542.55" width="3.90" height="3.90" fill="#fff" fill-opacity="0" stroke="#1a1a1a" stroke-width="1.05"/>
<rect x="142.95" y="602.35" width="3.90" height="3.90" fill="#fff" fill-opacity="0" stroke="#1a1a1a" stroke-width="1.05"/>
<rect x="142.95" y="616.05" width="3.90" height="3.90" fill="#fff" fill-opacity="0" stroke="#1a1a1a" stroke-width="1.05"/>
<line x1="138.20" y1="588.90" x2="151.30" y2="588.90" stroke="#1a1a1a" stroke-width="1"/>
<rect x="162.45" y="571.25" width="3.90" height="3.90" fill="#fff" fill-opacity="0" stroke="#1a1a1a" stroke-width="1.05"/>
<rect x="165.45" y="582.75" width="3.90" height="3.90" fill="#fff" fill-opacity="0" stroke="#1a1a1a" stroke-width="1.05"/>
<rect x="162.45" y="588.55" width="3.90" height="3.90" fill="#fff" fill-opacity="0" stroke="#1a1a1a" stroke-width="1.05"/>
<rect x="156.25" y="598.85" width="3.90" height="3.90" fill="#fff" fill-opacity="0" stroke="#1a1a1a" stroke-width="1.05"/>
<rect x="162.45" y="602.35" width="3.90" height="3.90" fill="#fff" fill-opacity="0" stroke="#1a1a1a" stroke-width="1.05"/>
<rect x="162.45" y="608.75" width="3.90" height="3.90" fill="#fff" fill-opacity="0" stroke="#1a1a1a" stroke-width="1.05"/>
<rect x="165.95" y="608.75" width="3.90" height="3.90" fill="#fff" fill-opacity="0" stroke="#1a1a1a" stroke-width="1.05"/>
<line x1="158.20" y1="596.20" x2="170.90" y2="596.20" stroke="#1a1a1a" stroke-width="1"/>
<path d="M184.20,552.31 L186.30,556.29 L182.10,556.29 Z" fill="#0a0a0a"/>
<path d="M184.20,559.91 L186.30,563.89 L182.10,563.89 Z" fill="#0a0a0a"/>
<path d="M178.40,586.11 L180.50,590.09 L176.30,590.09 Z" fill="#0a0a0a"/>
<path d="M184.20,587.91 L186.30,591.89 L182.10,591.89 Z" fill="#0a0a0a"/>
<path d="M187.00,593.61 L189.10,597.59 L184.90,597.59 Z" fill="#0a0a0a"/>
<path d="M184.20,595.51 L186.30,599.49 L182.10,599.49 Z" fill="#0a0a0a"/>
<path d="M178.40,602.21 L180.50,606.19 L176.30,606.19 Z" fill="#0a0a0a"/>
<path d="M184.20,603.51 L186.30,607.49 L182.10,607.49 Z" fill="#0a0a0a"/>
<path d="M187.00,602.91 L189.10,606.89 L184.90,606.89 Z" fill="#0a0a0a"/>
<path d="M181.20,606.31 L183.30,610.29 L179.10,610.29 Z" fill="#0a0a0a"/>
<path d="M185.80,606.91 L187.90,610.89 L183.70,610.89 Z" fill="#0a0a0a"/>
<path d="M184.20,611.61 L186.30,615.59 L182.10,615.59 Z" fill="#0a0a0a"/>
<path d="M184.20,618.21 L186.30,622.19 L182.10,622.19 Z" fill="#0a0a0a"/>
<path d="M181.20,623.51 L183.30,627.49 L179.10,627.49 Z" fill="#0a0a0a"/>
<path d="M184.20,625.11 L186.30,629.09 L182.10,629.09 Z" fill="#0a0a0a"/>
<path d="M187.00,625.11 L189.10,629.09 L184.90,629.09 Z" fill="#0a0a0a"/>
<line x1="177.30" y1="601.50" x2="191.00" y2="601.50" stroke="#1a1a1a" stroke-width="1"/>
<text x="149.00" y="662.00" font-size="13" text-anchor="end" transform="rotate(-45 149.00 662.00)" fill="#111" >f/-</text>
<text x="169.00" y="662.50" font-size="13" text-anchor="end" transform="rotate(-45 169.00 662.50)" fill="#111" >f/f</text>
<text x="188.80" y="663.00" font-size="13" text-anchor="end" transform="rotate(-45 188.80 663.00)" fill="#111" >f/- Mrp8</text>
<text x="213.40" y="510.30" font-size="17.4" text-anchor="start" font-weight="bold" fill="#000" >G</text>
<text x="270.00" y="508.00" font-size="15" text-anchor="start" font-style="italic" fill="#111" >S. aureus</text>
<line x1="246.80" y1="526.90" x2="246.80" y2="646.70" stroke="#1a1a1a" stroke-width="1"/>
<line x1="246.30" y1="646.20" x2="282.20" y2="646.20" stroke="#1a1a1a" stroke-width="1"/>
<line x1="243.80" y1="527.40" x2="246.80" y2="527.40" stroke="#1a1a1a" stroke-width="0.9"/>
<text x="243.70" y="531.04" font-size="10.1" text-anchor="end" fill="#111" >40</text>
<line x1="243.80" y1="557.10" x2="246.80" y2="557.10" stroke="#1a1a1a" stroke-width="0.9"/>
<text x="243.70" y="560.74" font-size="10.1" text-anchor="end" fill="#111" >30</text>
<line x1="243.80" y1="586.80" x2="246.80" y2="586.80" stroke="#1a1a1a" stroke-width="0.9"/>
<text x="243.70" y="590.44" font-size="10.1" text-anchor="end" fill="#111" >20</text>
<line x1="243.80" y1="616.50" x2="246.80" y2="616.50" stroke="#1a1a1a" stroke-width="0.9"/>
<text x="243.70" y="620.14" font-size="10.1" text-anchor="end" fill="#111" >10</text>
<line x1="243.80" y1="646.20" x2="246.80" y2="646.20" stroke="#1a1a1a" stroke-width="0.9"/>
<text x="243.70" y="649.84" font-size="10.1" text-anchor="end" fill="#111" >0</text>
<text x="223.40" y="585.00" font-size="13" text-anchor="middle" transform="rotate(-90 223.40 585.00)" fill="#111" >TNF&#945; (pg/mL)</text>
<rect x="250.3" y="543.3" width="13.2" height="103" fill="#fff" stroke="#1a1a1a" stroke-width="1"/>
<line x1="256.90" y1="528.40" x2="256.90" y2="543.30" stroke="#1a1a1a" stroke-width="1"/>
<line x1="254.30" y1="528.40" x2="259.60" y2="528.40" stroke="#1a1a1a" stroke-width="1"/>
<rect x="269.9" y="579.2" width="11.6" height="67.1" fill="#0a0a0a" stroke="#0a0a0a" stroke-width="1"/>
<line x1="275.80" y1="571.00" x2="275.80" y2="579.20" stroke="#1a1a1a" stroke-width="1"/>
<line x1="273.20" y1="571.00" x2="278.60" y2="571.00" stroke="#1a1a1a" stroke-width="1"/>
<path d="M249.40,525.40 L249.40,522.20 L281.60,522.20 L281.60,525.40" fill="none" stroke="#1a1a1a" stroke-width="1.4"/>
<text x="266.00" y="519.78" font-size="14" text-anchor="middle" font-weight="bold" fill="#000" >*</text>
<text x="261.40" y="657.40" font-size="13.7" text-anchor="end" transform="rotate(-45 261.40 657.40)" fill="#111" >f/+ LysM</text>
<text x="280.60" y="657.40" font-size="13.7" text-anchor="end" transform="rotate(-45 280.60 657.40)" fill="#111" >f/- LysM</text>
<line x1="324.80" y1="526.70" x2="324.80" y2="646.70" stroke="#1a1a1a" stroke-width="1"/>
<line x1="324.30" y1="646.20" x2="365.00" y2="646.20" stroke="#1a1a1a" stroke-width="1"/>
<line x1="321.80" y1="527.20" x2="324.80" y2="527.20" stroke="#1a1a1a" stroke-width="0.9"/>
<text x="321.80" y="530.69" font-size="9.7" text-anchor="end" fill="#111" >1.5</text>
<line x1="321.80" y1="566.87" x2="324.80" y2="566.87" stroke="#1a1a1a" stroke-width="0.9"/>
<text x="321.80" y="570.36" font-size="9.7" text-anchor="end" fill="#111" >1.0</text>
<line x1="321.80" y1="606.53" x2="324.80" y2="606.53" stroke="#1a1a1a" stroke-width="0.9"/>
<text x="321.80" y="610.03" font-size="9.7" text-anchor="end" fill="#111" >0.5</text>
<line x1="321.80" y1="646.20" x2="324.80" y2="646.20" stroke="#1a1a1a" stroke-width="0.9"/>
<text x="321.80" y="649.69" font-size="9.7" text-anchor="end" fill="#111" >0.0</text>
<text x="302.00" y="584.00" font-size="12.9" text-anchor="middle" transform="rotate(-90 302.00 584.00)" fill="#111" >MIP1&#945; (ng/mL)</text>
<rect x="328.3" y="565.9" width="13.4" height="80.4" fill="#fff" stroke="#1a1a1a" stroke-width="1"/>
<line x1="334.80" y1="536.70" x2="334.80" y2="565.90" stroke="#1a1a1a" stroke-width="1"/>
<line x1="332.00" y1="536.70" x2="338.00" y2="536.70" stroke="#1a1a1a" stroke-width="1"/>
<rect x="348.4" y="627.2" width="13.2" height="19.1" fill="#0a0a0a" stroke="#0a0a0a" stroke-width="1"/>
<line x1="355.00" y1="621.70" x2="355.00" y2="627.20" stroke="#1a1a1a" stroke-width="1"/>
<line x1="351.80" y1="621.70" x2="358.40" y2="621.70" stroke="#1a1a1a" stroke-width="1"/>
<path d="M330.20,525.40 L330.20,522.20 L362.90,522.20 L362.90,525.40" fill="none" stroke="#1a1a1a" stroke-width="1.4"/>
<text x="345.20" y="519.38" font-size="14" text-anchor="middle" font-weight="bold" fill="#000" >*</text>
<text x="339.20" y="657.40" font-size="13.7" text-anchor="end" transform="rotate(-45 339.20 657.40)" fill="#111" >f/+ LysM</text>
<text x="358.70" y="657.40" font-size="13.7" text-anchor="end" transform="rotate(-45 358.70 657.40)" fill="#111" >f/- LysM</text>
</svg>
</body></html>
